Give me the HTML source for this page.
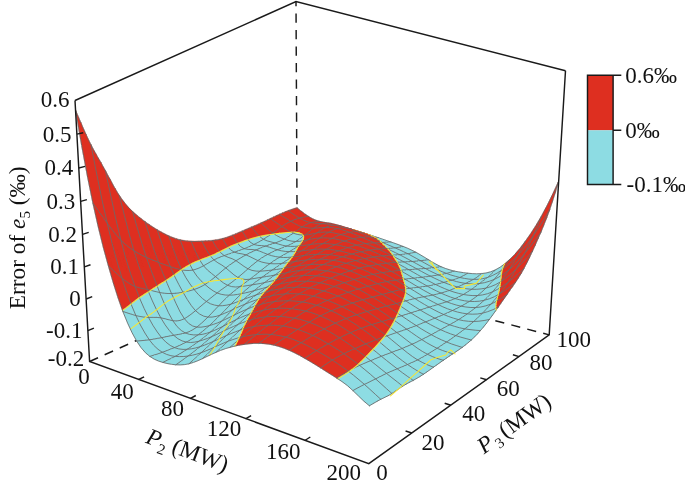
<!DOCTYPE html><html><head><meta charset="utf-8"><title>Error of e5</title><style>html,body{margin:0;padding:0;background:#fff}svg{display:block}
.rf{fill:#de2f20;stroke:#de2f20;stroke-width:.4;shape-rendering:crispEdges}.cf{fill:#8ddce3;stroke:#8ddce3;stroke-width:.4;shape-rendering:crispEdges}
.m{fill:none;stroke:#6a6a6a;stroke-width:.85}.y{fill:none;stroke:#f3e63a;stroke-width:1.1}</style></head><body><svg width="685" height="488" viewBox="0 0 685 488">
<rect width="685" height="488" fill="#fff"/>
<path d="M75.0,100.5L296.0,1.6L565.5,70.7" stroke="#1a1a1a" stroke-width="1.45" fill="none" stroke-linecap="butt" stroke-linejoin="miter"/>
<path d="M296.0,1.6L297.3,268.5" stroke="#1a1a1a" stroke-width="1.45" fill="none" stroke-linecap="butt" stroke-dasharray="9.2 7.3" stroke-dashoffset="4.5"/>
<path d="M89.6,361.5L297.3,268.5" stroke="#1a1a1a" stroke-width="1.45" fill="none" stroke-linecap="butt" stroke-dasharray="9.2 7.3" stroke-dashoffset="0"/>
<path d="M549.2,334.9L297.3,268.5" stroke="#1a1a1a" stroke-width="1.45" fill="none" stroke-linecap="butt" stroke-dasharray="9.2 7.3" stroke-dashoffset="3"/>
<g stroke-linejoin="round" stroke-linecap="round"><path d="M294.2,208.7L297.9,211.6L301.7,214.4L305.5,216.8L309.2,218.9L313.0,220.5L316.8,221.6L320.6,222.3L324.5,222.8L328.3,223.4L332.2,224.1L336.1,225.0L340.0,226.0L343.9,227.1L347.9,228.2L350.6,228.9L346.7,227.7L342.8,226.5L338.9,225.3L335.0,224.3L331.2,223.4L327.3,222.8L323.5,222.2L319.7,221.4L315.9,220.2L312.1,218.5L308.3,216.3L304.6,213.7L300.8,210.8L297.1,207.8ZM347.9,228.2L351.8,229.3L354.4,230.1L353.3,229.8L350.6,228.9ZM351.8,229.3L355.8,230.5L358.0,231.2L354.4,230.1ZM355.8,230.5L359.8,231.7L361.5,232.3L358.0,231.2ZM359.8,231.7L363.8,233.0L365.0,233.4L361.5,232.3ZM363.8,233.0L367.8,234.4L368.4,234.6L365.0,233.4ZM367.8,234.4L371.1,235.6L368.4,234.6ZM504.5,264.3L505.0,263.6L504.6,263.9ZM503.9,265.8L507.3,262.9L509.9,259.2L505.0,263.6L504.5,264.3ZM507.3,262.9L512.3,258.1L517.4,252.6L522.6,246.4L527.8,239.5L533.1,231.8L538.6,223.2L544.1,213.8L549.7,203.3L555.5,191.8L558.5,181.5L552.6,194.3L546.9,205.8L541.4,216.2L535.9,225.5L530.5,233.9L525.2,241.4L520.1,248.1L515.0,254.1L509.9,259.2Z" class="rf"/><path d="M354.4,230.1L354.6,230.2L353.3,229.8ZM358.0,231.2L358.6,231.4L354.6,230.2L354.4,230.1ZM361.5,232.3L362.5,232.6L358.6,231.4L358.0,231.2ZM365.0,233.4L366.5,233.8L362.5,232.6L361.5,232.3ZM368.4,234.6L370.5,235.1L366.5,233.8L365.0,233.4ZM371.1,235.6L371.8,235.9L374.6,236.5L370.5,235.1L368.4,234.6ZM371.8,235.9L375.9,237.4L380.0,239.0L384.1,240.6L388.2,242.2L392.3,243.7L396.4,245.3L400.6,247.0L404.8,248.7L409.0,250.6L413.2,252.7L417.4,255.1L421.6,257.5L425.8,260.1L430.1,262.6L434.4,265.0L438.7,267.1L443.0,269.0L447.4,270.6L451.7,271.9L456.2,273.0L460.6,274.0L465.1,274.8L469.6,275.4L474.1,275.8L478.7,275.9L483.3,275.5L488.0,274.5L492.7,272.8L497.5,270.3L500.1,267.2L495.3,269.9L490.6,271.8L485.9,273.0L481.3,273.6L476.7,273.8L472.2,273.6L467.7,273.2L463.2,272.6L458.8,271.9L454.3,271.1L450.0,269.9L445.6,268.5L441.3,266.8L437.0,264.7L432.7,262.3L428.5,259.7L424.2,257.1L420.0,254.6L415.8,252.2L411.6,250.1L407.5,248.2L403.3,246.5L399.1,244.9L395.0,243.4L390.9,242.0L386.8,240.6L382.7,239.2L378.6,237.8L374.6,236.5ZM497.5,270.3L502.4,267.0L504.5,264.3L504.6,263.9L500.1,267.2ZM502.4,267.0L503.9,265.8L504.5,264.3Z" class="cf"/><path d="M294.2,208.7L297.1,207.8M305.5,216.8L308.3,216.3M316.8,221.6L319.7,221.4M328.3,223.4L331.2,223.4M340.0,226.0L342.8,226.5M351.8,229.3L354.6,230.2M363.8,233.0L366.5,233.8M375.9,237.4L378.6,237.8M388.2,242.2L390.9,242.0M400.6,247.0L403.3,246.5M413.2,252.7L415.8,252.2M425.8,260.1L428.5,259.7M438.7,267.1L441.3,266.8M451.7,271.9L454.3,271.1M465.1,274.8L467.7,273.2M478.7,275.9L481.3,273.6M492.7,272.8L495.3,269.9M507.3,262.9L509.9,259.2M522.6,246.4L525.2,241.4M538.6,223.2L541.4,216.2M555.5,191.8L558.5,181.5M297.1,207.8L300.8,210.8L304.6,213.7L308.3,216.3L312.1,218.5L315.9,220.2L319.7,221.4L323.5,222.2L327.3,222.8L331.2,223.4L335.0,224.3L338.9,225.3L342.8,226.5L346.7,227.7L350.6,228.9L354.6,230.2L358.6,231.4L362.5,232.6L366.5,233.8L370.5,235.1L374.6,236.5L378.6,237.8L382.7,239.2L386.8,240.6L390.9,242.0L395.0,243.4L399.1,244.9L403.3,246.5L407.5,248.2L411.6,250.1L415.8,252.2L420.0,254.6L424.2,257.1L428.5,259.7L432.7,262.3L437.0,264.7L441.3,266.8L445.6,268.5L450.0,269.9L454.3,271.1L458.8,271.9L463.2,272.6L467.7,273.2L472.2,273.6L476.7,273.8L481.3,273.6L485.9,273.0L490.6,271.8L495.3,269.9L500.1,267.2L505.0,263.6L509.9,259.2L515.0,254.1L520.1,248.1L525.2,241.4L530.5,233.9L535.9,225.5L541.4,216.2L546.9,205.8L552.6,194.3L558.5,181.5" class="m"/><path d="M354.4,230.1L353.3,229.8M358.0,231.2L354.4,230.1M361.5,232.3L358.0,231.2M365.0,233.4L361.5,232.3M368.4,234.6L365.0,233.4M371.1,235.6L368.4,234.6M431.9,262.4L431.8,261.7M432.4,263.9L431.9,262.4M504.5,264.3L504.6,263.9M503.9,265.8L504.5,264.3" class="y"/><path d="M291.3,209.7L295.0,212.4L298.8,215.1L302.6,217.4L306.3,219.4L310.1,220.9L313.9,222.0L317.8,222.6L321.6,223.0L325.5,223.4L329.4,224.0L333.3,224.7L337.2,225.6L341.1,226.5L345.0,227.6L349.0,228.6L353.0,229.8L357.0,231.0L361.0,232.4L365.0,233.9L367.8,234.4L363.8,233.0L359.8,231.7L355.8,230.5L351.8,229.3L347.9,228.2L343.9,227.1L340.0,226.0L336.1,225.0L332.2,224.1L328.3,223.4L324.5,222.8L320.6,222.3L316.8,221.6L313.0,220.5L309.2,218.9L305.5,216.8L301.7,214.4L297.9,211.6L294.2,208.7ZM365.0,233.9L369.1,235.5L371.7,235.9L371.1,235.6L367.8,234.4ZM369.1,235.5L373.1,237.2L374.6,237.3L371.7,235.9ZM373.1,237.2L377.2,238.9L377.3,238.9L374.6,237.3ZM377.2,238.9L377.3,238.9L377.3,238.9ZM503.1,267.6L504.7,266.5L507.3,262.9L503.9,265.8ZM504.7,266.5L509.7,262.1L514.7,257.1L519.9,251.4L525.1,245.0L530.4,237.9L535.8,229.9L541.2,221.2L546.8,211.6L552.5,201.2L555.5,191.8L549.7,203.3L544.1,213.8L538.6,223.2L533.1,231.8L527.8,239.5L522.6,246.4L517.4,252.6L512.3,258.1L507.3,262.9Z" class="rf"/><path d="M371.7,235.9L371.8,235.9L371.1,235.6ZM374.6,237.3L375.9,237.4L371.8,235.9L371.7,235.9ZM377.3,238.9L380.0,239.0L375.9,237.4L374.6,237.3ZM377.3,238.9L381.3,240.6L384.1,240.6L380.0,239.0L377.3,238.9ZM381.3,240.6L385.4,242.3L389.6,244.0L393.7,245.7L397.9,247.5L402.1,249.3L406.3,251.2L410.5,253.3L414.7,255.5L418.9,257.9L423.2,260.4L427.4,262.9L431.7,265.2L436.0,267.4L440.4,269.4L444.7,271.2L449.1,272.7L453.6,274.1L458.0,275.2L462.5,276.2L467.0,277.0L471.5,277.6L476.1,277.8L480.7,277.5L485.4,276.7L490.1,275.3L494.9,273.1L499.7,270.1L502.4,267.0L497.5,270.3L492.7,272.8L488.0,274.5L483.3,275.5L478.7,275.9L474.1,275.8L469.6,275.4L465.1,274.8L460.6,274.0L456.2,273.0L451.7,271.9L447.4,270.6L443.0,269.0L438.7,267.1L434.4,265.0L430.1,262.6L425.8,260.1L421.6,257.5L417.4,255.1L413.2,252.7L409.0,250.6L404.8,248.7L400.6,247.0L396.4,245.3L392.3,243.7L388.2,242.2L384.1,240.6ZM499.7,270.1L503.1,267.6L503.9,265.8L502.4,267.0Z" class="cf"/><path d="M291.3,209.7L294.2,208.7M302.6,217.4L305.5,216.8M313.9,222.0L316.8,221.6M325.5,223.4L328.3,223.4M337.2,225.6L340.0,226.0M349.0,228.6L351.8,229.3M361.0,232.4L363.8,233.0M373.1,237.2L375.9,237.4M385.4,242.3L388.2,242.2M397.9,247.5L400.6,247.0M410.5,253.3L413.2,252.7M423.2,260.4L425.8,260.1M436.0,267.4L438.7,267.1M449.1,272.7L451.7,271.9M462.5,276.2L465.1,274.8M476.1,277.8L478.7,275.9M490.1,275.3L492.7,272.8M504.7,266.5L507.3,262.9M519.9,251.4L522.6,246.4M535.8,229.9L538.6,223.2M552.5,201.2L555.5,191.8" class="m"/><path d="M371.7,235.9L371.1,235.6M374.6,237.3L371.7,235.9M377.3,238.9L374.6,237.3M377.3,238.9L377.3,238.9M432.9,265.1L432.4,263.9M433.6,266.2L432.9,265.1M503.1,267.6L503.9,265.8" class="y"/><path d="M288.4,210.7L292.1,213.4L295.9,215.9L299.7,218.1L303.4,220.1L307.2,221.6L311.1,222.6L314.9,223.2L318.7,223.5L322.6,223.7L326.5,224.2L330.4,224.7L334.3,225.4L338.3,226.2L342.2,227.1L346.2,228.1L350.2,229.3L354.2,230.6L358.2,232.0L362.2,233.6L366.3,235.3L370.4,237.0L374.5,238.9L377.2,238.9L373.1,237.2L369.1,235.5L365.0,233.9L361.0,232.4L357.0,231.0L353.0,229.8L349.0,228.6L345.0,227.6L341.1,226.5L337.2,225.6L333.3,224.7L329.4,224.0L325.5,223.4L321.6,223.0L317.8,222.6L313.9,222.0L310.1,220.9L306.3,219.4L302.6,217.4L298.8,215.1L295.0,212.4L291.3,209.7ZM374.5,238.9L378.6,240.7L379.5,240.7L377.3,238.9L377.2,238.9ZM378.6,240.7L380.4,241.5L379.5,240.7ZM502.7,269.1L504.7,266.5L503.1,267.6ZM502.5,269.5L507.0,266.0L509.7,262.1L504.7,266.5L502.7,269.1ZM507.0,266.0L512.0,261.5L517.1,256.3L522.3,250.4L527.6,243.8L533.0,236.3L538.4,228.2L544.0,219.3L549.6,209.9L552.5,201.2L546.8,211.6L541.2,221.2L535.8,229.9L530.4,237.9L525.1,245.0L519.9,251.4L514.7,257.1L509.7,262.1Z" class="rf"/><path d="M379.5,240.7L381.3,240.6L377.3,238.9ZM380.4,241.5L382.7,242.5L385.4,242.3L381.3,240.6L379.5,240.7ZM382.7,242.5L386.8,244.3L391.0,246.1L395.1,247.9L399.3,249.7L403.5,251.7L407.8,253.7L412.0,256.0L416.2,258.3L420.5,260.7L424.8,263.1L429.1,265.5L433.4,267.7L437.7,269.8L442.1,271.7L446.5,273.4L450.9,275.0L455.4,276.3L459.9,277.5L464.4,278.4L468.9,279.1L473.5,279.4L478.1,279.3L482.8,278.7L487.5,277.5L492.3,275.6L497.1,273.1L499.7,270.1L494.9,273.1L490.1,275.3L485.4,276.7L480.7,277.5L476.1,277.8L471.5,277.6L467.0,277.0L462.5,276.2L458.0,275.2L453.6,274.1L449.1,272.7L444.7,271.2L440.4,269.4L436.0,267.4L431.7,265.2L427.4,262.9L423.2,260.4L418.9,257.9L414.7,255.5L410.5,253.3L406.3,251.2L402.1,249.3L397.9,247.5L393.7,245.7L389.6,244.0L385.4,242.3ZM497.1,273.1L502.0,269.9L502.7,269.1L503.1,267.6L499.7,270.1ZM502.0,269.9L502.5,269.5L502.7,269.1Z" class="cf"/><path d="M288.4,210.7L291.3,209.7M299.7,218.1L302.6,217.4M311.1,222.6L313.9,222.0M322.6,223.7L325.5,223.4M334.3,225.4L337.2,225.6M346.2,228.1L349.0,228.6M358.2,232.0L361.0,232.4M370.4,237.0L373.1,237.2M382.7,242.5L385.4,242.3M395.1,247.9L397.9,247.5M407.8,253.7L410.5,253.3M420.5,260.7L423.2,260.4M433.4,267.7L436.0,267.4M446.5,273.4L449.1,272.7M459.9,277.5L462.5,276.2M473.5,279.4L476.1,277.8M487.5,277.5L490.1,275.3M502.0,269.9L504.7,266.5M517.1,256.3L519.9,251.4M533.0,236.3L535.8,229.9M549.6,209.9L552.5,201.2" class="m"/><path d="M379.5,240.7L377.3,238.9M380.4,241.5L379.5,240.7M434.4,267.6L433.6,266.2M435.2,268.6L434.4,267.6M502.7,269.1L503.1,267.6M502.5,269.5L502.7,269.1" class="y"/><path d="M285.4,211.9L289.2,214.4L293.0,216.7L296.7,219.0L300.5,221.0L304.3,222.6L308.1,223.6L312.0,224.2L315.8,224.5L319.7,224.6L323.6,224.9L327.5,225.2L331.5,225.6L335.4,226.2L339.4,227.0L343.3,227.9L347.3,229.1L351.4,230.4L355.4,231.8L359.4,233.5L363.5,235.2L367.6,237.0L371.7,238.9L375.8,240.8L378.6,240.7L374.5,238.9L370.4,237.0L366.3,235.3L362.2,233.6L358.2,232.0L354.2,230.6L350.2,229.3L346.2,228.1L342.2,227.1L338.3,226.2L334.3,225.4L330.4,224.7L326.5,224.2L322.6,223.7L318.7,223.5L314.9,223.2L311.1,222.6L307.2,221.6L303.4,220.1L299.7,218.1L295.9,215.9L292.1,213.4L288.4,210.7ZM375.8,240.8L379.9,242.7L381.5,242.6L380.4,241.5L378.6,240.7ZM379.9,242.7L382.9,244.0L381.5,242.6ZM501.9,271.4L504.3,269.8L507.0,266.0L502.5,269.5ZM504.3,269.8L509.3,265.8L514.4,261.1L519.6,255.6L524.9,249.4L530.2,242.4L535.6,234.7L541.1,226.5L546.7,217.8L549.6,209.9L544.0,219.3L538.4,228.2L533.0,236.3L527.6,243.8L522.3,250.4L517.1,256.3L512.0,261.5L507.0,266.0Z" class="rf"/><path d="M381.5,242.6L382.7,242.5L380.4,241.5ZM382.9,244.0L384.0,244.5L386.8,244.3L382.7,242.5L381.5,242.6ZM384.0,244.5L388.2,246.4L392.4,248.2L396.6,250.1L400.8,252.1L405.0,254.1L409.3,256.4L413.5,258.7L417.8,261.0L422.1,263.4L426.4,265.7L430.7,268.0L435.1,270.2L439.5,272.2L443.9,274.0L448.3,275.7L452.8,277.2L457.2,278.5L461.7,279.6L466.3,280.4L470.9,280.8L475.5,280.9L480.2,280.5L484.9,279.5L489.6,278.0L494.5,275.9L499.4,273.2L502.0,269.9L497.1,273.1L492.3,275.6L487.5,277.5L482.8,278.7L478.1,279.3L473.5,279.4L468.9,279.1L464.4,278.4L459.9,277.5L455.4,276.3L450.9,275.0L446.5,273.4L442.1,271.7L437.7,269.8L433.4,267.7L429.1,265.5L424.8,263.1L420.5,260.7L416.2,258.3L412.0,256.0L407.8,253.7L403.5,251.7L399.3,249.7L395.1,247.9L391.0,246.1L386.8,244.3ZM499.4,273.2L501.9,271.4L502.5,269.5L502.0,269.9Z" class="cf"/><path d="M285.4,211.9L288.4,210.7M296.7,219.0L299.7,218.1M308.1,223.6L311.1,222.6M319.7,224.6L322.6,223.7M331.5,225.6L334.3,225.4M343.3,227.9L346.2,228.1M355.4,231.8L358.2,232.0M367.6,237.0L370.4,237.0M379.9,242.7L382.7,242.5M392.4,248.2L395.1,247.9M405.0,254.1L407.8,253.7M417.8,261.0L420.5,260.7M430.7,268.0L433.4,267.7M443.9,274.0L446.5,273.4M457.2,278.5L459.9,277.5M470.9,280.8L473.5,279.4M484.9,279.5L487.5,277.5M499.4,273.2L502.0,269.9M514.4,261.1L517.1,256.3M530.2,242.4L533.0,236.3M546.7,217.8L549.6,209.9M288.4,210.7L292.1,213.4L295.9,215.9L299.7,218.1L303.4,220.1L307.2,221.6L311.1,222.6L314.9,223.2L318.7,223.5L322.6,223.7L326.5,224.2L330.4,224.7L334.3,225.4L338.3,226.2L342.2,227.1L346.2,228.1L350.2,229.3L354.2,230.6L358.2,232.0L362.2,233.6L366.3,235.3L370.4,237.0L374.5,238.9L378.6,240.7L382.7,242.5L386.8,244.3L391.0,246.1L395.1,247.9L399.3,249.7L403.5,251.7L407.8,253.7L412.0,256.0L416.2,258.3L420.5,260.7L424.8,263.1L429.1,265.5L433.4,267.7L437.7,269.8L442.1,271.7L446.5,273.4L450.9,275.0L455.4,276.3L459.9,277.5L464.4,278.4L468.9,279.1L473.5,279.4L478.1,279.3L482.8,278.7L487.5,277.5L492.3,275.6L497.1,273.1L502.0,269.9L507.0,266.0L512.0,261.5L517.1,256.3L522.3,250.4L527.6,243.8L533.0,236.3L538.4,228.2L544.0,219.3L549.6,209.9" class="m"/><path d="M381.5,242.6L380.4,241.5M382.9,244.0L381.5,242.6M436.2,270.0L435.2,268.6M501.9,271.4L502.5,269.5" class="y"/><path d="M282.5,213.1L286.2,215.5L290.0,217.8L293.8,220.0L297.6,222.1L301.4,223.9L305.2,225.1L309.1,225.8L312.9,226.1L316.8,226.1L320.7,226.1L324.6,226.2L328.6,226.3L332.5,226.6L336.5,227.2L340.5,228.1L344.5,229.2L348.5,230.5L352.5,232.0L356.6,233.6L360.7,235.3L364.8,237.1L368.9,239.0L373.0,240.9L377.1,242.8L379.9,242.7L375.8,240.8L371.7,238.9L367.6,237.0L363.5,235.2L359.4,233.5L355.4,231.8L351.4,230.4L347.3,229.1L343.3,227.9L339.4,227.0L335.4,226.2L331.5,225.6L327.5,225.2L323.6,224.9L319.7,224.6L315.8,224.5L312.0,224.2L308.1,223.6L304.3,222.6L300.5,221.0L296.7,219.0L293.0,216.7L289.2,214.4L285.4,211.9ZM377.1,242.8L381.3,244.7L383.5,244.6L382.9,244.0L379.9,242.7ZM381.3,244.7L385.4,246.5L385.5,246.5L383.5,244.6ZM385.4,246.5L385.5,246.6L385.5,246.5ZM501.6,273.5L504.3,269.8L501.9,271.4ZM501.6,273.5L506.6,269.9L509.3,265.8L504.3,269.8L501.6,273.5ZM506.6,269.9L511.7,265.6L516.9,260.5L522.1,254.7L527.4,248.2L532.8,241.0L538.3,233.2L543.8,225.1L546.7,217.8L541.1,226.5L535.6,234.7L530.2,242.4L524.9,249.4L519.6,255.6L514.4,261.1L509.3,265.8Z" class="rf"/><path d="M383.5,244.6L384.0,244.5L382.9,244.0ZM385.5,246.5L388.2,246.4L384.0,244.5L383.5,244.6ZM385.5,246.6L389.6,248.4L392.4,248.2L388.2,246.4L385.5,246.5ZM389.6,248.4L393.8,250.4L398.1,252.4L402.3,254.4L406.5,256.6L410.8,258.9L415.1,261.3L419.4,263.6L423.7,266.0L428.1,268.3L432.4,270.5L436.8,272.6L441.2,274.6L445.6,276.4L450.1,278.0L454.6,279.4L459.1,280.6L463.7,281.5L468.2,282.1L472.9,282.4L477.5,282.2L482.2,281.5L487.0,280.4L491.8,278.7L496.7,276.4L499.4,273.2L494.5,275.9L489.6,278.0L484.9,279.5L480.2,280.5L475.5,280.9L470.9,280.8L466.3,280.4L461.7,279.6L457.2,278.5L452.8,277.2L448.3,275.7L443.9,274.0L439.5,272.2L435.1,270.2L430.7,268.0L426.4,265.7L422.1,263.4L417.8,261.0L413.5,258.7L409.3,256.4L405.0,254.1L400.8,252.1L396.6,250.1L392.4,248.2ZM496.7,276.4L501.6,273.5L501.6,273.5L501.9,271.4L499.4,273.2ZM501.6,273.5L501.6,273.5L501.6,273.5Z" class="cf"/><path d="M282.5,213.1L285.4,211.9M293.8,220.0L296.7,219.0M305.2,225.1L308.1,223.6M316.8,226.1L319.7,224.6M328.6,226.3L331.5,225.6M340.5,228.1L343.3,227.9M352.5,232.0L355.4,231.8M364.8,237.1L367.6,237.0M377.1,242.8L379.9,242.7M389.6,248.4L392.4,248.2M402.3,254.4L405.0,254.1M415.1,261.3L417.8,261.0M428.1,268.3L430.7,268.0M441.2,274.6L443.9,274.0M454.6,279.4L457.2,278.5M468.2,282.1L470.9,280.8M482.2,281.5L484.9,279.5M496.7,276.4L499.4,273.2M511.7,265.6L514.4,261.1M527.4,248.2L530.2,242.4M543.8,225.1L546.7,217.8" class="m"/><path d="M383.5,244.6L382.9,244.0M385.5,246.5L383.5,244.6M385.5,246.6L385.5,246.5M501.6,273.5L501.9,271.4M501.6,273.5L501.6,273.5" class="y"/><path d="M279.5,214.4L283.3,216.7L287.0,218.9L290.8,221.3L294.6,223.5L298.4,225.5L302.3,226.9L306.1,227.7L310.0,228.1L313.9,228.1L317.8,227.9L321.7,227.6L325.6,227.4L329.6,227.5L333.6,227.9L337.6,228.6L341.6,229.6L345.6,230.9L349.7,232.3L353.7,233.9L357.8,235.6L361.9,237.4L366.0,239.2L370.2,241.0L374.3,242.9L378.5,244.8L382.6,246.7L385.4,246.5L381.3,244.7L377.1,242.8L373.0,240.9L368.9,239.0L364.8,237.1L360.7,235.3L356.6,233.6L352.5,232.0L348.5,230.5L344.5,229.2L340.5,228.1L336.5,227.2L332.5,226.6L328.6,226.3L324.6,226.2L320.7,226.1L316.8,226.1L312.9,226.1L309.1,225.8L305.2,225.1L301.4,223.9L297.6,222.1L293.8,220.0L290.0,217.8L286.2,215.5L282.5,213.1ZM382.6,246.7L386.8,248.6L387.5,248.6L385.5,246.6L385.4,246.5ZM386.8,248.6L388.0,249.1L387.5,248.6ZM501.3,275.5L503.9,273.8L506.6,269.9L501.6,273.5ZM503.9,273.8L509.0,269.9L514.1,265.2L519.3,259.8L524.6,253.7L530.0,246.9L535.5,239.6L541.0,232.0L543.8,225.1L538.3,233.2L532.8,241.0L527.4,248.2L522.1,254.7L516.9,260.5L511.7,265.6L506.6,269.9Z" class="rf"/><path d="M387.5,248.6L389.6,248.4L385.5,246.6ZM388.0,249.1L391.1,250.6L393.8,250.4L389.6,248.4L387.5,248.6ZM391.1,250.6L395.3,252.6L399.5,254.7L403.8,256.9L408.1,259.2L412.4,261.5L416.7,263.8L421.0,266.2L425.4,268.5L429.7,270.8L434.1,272.9L438.5,275.0L443.0,276.9L447.4,278.7L451.9,280.2L456.5,281.6L461.0,282.6L465.6,283.4L470.2,283.8L474.9,283.9L479.6,283.5L484.4,282.7L489.2,281.3L494.0,279.5L498.9,277.0L501.6,273.5L496.7,276.4L491.8,278.7L487.0,280.4L482.2,281.5L477.5,282.2L472.9,282.4L468.2,282.1L463.7,281.5L459.1,280.6L454.6,279.4L450.1,278.0L445.6,276.4L441.2,274.6L436.8,272.6L432.4,270.5L428.1,268.3L423.7,266.0L419.4,263.6L415.1,261.3L410.8,258.9L406.5,256.6L402.3,254.4L398.1,252.4L393.8,250.4ZM498.9,277.0L501.3,275.5L501.6,273.5L501.6,273.5Z" class="cf"/><path d="M279.5,214.4L282.5,213.1M290.8,221.3L293.8,220.0M302.3,226.9L305.2,225.1M313.9,228.1L316.8,226.1M325.6,227.4L328.6,226.3M337.6,228.6L340.5,228.1M349.7,232.3L352.5,232.0M361.9,237.4L364.8,237.1M374.3,242.9L377.1,242.8M386.8,248.6L389.6,248.4M399.5,254.7L402.3,254.4M412.4,261.5L415.1,261.3M425.4,268.5L428.1,268.3M438.5,275.0L441.2,274.6M451.9,280.2L454.6,279.4M465.6,283.4L468.2,282.1M479.6,283.5L482.2,281.5M494.0,279.5L496.7,276.4M509.0,269.9L511.7,265.6M524.6,253.7L527.4,248.2M541.0,232.0L543.8,225.1" class="m"/><path d="M387.5,248.6L385.5,246.6M388.0,249.1L387.5,248.6M501.3,275.5L501.6,273.5" class="y"/><path d="M276.5,215.8L280.3,218.1L284.0,220.4L287.8,222.8L291.7,225.2L295.5,227.3L299.3,228.9L303.2,229.9L307.0,230.3L310.9,230.3L314.8,230.0L318.8,229.4L322.7,229.0L326.7,228.7L330.7,228.9L334.7,229.5L338.7,230.4L342.7,231.5L346.8,232.9L350.9,234.4L355.0,236.0L359.1,237.7L363.2,239.4L367.3,241.2L371.5,243.1L375.6,244.9L379.8,246.8L384.0,248.7L386.8,248.6L382.6,246.7L378.5,244.8L374.3,242.9L370.2,241.0L366.0,239.2L361.9,237.4L357.8,235.6L353.7,233.9L349.7,232.3L345.6,230.9L341.6,229.6L337.6,228.6L333.6,227.9L329.6,227.5L325.6,227.4L321.7,227.6L317.8,227.9L313.9,228.1L310.0,228.1L306.1,227.7L302.3,226.9L298.4,225.5L294.6,223.5L290.8,221.3L287.0,218.9L283.3,216.7L279.5,214.4ZM384.0,248.7L388.3,250.7L389.3,250.7L388.0,249.1L386.8,248.6ZM388.3,250.7L390.1,251.6L389.3,250.7ZM501.1,277.6L501.2,277.5L503.9,273.8L501.3,275.5ZM501.2,277.5L506.3,274.0L511.4,269.7L516.6,264.7L521.9,259.0L527.2,252.6L532.7,245.7L538.1,238.5L541.0,232.0L535.5,239.6L530.0,246.9L524.6,253.7L519.3,259.8L514.1,265.2L509.0,269.9L503.9,273.8Z" class="rf"/><path d="M389.3,250.7L391.1,250.6L388.0,249.1ZM390.1,251.6L392.5,252.8L395.3,252.6L391.1,250.6L389.3,250.7ZM392.5,252.8L396.8,254.9L401.0,257.1L405.3,259.4L409.6,261.7L414.0,264.0L418.3,266.4L422.7,268.7L427.0,271.0L431.4,273.3L435.9,275.4L440.3,277.4L444.8,279.3L449.3,281.0L453.8,282.4L458.4,283.7L462.9,284.6L467.6,285.2L472.2,285.5L476.9,285.4L481.7,284.9L486.5,284.0L491.3,282.4L496.3,280.3L498.9,277.0L494.0,279.5L489.2,281.3L484.4,282.7L479.6,283.5L474.9,283.9L470.2,283.8L465.6,283.4L461.0,282.6L456.5,281.6L451.9,280.2L447.4,278.7L443.0,276.9L438.5,275.0L434.1,272.9L429.7,270.8L425.4,268.5L421.0,266.2L416.7,263.8L412.4,261.5L408.1,259.2L403.8,256.9L399.5,254.7L395.3,252.6ZM496.3,280.3L501.1,277.6L501.3,275.5L498.9,277.0Z" class="cf"/><path d="M276.5,215.8L279.5,214.4M287.8,222.8L290.8,221.3M299.3,228.9L302.3,226.9M310.9,230.3L313.9,228.1M322.7,229.0L325.6,227.4M334.7,229.5L337.6,228.6M346.8,232.9L349.7,232.3M359.1,237.7L361.9,237.4M371.5,243.1L374.3,242.9M384.0,248.7L386.8,248.6M396.8,254.9L399.5,254.7M409.6,261.7L412.4,261.5M422.7,268.7L425.4,268.5M435.9,275.4L438.5,275.0M449.3,281.0L451.9,280.2M462.9,284.6L465.6,283.4M476.9,285.4L479.6,283.5M491.3,282.4L494.0,279.5M506.3,274.0L509.0,269.9M521.9,259.0L524.6,253.7M538.1,238.5L541.0,232.0M279.5,214.4L283.3,216.7L287.0,218.9L290.8,221.3L294.6,223.5L298.4,225.5L302.3,226.9L306.1,227.7L310.0,228.1L313.9,228.1L317.8,227.9L321.7,227.6L325.6,227.4L329.6,227.5L333.6,227.9L337.6,228.6L341.6,229.6L345.6,230.9L349.7,232.3L353.7,233.9L357.8,235.6L361.9,237.4L366.0,239.2L370.2,241.0L374.3,242.9L378.5,244.8L382.6,246.7L386.8,248.6L391.1,250.6L395.3,252.6L399.5,254.7L403.8,256.9L408.1,259.2L412.4,261.5L416.7,263.8L421.0,266.2L425.4,268.5L429.7,270.8L434.1,272.9L438.5,275.0L443.0,276.9L447.4,278.7L451.9,280.2L456.5,281.6L461.0,282.6L465.6,283.4L470.2,283.8L474.9,283.9L479.6,283.5L484.4,282.7L489.2,281.3L494.0,279.5L498.9,277.0L503.9,273.8L509.0,269.9L514.1,265.2L519.3,259.8L524.6,253.7L530.0,246.9L535.5,239.6L541.0,232.0" class="m"/><path d="M389.3,250.7L388.0,249.1M390.1,251.6L389.3,250.7M501.1,277.6L501.3,275.5" class="y"/><path d="M273.5,217.2L277.3,219.6L281.0,222.0L284.9,224.5L288.7,227.1L292.5,229.3L296.3,231.1L300.2,232.2L304.1,232.7L308.0,232.7L311.9,232.2L315.8,231.5L319.8,230.8L323.7,230.3L327.7,230.3L331.7,230.7L335.8,231.4L339.8,232.4L343.9,233.7L348.0,235.1L352.1,236.5L356.2,238.1L360.3,239.8L364.4,241.5L368.6,243.3L372.8,245.1L377.0,247.0L381.2,248.9L385.4,250.9L388.3,250.7L384.0,248.7L379.8,246.8L375.6,244.9L371.5,243.1L367.3,241.2L363.2,239.4L359.1,237.7L355.0,236.0L350.9,234.4L346.8,232.9L342.7,231.5L338.7,230.4L334.7,229.5L330.7,228.9L326.7,228.7L322.7,229.0L318.8,229.4L314.8,230.0L310.9,230.3L307.0,230.3L303.2,229.9L299.3,228.9L295.5,227.3L291.7,225.2L287.8,222.8L284.0,220.4L280.3,218.1L276.5,215.8ZM385.4,250.9L389.7,252.9L391.1,252.8L390.1,251.6L388.3,250.7ZM389.7,252.9L391.9,254.0L391.1,252.8ZM501.1,277.6L501.2,277.5L501.1,277.6ZM500.8,279.6L503.5,277.9L506.3,274.0L501.2,277.5L501.1,277.6ZM503.5,277.9L508.7,274.0L513.8,269.4L519.1,264.1L524.4,258.1L529.8,251.7L535.3,245.0L538.1,238.5L532.7,245.7L527.2,252.6L521.9,259.0L516.6,264.7L511.4,269.7L506.3,274.0Z" class="rf"/><path d="M391.1,252.8L392.5,252.8L390.1,251.6ZM391.9,254.0L394.0,255.1L396.8,254.9L392.5,252.8L391.1,252.8ZM394.0,255.1L398.2,257.3L402.5,259.5L406.9,261.8L411.2,264.2L415.5,266.6L419.9,268.9L424.3,271.3L428.7,273.6L433.1,275.8L437.6,277.9L442.1,279.9L446.6,281.7L451.1,283.3L455.7,284.7L460.3,285.8L464.9,286.7L469.6,287.2L474.3,287.4L479.0,287.1L483.8,286.5L488.6,285.3L493.5,283.5L496.3,280.3L491.3,282.4L486.5,284.0L481.7,284.9L476.9,285.4L472.2,285.5L467.6,285.2L462.9,284.6L458.4,283.7L453.8,282.4L449.3,281.0L444.8,279.3L440.3,277.4L435.9,275.4L431.4,273.3L427.0,271.0L422.7,268.7L418.3,266.4L414.0,264.0L409.6,261.7L405.3,259.4L401.0,257.1L396.8,254.9ZM493.5,283.5L498.5,281.1L501.1,277.6L501.1,277.6L496.3,280.3ZM498.5,281.1L500.8,279.6L501.1,277.6Z" class="cf"/><path d="M273.5,217.2L276.5,215.8M284.9,224.5L287.8,222.8M296.3,231.1L299.3,228.9M308.0,232.7L310.9,230.3M319.8,230.8L322.7,229.0M331.7,230.7L334.7,229.5M343.9,233.7L346.8,232.9M356.2,238.1L359.1,237.7M368.6,243.3L371.5,243.1M381.2,248.9L384.0,248.7M394.0,255.1L396.8,254.9M406.9,261.8L409.6,261.7M419.9,268.9L422.7,268.7M433.1,275.8L435.9,275.4M446.6,281.7L449.3,281.0M460.3,285.8L462.9,284.6M474.3,287.4L476.9,285.4M488.6,285.3L491.3,282.4M503.5,277.9L506.3,274.0M519.1,264.1L521.9,259.0M535.3,245.0L538.1,238.5" class="m"/><path d="M391.1,252.8L390.1,251.6M391.9,254.0L391.1,252.8M501.1,277.6L501.1,277.6M500.8,279.6L501.1,277.6" class="y"/><path d="M270.5,218.6L274.2,221.3L278.0,223.9L281.8,226.5L285.7,229.1L289.5,231.4L292.5,229.3L288.7,227.1L284.9,224.5L281.0,222.0L277.3,219.6L273.5,217.2ZM289.5,231.4L291.4,232.3L294.7,232.2L296.3,231.1L292.5,229.3ZM299.3,232.9L300.2,232.2L296.3,231.1L294.7,232.2ZM302.1,234.2L304.1,232.7L300.2,232.2L299.3,232.9ZM302.8,235.0L305.0,235.0L308.0,232.7L304.1,232.7L302.1,234.2ZM305.0,235.0L308.9,234.6L312.8,233.8L316.8,232.9L320.8,232.3L324.8,232.0L328.8,232.2L332.8,232.7L336.9,233.6L341.0,234.6L345.0,235.8L349.1,237.2L353.3,238.7L357.4,240.2L361.6,241.9L365.7,243.6L369.9,245.4L374.1,247.2L378.4,249.1L382.6,251.1L386.9,253.1L389.7,252.9L385.4,250.9L381.2,248.9L377.0,247.0L372.8,245.1L368.6,243.3L364.4,241.5L360.3,239.8L356.2,238.1L352.1,236.5L348.0,235.1L343.9,233.7L339.8,232.4L335.8,231.4L331.7,230.7L327.7,230.3L323.7,230.3L319.8,230.8L315.8,231.5L311.9,232.2L308.0,232.7ZM386.9,253.1L391.1,255.2L392.7,255.1L391.9,254.0L389.7,252.9ZM391.1,255.2L393.6,256.5L392.7,255.1ZM500.7,281.8L500.8,281.7L503.5,277.9L500.8,279.6ZM500.8,281.7L505.9,278.1L511.1,273.9L516.3,269.0L521.6,263.4L527.0,257.5L532.4,251.3L535.3,245.0L529.8,251.7L524.4,258.1L519.1,264.1L513.8,269.4L508.7,274.0L503.5,277.9Z" class="rf"/><path d="M291.4,232.3L293.3,233.2L294.7,232.2ZM293.3,233.2L297.2,234.4L299.3,232.9L294.7,232.2ZM297.2,234.4L301.1,235.0L302.1,234.2L299.3,232.9ZM301.1,235.0L302.8,235.0L302.1,234.2ZM392.7,255.1L394.0,255.1L391.9,254.0ZM393.6,256.5L395.4,257.4L398.2,257.3L394.0,255.1L392.7,255.1ZM395.4,257.4L399.7,259.7L404.1,262.0L408.4,264.3L412.8,266.7L417.2,269.1L421.6,271.5L426.0,273.9L430.4,276.2L434.9,278.4L439.4,280.5L443.9,282.4L448.4,284.2L453.0,285.7L457.6,287.0L462.2,288.1L466.9,288.8L471.6,289.3L476.3,289.3L481.1,288.9L485.9,288.1L490.8,286.6L495.8,284.5L498.5,281.1L493.5,283.5L488.6,285.3L483.8,286.5L479.0,287.1L474.3,287.4L469.6,287.2L464.9,286.7L460.3,285.8L455.7,284.7L451.1,283.3L446.6,281.7L442.1,279.9L437.6,277.9L433.1,275.8L428.7,273.6L424.3,271.3L419.9,268.9L415.5,266.6L411.2,264.2L406.9,261.8L402.5,259.5L398.2,257.3ZM495.8,284.5L500.7,281.8L500.8,279.6L498.5,281.1Z" class="cf"/><path d="M270.5,218.6L273.5,217.2M281.8,226.5L284.9,224.5M293.3,233.2L296.3,231.1M305.0,235.0L308.0,232.7M316.8,232.9L319.8,230.8M328.8,232.2L331.7,230.7M341.0,234.6L343.9,233.7M353.3,238.7L356.2,238.1M365.7,243.6L368.6,243.3M378.4,249.1L381.2,248.9M391.1,255.2L394.0,255.1M404.1,262.0L406.9,261.8M417.2,269.1L419.9,268.9M430.4,276.2L433.1,275.8M443.9,282.4L446.6,281.7M457.6,287.0L460.3,285.8M471.6,289.3L474.3,287.4M485.9,288.1L488.6,285.3M500.8,281.7L503.5,277.9M516.3,269.0L519.1,264.1M532.4,251.3L535.3,245.0" class="m"/><path d="M291.4,232.3L294.7,232.2M299.3,232.9L294.7,232.2M302.1,234.2L299.3,232.9M302.8,235.0L302.1,234.2M392.7,255.1L391.9,254.0M393.6,256.5L392.7,255.1M500.7,281.8L500.8,279.6" class="y"/><path d="M267.4,220.1L271.2,223.0L275.0,225.9L278.8,228.7L282.6,231.3L285.7,229.1L281.8,226.5L278.0,223.9L274.2,221.3L270.5,218.6ZM282.6,231.3L285.2,232.8L288.0,232.5L289.5,231.4L285.7,229.1ZM291.4,232.3L289.5,231.4L288.0,232.5ZM303.6,236.1L305.0,235.0L302.8,235.0ZM303.6,237.2L305.9,236.9L308.9,234.6L305.0,235.0L303.6,236.1ZM305.9,236.9L309.8,236.1L313.8,235.2L317.8,234.4L321.8,234.0L325.8,234.0L329.9,234.3L333.9,234.9L338.0,235.7L342.1,236.8L346.2,238.0L350.3,239.3L354.5,240.8L358.7,242.4L362.8,244.1L367.0,245.8L371.3,247.6L375.5,249.4L379.7,251.3L384.0,253.3L388.3,255.4L391.1,255.2L386.9,253.1L382.6,251.1L378.4,249.1L374.1,247.2L369.9,245.4L365.7,243.6L361.6,241.9L357.4,240.2L353.3,238.7L349.1,237.2L345.0,235.8L341.0,234.6L336.9,233.6L332.8,232.7L328.8,232.2L324.8,232.0L320.8,232.3L316.8,232.9L312.8,233.8L308.9,234.6ZM388.3,255.4L392.6,257.6L394.2,257.5L393.6,256.5L391.1,255.2ZM392.6,257.6L395.1,258.9L394.2,257.5ZM500.7,281.9L500.8,281.7L500.7,281.8ZM500.3,283.8L503.2,282.1L505.9,278.1L500.8,281.7L500.7,281.9ZM503.2,282.1L508.3,278.2L513.5,273.7L518.8,268.6L524.2,263.1L529.6,257.4L532.4,251.3L527.0,257.5L521.6,263.4L516.3,269.0L511.1,273.9L505.9,278.1Z" class="rf"/><path d="M285.2,232.8L286.5,233.5L288.0,232.5ZM286.5,233.5L290.3,235.3L293.3,233.2L291.4,232.3L288.0,232.5ZM290.3,235.3L294.2,236.6L298.1,237.3L301.1,235.0L297.2,234.4L293.3,233.2ZM298.1,237.3L302.0,237.3L303.6,236.1L302.8,235.0L301.1,235.0ZM302.0,237.3L303.6,237.2L303.6,236.1ZM394.2,257.5L395.4,257.4L393.6,256.5ZM395.1,258.9L396.9,259.8L399.7,259.7L395.4,257.4L394.2,257.5ZM396.9,259.8L401.3,262.1L405.6,264.5L410.0,266.9L414.4,269.3L418.8,271.7L423.2,274.2L427.7,276.6L432.1,278.9L436.6,281.1L441.1,283.2L445.7,285.1L450.3,286.8L454.9,288.3L459.5,289.5L464.2,290.4L468.9,291.1L473.6,291.4L478.4,291.3L483.2,290.7L488.1,289.6L493.1,287.8L495.8,284.5L490.8,286.6L485.9,288.1L481.1,288.9L476.3,289.3L471.6,289.3L466.9,288.8L462.2,288.1L457.6,287.0L453.0,285.7L448.4,284.2L443.9,282.4L439.4,280.5L434.9,278.4L430.4,276.2L426.0,273.9L421.6,271.5L417.2,269.1L412.8,266.7L408.4,264.3L404.1,262.0L399.7,259.7ZM493.1,287.8L498.1,285.3L500.7,281.9L500.7,281.8L495.8,284.5ZM498.1,285.3L500.3,283.8L500.7,281.9Z" class="cf"/><path d="M267.4,220.1L270.5,218.6M278.8,228.7L281.8,226.5M290.3,235.3L293.3,233.2M302.0,237.3L305.0,235.0M313.8,235.2L316.8,232.9M325.8,234.0L328.8,232.2M338.0,235.7L341.0,234.6M350.3,239.3L353.3,238.7M362.8,244.1L365.7,243.6M375.5,249.4L378.4,249.1M388.3,255.4L391.1,255.2M401.3,262.1L404.1,262.0M414.4,269.3L417.2,269.1M427.7,276.6L430.4,276.2M441.1,283.2L443.9,282.4M454.9,288.3L457.6,287.0M468.9,291.1L471.6,289.3M483.2,290.7L485.9,288.1M498.1,285.3L500.8,281.7M513.5,273.7L516.3,269.0M529.6,257.4L532.4,251.3M270.5,218.6L274.2,221.3L278.0,223.9L281.8,226.5L285.7,229.1L289.5,231.4L293.3,233.2L297.2,234.4L301.1,235.0L305.0,235.0L308.9,234.6L312.8,233.8L316.8,232.9L320.8,232.3L324.8,232.0L328.8,232.2L332.8,232.7L336.9,233.6L341.0,234.6L345.0,235.8L349.1,237.2L353.3,238.7L357.4,240.2L361.6,241.9L365.7,243.6L369.9,245.4L374.1,247.2L378.4,249.1L382.6,251.1L386.9,253.1L391.1,255.2L395.4,257.4L399.7,259.7L404.1,262.0L408.4,264.3L412.8,266.7L417.2,269.1L421.6,271.5L426.0,273.9L430.4,276.2L434.9,278.4L439.4,280.5L443.9,282.4L448.4,284.2L453.0,285.7L457.6,287.0L462.2,288.1L466.9,288.8L471.6,289.3L476.3,289.3L481.1,288.9L485.9,288.1L490.8,286.6L495.8,284.5L500.8,281.7L505.9,278.1L511.1,273.9L516.3,269.0L521.6,263.4L527.0,257.5L532.4,251.3" class="m"/><path d="M285.2,232.8L288.0,232.5M291.4,232.3L288.0,232.5M303.6,236.1L302.8,235.0M303.6,237.2L303.6,236.1M394.2,257.5L393.6,256.5M395.1,258.9L394.2,257.5M500.7,281.9L500.7,281.8M500.3,283.8L500.7,281.9" class="y"/><path d="M264.3,221.6L268.1,224.9L271.9,228.0L275.8,230.9L278.8,228.7L275.0,225.9L271.2,223.0L267.4,220.1ZM275.8,230.9L279.5,233.4L279.7,233.4L282.6,231.3L278.8,228.7ZM285.2,232.8L282.6,231.3L279.7,233.4ZM303.5,238.7L305.9,236.9L303.6,237.2ZM303.4,239.1L306.8,238.4L309.8,236.1L305.9,236.9L303.5,238.7ZM306.8,238.4L310.8,237.5L314.8,236.7L318.8,236.1L322.8,235.9L326.9,236.0L330.9,236.4L335.0,237.0L339.1,237.9L343.3,238.9L347.4,240.1L351.6,241.5L355.7,243.0L359.9,244.6L364.1,246.2L368.4,248.0L372.6,249.8L376.9,251.6L381.1,253.6L385.4,255.6L389.8,257.8L392.6,257.6L388.3,255.4L384.0,253.3L379.7,251.3L375.5,249.4L371.3,247.6L367.0,245.8L362.8,244.1L358.7,242.4L354.5,240.8L350.3,239.3L346.2,238.0L342.1,236.8L338.0,235.7L333.9,234.9L329.9,234.3L325.8,234.0L321.8,234.0L317.8,234.4L313.8,235.2L309.8,236.1ZM389.8,257.8L394.1,260.0L395.8,259.9L395.1,258.9L392.6,257.6ZM394.1,260.0L396.7,261.3L395.8,259.9ZM500.1,286.0L500.4,285.8L503.2,282.1L500.3,283.8ZM500.4,285.8L505.5,282.3L510.7,278.2L516.0,273.5L521.4,268.4L526.7,263.2L529.6,257.4L524.2,263.1L518.8,268.6L513.5,273.7L508.3,278.2L503.2,282.1Z" class="rf"/><path d="M279.5,233.4L279.6,233.4L279.7,233.4ZM279.6,233.4L283.4,235.6L286.5,233.5L285.2,232.8L279.7,233.4ZM283.4,235.6L287.3,237.3L291.2,238.6L295.1,239.3L299.0,239.5L302.0,237.3L298.1,237.3L294.2,236.6L290.3,235.3L286.5,233.5ZM299.0,239.5L302.9,239.2L303.5,238.7L303.6,237.2L302.0,237.3ZM302.9,239.2L303.4,239.1L303.5,238.7ZM395.8,259.9L396.9,259.8L395.1,258.9ZM396.7,261.3L398.4,262.3L401.3,262.1L396.9,259.8L395.8,259.9ZM398.4,262.3L402.8,264.6L407.2,267.0L411.6,269.5L416.0,272.0L420.4,274.4L424.9,276.9L429.4,279.3L433.9,281.6L438.4,283.8L442.9,285.9L447.5,287.7L452.1,289.4L456.8,290.8L461.4,292.0L466.1,292.8L470.9,293.4L475.7,293.5L480.5,293.2L485.4,292.3L490.3,290.8L495.3,288.6L498.1,285.3L493.1,287.8L488.1,289.6L483.2,290.7L478.4,291.3L473.6,291.4L468.9,291.1L464.2,290.4L459.5,289.5L454.9,288.3L450.3,286.8L445.7,285.1L441.1,283.2L436.6,281.1L432.1,278.9L427.7,276.6L423.2,274.2L418.8,271.7L414.4,269.3L410.0,266.9L405.6,264.5L401.3,262.1ZM495.3,288.6L500.1,286.0L500.3,283.8L498.1,285.3Z" class="cf"/><path d="M264.3,221.6L267.4,220.1M275.8,230.9L278.8,228.7M287.3,237.3L290.3,235.3M299.0,239.5L302.0,237.3M310.8,237.5L313.8,235.2M322.8,235.9L325.8,234.0M335.0,237.0L338.0,235.7M347.4,240.1L350.3,239.3M359.9,244.6L362.8,244.1M372.6,249.8L375.5,249.4M385.4,255.6L388.3,255.4M398.4,262.3L401.3,262.1M411.6,269.5L414.4,269.3M424.9,276.9L427.7,276.6M438.4,283.8L441.1,283.2M452.1,289.4L454.9,288.3M466.1,292.8L468.9,291.1M480.5,293.2L483.2,290.7M495.3,288.6L498.1,285.3M510.7,278.2L513.5,273.7M526.7,263.2L529.6,257.4" class="m"/><path d="M279.5,233.4L279.7,233.4M285.2,232.8L279.7,233.4M303.5,238.7L303.6,237.2M303.4,239.1L303.5,238.7M395.8,259.9L395.1,258.9M396.7,261.3L395.8,259.9M500.1,286.0L500.3,283.8" class="y"/><path d="M261.2,223.0L265.1,226.8L268.9,230.2L272.7,233.1L275.8,230.9L271.9,228.0L268.1,224.9L264.3,221.6ZM272.7,233.1L274.2,234.1L279.5,233.4L275.8,230.9ZM302.5,240.8L303.8,240.6L306.8,238.4L303.4,239.1ZM303.8,240.6L307.8,239.8L311.8,239.0L315.8,238.3L319.8,238.0L323.9,237.9L327.9,238.0L332.0,238.5L336.1,239.1L340.3,240.0L344.4,241.1L348.6,242.3L352.8,243.7L357.0,245.2L361.2,246.8L365.4,248.4L369.7,250.2L374.0,252.0L378.3,253.9L382.6,255.9L386.9,258.0L391.2,260.2L394.1,260.0L389.8,257.8L385.4,255.6L381.1,253.6L376.9,251.6L372.6,249.8L368.4,248.0L364.1,246.2L359.9,244.6L355.7,243.0L351.6,241.5L347.4,240.1L343.3,238.9L339.1,237.9L335.0,237.0L330.9,236.4L326.9,236.0L322.8,235.9L318.8,236.1L314.8,236.7L310.8,237.5L306.8,238.4ZM391.2,260.2L395.6,262.4L397.3,262.3L396.7,261.3L394.1,260.0ZM395.6,262.4L398.1,263.8L397.3,262.3ZM500.0,286.3L500.4,285.8L500.1,286.0ZM499.6,288.1L502.8,286.2L505.5,282.3L500.4,285.8L500.0,286.3ZM502.8,286.2L507.9,282.4L513.2,278.1L518.5,273.4L523.9,268.6L526.7,263.2L521.4,268.4L516.0,273.5L510.7,278.2L505.5,282.3Z" class="rf"/><path d="M274.2,234.1L276.5,235.5L279.6,233.4L279.5,233.4ZM276.5,235.5L280.4,237.5L284.3,239.1L288.1,240.4L292.0,241.2L295.9,241.5L299.9,241.3L302.9,239.2L299.0,239.5L295.1,239.3L291.2,238.6L287.3,237.3L283.4,235.6L279.6,233.4ZM299.9,241.3L302.5,240.8L303.4,239.1L302.9,239.2ZM397.3,262.3L398.4,262.3L396.7,261.3ZM398.1,263.8L400.0,264.8L402.8,264.6L398.4,262.3L397.3,262.3ZM400.0,264.8L404.4,267.2L408.8,269.7L413.2,272.2L417.6,274.7L422.1,277.3L426.6,279.8L431.1,282.2L435.6,284.5L440.2,286.7L444.8,288.7L449.4,290.5L454.0,292.1L458.7,293.4L463.4,294.5L468.1,295.2L472.9,295.6L477.7,295.5L482.6,294.9L487.6,293.7L492.6,291.8L495.3,288.6L490.3,290.8L485.4,292.3L480.5,293.2L475.7,293.5L470.9,293.4L466.1,292.8L461.4,292.0L456.8,290.8L452.1,289.4L447.5,287.7L442.9,285.9L438.4,283.8L433.9,281.6L429.4,279.3L424.9,276.9L420.4,274.4L416.0,272.0L411.6,269.5L407.2,267.0L402.8,264.6ZM492.6,291.8L497.6,289.3L500.0,286.3L500.1,286.0L495.3,288.6ZM497.6,289.3L499.6,288.1L500.0,286.3Z" class="cf"/><path d="M261.2,223.0L264.3,221.6M272.7,233.1L275.8,230.9M284.3,239.1L287.3,237.3M295.9,241.5L299.0,239.5M307.8,239.8L310.8,237.5M319.8,238.0L322.8,235.9M332.0,238.5L335.0,237.0M344.4,241.1L347.4,240.1M357.0,245.2L359.9,244.6M369.7,250.2L372.6,249.8M382.6,255.9L385.4,255.6M395.6,262.4L398.4,262.3M408.8,269.7L411.6,269.5M422.1,277.3L424.9,276.9M435.6,284.5L438.4,283.8M449.4,290.5L452.1,289.4M463.4,294.5L466.1,292.8M477.7,295.5L480.5,293.2M492.6,291.8L495.3,288.6M507.9,282.4L510.7,278.2M523.9,268.6L526.7,263.2" class="m"/><path d="M274.2,234.1L279.5,233.4M302.5,240.8L303.4,239.1M397.3,262.3L396.7,261.3M398.1,263.8L397.3,262.3M500.0,286.3L500.1,286.0M499.6,288.1L500.0,286.3" class="y"/><path d="M258.1,224.4L262.0,228.6L265.8,232.3L268.9,230.2L265.1,226.8L261.2,223.0ZM265.8,232.3L269.0,234.8L270.8,234.5L272.7,233.1L268.9,230.2ZM274.2,234.1L272.7,233.1L270.8,234.5ZM301.8,242.0L303.8,240.6L302.5,240.8ZM301.4,242.6L304.7,242.0L307.8,239.8L303.8,240.6L301.8,242.0ZM304.7,242.0L308.7,241.2L312.7,240.6L316.8,240.1L320.8,239.9L324.9,239.8L329.0,240.1L333.1,240.5L337.3,241.2L341.4,242.2L345.6,243.3L349.8,244.5L354.0,245.9L358.2,247.4L362.5,249.0L366.8,250.6L371.0,252.4L375.3,254.3L379.7,256.2L384.0,258.3L388.3,260.4L392.7,262.7L395.6,262.4L391.2,260.2L386.9,258.0L382.6,255.9L378.3,253.9L374.0,252.0L369.7,250.2L365.4,248.4L361.2,246.8L357.0,245.2L352.8,243.7L348.6,242.3L344.4,241.1L340.3,240.0L336.1,239.1L332.0,238.5L327.9,238.0L323.9,237.9L319.8,238.0L315.8,238.3L311.8,239.0L307.8,239.8ZM392.7,262.7L397.1,265.0L398.6,264.9L398.1,263.8L395.6,262.4ZM397.1,265.0L399.3,266.2L398.6,264.9ZM499.3,290.3L500.0,289.9L502.8,286.2L499.6,288.1ZM500.0,289.9L505.2,286.5L510.4,282.5L515.7,278.1L521.1,273.6L523.9,268.6L518.5,273.4L513.2,278.1L507.9,282.4L502.8,286.2Z" class="rf"/><path d="M269.0,234.8L269.6,235.3L270.8,234.5ZM269.6,235.3L273.5,237.4L276.5,235.5L274.2,234.1L270.8,234.5ZM273.5,237.4L277.3,239.1L281.2,240.6L285.1,241.8L289.0,242.8L292.9,243.2L296.8,243.2L299.9,241.3L295.9,241.5L292.0,241.2L288.1,240.4L284.3,239.1L280.4,237.5L276.5,235.5ZM296.8,243.2L300.8,242.7L301.8,242.0L302.5,240.8L299.9,241.3ZM300.8,242.7L301.4,242.6L301.8,242.0ZM398.6,264.9L400.0,264.8L398.1,263.8ZM399.3,266.2L401.5,267.4L404.4,267.2L400.0,264.8L398.6,264.9ZM401.5,267.4L405.9,269.9L410.4,272.4L414.8,275.0L419.3,277.6L423.8,280.2L428.3,282.7L432.8,285.1L437.4,287.4L442.0,289.5L446.6,291.4L451.3,293.2L455.9,294.7L460.6,296.0L465.4,296.9L470.2,297.5L475.0,297.6L479.9,297.3L484.8,296.4L489.8,294.8L494.9,292.7L497.6,289.3L492.6,291.8L487.6,293.7L482.6,294.9L477.7,295.5L472.9,295.6L468.1,295.2L463.4,294.5L458.7,293.4L454.0,292.1L449.4,290.5L444.8,288.7L440.2,286.7L435.6,284.5L431.1,282.2L426.6,279.8L422.1,277.3L417.6,274.7L413.2,272.2L408.8,269.7L404.4,267.2ZM494.9,292.7L499.3,290.3L499.6,288.1L497.6,289.3Z" class="cf"/><path d="M258.1,224.4L261.2,223.0M269.6,235.3L272.7,233.1M281.2,240.6L284.3,239.1M292.9,243.2L295.9,241.5M304.7,242.0L307.8,239.8M316.8,240.1L319.8,238.0M329.0,240.1L332.0,238.5M341.4,242.2L344.4,241.1M354.0,245.9L357.0,245.2M366.8,250.6L369.7,250.2M379.7,256.2L382.6,255.9M392.7,262.7L395.6,262.4M405.9,269.9L408.8,269.7M419.3,277.6L422.1,277.3M432.8,285.1L435.6,284.5M446.6,291.4L449.4,290.5M460.6,296.0L463.4,294.5M475.0,297.6L477.7,295.5M489.8,294.8L492.6,291.8M505.2,286.5L507.9,282.4M521.1,273.6L523.9,268.6M261.2,223.0L265.1,226.8L268.9,230.2L272.7,233.1L276.5,235.5L280.4,237.5L284.3,239.1L288.1,240.4L292.0,241.2L295.9,241.5L299.9,241.3L303.8,240.6L307.8,239.8L311.8,239.0L315.8,238.3L319.8,238.0L323.9,237.9L327.9,238.0L332.0,238.5L336.1,239.1L340.3,240.0L344.4,241.1L348.6,242.3L352.8,243.7L357.0,245.2L361.2,246.8L365.4,248.4L369.7,250.2L374.0,252.0L378.3,253.9L382.6,255.9L386.9,258.0L391.2,260.2L395.6,262.4L400.0,264.8L404.4,267.2L408.8,269.7L413.2,272.2L417.6,274.7L422.1,277.3L426.6,279.8L431.1,282.2L435.6,284.5L440.2,286.7L444.8,288.7L449.4,290.5L454.0,292.1L458.7,293.4L463.4,294.5L468.1,295.2L472.9,295.6L477.7,295.5L482.6,294.9L487.6,293.7L492.6,291.8L497.6,289.3L502.8,286.2L507.9,282.4L513.2,278.1L518.5,273.4L523.9,268.6" class="m"/><path d="M269.0,234.8L270.8,234.5M274.2,234.1L270.8,234.5M301.8,242.0L302.5,240.8M301.4,242.6L301.8,242.0M398.6,264.9L398.1,263.8M399.3,266.2L398.6,264.9M499.3,290.3L499.6,288.1" class="y"/><path d="M255.0,225.8L258.8,230.4L262.7,234.4L265.8,232.3L262.0,228.6L258.1,224.4ZM262.7,234.4L264.2,235.6L269.0,234.8L265.8,232.3ZM300.0,244.3L301.7,244.1L304.7,242.0L301.4,242.6ZM301.7,244.1L305.7,243.4L309.7,242.8L313.7,242.3L317.8,241.9L321.9,241.7L326.0,241.8L330.1,242.1L334.3,242.6L338.4,243.4L342.6,244.3L346.8,245.5L351.0,246.7L355.3,248.1L359.5,249.6L363.8,251.2L368.1,252.9L372.4,254.7L376.7,256.6L381.1,258.6L385.4,260.7L389.8,262.9L394.2,265.3L397.1,265.0L392.7,262.7L388.3,260.4L384.0,258.3L379.7,256.2L375.3,254.3L371.0,252.4L366.8,250.6L362.5,249.0L358.2,247.4L354.0,245.9L349.8,244.5L345.6,243.3L341.4,242.2L337.3,241.2L333.1,240.5L329.0,240.1L324.9,239.8L320.8,239.9L316.8,240.1L312.7,240.6L308.7,241.2L304.7,242.0ZM394.2,265.3L398.6,267.7L399.9,267.5L399.3,266.2L397.1,265.0ZM398.6,267.7L400.3,268.6L399.9,267.5ZM499.1,290.9L500.0,289.9L499.3,290.3ZM498.8,292.4L502.4,290.3L505.2,286.5L500.0,289.9L499.1,290.9ZM502.4,290.3L507.6,286.6L512.9,282.5L518.2,278.2L521.1,273.6L515.7,278.1L510.4,282.5L505.2,286.5Z" class="rf"/><path d="M264.2,235.6L266.5,237.3L269.6,235.3L269.0,234.8ZM266.5,237.3L270.4,239.2L274.2,240.6L278.1,241.9L282.0,243.1L285.9,244.1L289.8,244.7L293.7,244.9L297.7,244.6L300.8,242.7L296.8,243.2L292.9,243.2L289.0,242.8L285.1,241.8L281.2,240.6L277.3,239.1L273.5,237.4L269.6,235.3ZM297.7,244.6L300.0,244.3L301.4,242.6L300.8,242.7ZM399.9,267.5L401.5,267.4L399.3,266.2ZM400.3,268.6L403.1,270.1L405.9,269.9L401.5,267.4L399.9,267.5ZM403.1,270.1L407.5,272.7L412.0,275.3L416.5,277.9L421.0,280.5L425.5,283.1L430.0,285.6L434.6,288.0L439.2,290.2L443.8,292.3L448.5,294.2L453.2,295.9L457.9,297.3L462.6,298.4L467.4,299.2L472.2,299.6L477.1,299.5L482.0,298.9L487.0,297.7L492.1,295.8L494.9,292.7L489.8,294.8L484.8,296.4L479.9,297.3L475.0,297.6L470.2,297.5L465.4,296.9L460.6,296.0L455.9,294.7L451.3,293.2L446.6,291.4L442.0,289.5L437.4,287.4L432.8,285.1L428.3,282.7L423.8,280.2L419.3,277.6L414.8,275.0L410.4,272.4L405.9,269.9ZM492.1,295.8L497.2,293.4L499.1,290.9L499.3,290.3L494.9,292.7ZM497.2,293.4L498.8,292.4L499.1,290.9Z" class="cf"/><path d="M255.0,225.8L258.1,224.4M266.5,237.3L269.6,235.3M278.1,241.9L281.2,240.6M289.8,244.7L292.9,243.2M301.7,244.1L304.7,242.0M313.7,242.3L316.8,240.1M326.0,241.8L329.0,240.1M338.4,243.4L341.4,242.2M351.0,246.7L354.0,245.9M363.8,251.2L366.8,250.6M376.7,256.6L379.7,256.2M389.8,262.9L392.7,262.7M403.1,270.1L405.9,269.9M416.5,277.9L419.3,277.6M430.0,285.6L432.8,285.1M443.8,292.3L446.6,291.4M457.9,297.3L460.6,296.0M472.2,299.6L475.0,297.6M487.0,297.7L489.8,294.8M502.4,290.3L505.2,286.5M518.2,278.2L521.1,273.6" class="m"/><path d="M264.2,235.6L269.0,234.8M300.0,244.3L301.4,242.6M399.9,267.5L399.3,266.2M400.3,268.6L399.9,267.5M499.1,290.9L499.3,290.3M498.8,292.4L499.1,290.9" class="y"/><path d="M251.8,227.1L255.7,232.2L259.5,236.4L262.7,234.4L258.8,230.4L255.0,225.8ZM259.5,236.4L259.6,236.5L264.2,235.6L262.7,234.4ZM298.9,245.8L301.7,244.1L300.0,244.3ZM298.8,246.0L302.6,245.5L305.7,243.4L301.7,244.1L298.9,245.8ZM302.6,245.5L306.6,245.0L310.7,244.4L314.7,244.0L318.8,243.7L322.9,243.6L327.1,243.7L331.2,244.1L335.4,244.7L339.6,245.5L343.8,246.5L348.0,247.6L352.3,248.9L356.5,250.3L360.8,251.8L365.1,253.4L369.4,255.2L373.8,257.0L378.1,259.0L382.5,261.1L386.9,263.3L391.3,265.6L395.7,267.9L398.6,267.7L394.2,265.3L389.8,262.9L385.4,260.7L381.1,258.6L376.7,256.6L372.4,254.7L368.1,252.9L363.8,251.2L359.5,249.6L355.3,248.1L351.0,246.7L346.8,245.5L342.6,244.3L338.4,243.4L334.3,242.6L330.1,242.1L326.0,241.8L321.9,241.7L317.8,241.9L313.7,242.3L309.7,242.8L305.7,243.4ZM395.7,267.9L400.2,270.4L400.9,270.3L400.3,268.6L398.6,267.7ZM400.2,270.4L401.1,270.9L400.9,270.3ZM498.3,294.6L499.5,293.9L502.4,290.3L498.8,292.4ZM499.5,293.9L504.8,290.5L510.1,286.6L515.4,282.5L518.2,278.2L512.9,282.5L507.6,286.6L502.4,290.3Z" class="rf"/><path d="M259.6,236.5L263.4,239.3L266.5,237.3L264.2,235.6ZM263.4,239.3L267.2,240.9L271.1,241.9L275.0,243.0L278.9,244.2L282.8,245.3L286.7,246.1L290.7,246.4L294.6,246.4L297.7,244.6L293.7,244.9L289.8,244.7L285.9,244.1L282.0,243.1L278.1,241.9L274.2,240.6L270.4,239.2L266.5,237.3ZM294.6,246.4L298.6,246.0L298.9,245.8L300.0,244.3L297.7,244.6ZM298.6,246.0L298.8,246.0L298.9,245.8ZM400.9,270.3L403.1,270.1L400.3,268.6ZM401.1,270.9L404.6,273.0L407.5,272.7L403.1,270.1L400.9,270.3ZM404.6,273.0L409.1,275.6L413.6,278.2L418.1,280.9L422.7,283.5L427.2,286.1L431.8,288.6L436.4,290.9L441.0,293.1L445.7,295.2L450.4,297.0L455.1,298.6L459.8,299.8L464.6,300.8L469.5,301.4L474.3,301.5L479.3,301.2L484.2,300.3L489.3,298.8L494.4,296.7L497.2,293.4L492.1,295.8L487.0,297.7L482.0,298.9L477.1,299.5L472.2,299.6L467.4,299.2L462.6,298.4L457.9,297.3L453.2,295.9L448.5,294.2L443.8,292.3L439.2,290.2L434.6,288.0L430.0,285.6L425.5,283.1L421.0,280.5L416.5,277.9L412.0,275.3L407.5,272.7ZM494.4,296.7L498.3,294.6L498.8,292.4L497.2,293.4Z" class="cf"/><path d="M251.8,227.1L255.0,225.8M263.4,239.3L266.5,237.3M275.0,243.0L278.1,241.9M286.7,246.1L289.8,244.7M298.6,246.0L301.7,244.1M310.7,244.4L313.7,242.3M322.9,243.6L326.0,241.8M335.4,244.7L338.4,243.4M348.0,247.6L351.0,246.7M360.8,251.8L363.8,251.2M373.8,257.0L376.7,256.6M386.9,263.3L389.8,262.9M400.2,270.4L403.1,270.1M413.6,278.2L416.5,277.9M427.2,286.1L430.0,285.6M441.0,293.1L443.8,292.3M455.1,298.6L457.9,297.3M469.5,301.4L472.2,299.6M484.2,300.3L487.0,297.7M499.5,293.9L502.4,290.3M515.4,282.5L518.2,278.2" class="m"/><path d="M259.6,236.5L264.2,235.6M298.9,245.8L300.0,244.3M298.8,246.0L298.9,245.8M400.9,270.3L400.3,268.6M401.1,270.9L400.9,270.3M498.3,294.6L498.8,292.4" class="y"/><path d="M248.7,228.4L252.5,234.0L255.7,232.2L251.8,227.1ZM252.5,234.0L255.6,237.5L259.5,236.5L259.5,236.4L255.7,232.2ZM259.6,236.5L259.5,236.4L259.5,236.5ZM297.5,247.8L299.5,247.6L302.6,245.5L298.8,246.0ZM299.5,247.6L303.5,247.1L307.6,246.6L311.7,246.1L315.7,245.7L319.9,245.5L324.0,245.5L328.2,245.7L332.3,246.1L336.5,246.8L340.8,247.6L345.0,248.6L349.3,249.7L353.5,251.0L357.8,252.4L362.1,254.0L366.5,255.7L370.8,257.5L375.2,259.4L379.6,261.5L384.0,263.6L388.4,265.9L392.8,268.2L397.3,270.7L400.2,270.4L395.7,267.9L391.3,265.6L386.9,263.3L382.5,261.1L378.1,259.0L373.8,257.0L369.4,255.2L365.1,253.4L360.8,251.8L356.5,250.3L352.3,248.9L348.0,247.6L343.8,246.5L339.6,245.5L335.4,244.7L331.2,244.1L327.1,243.7L322.9,243.6L318.8,243.7L314.7,244.0L310.7,244.4L306.6,245.0L302.6,245.5ZM397.3,270.7L401.7,273.3L401.8,273.3L401.1,270.9L400.2,270.4ZM401.7,273.3L401.8,273.3L401.8,273.3ZM498.0,295.8L499.5,293.9L498.3,294.6ZM497.7,296.8L502.0,294.3L504.8,290.5L499.5,293.9L498.0,295.8ZM502.0,294.3L507.2,290.6L512.6,286.6L515.4,282.5L510.1,286.6L504.8,290.5Z" class="rf"/><path d="M255.6,237.5L256.4,238.4L259.5,236.5ZM256.4,238.4L260.3,241.2L263.4,239.3L259.6,236.5L259.5,236.5ZM260.3,241.2L264.1,242.5L268.0,243.2L271.8,244.0L275.7,245.2L279.7,246.4L283.6,247.3L287.5,247.9L291.5,248.1L295.5,248.0L298.6,246.0L294.6,246.4L290.7,246.4L286.7,246.1L282.8,245.3L278.9,244.2L275.0,243.0L271.1,241.9L267.2,240.9L263.4,239.3ZM295.5,248.0L297.5,247.8L298.8,246.0L298.6,246.0ZM401.8,273.3L404.6,273.0L401.1,270.9ZM401.8,273.3L406.2,275.9L409.1,275.6L404.6,273.0L401.8,273.3ZM406.2,275.9L410.7,278.5L415.3,281.2L419.8,283.9L424.4,286.5L429.0,289.1L433.6,291.5L438.2,293.8L442.9,296.0L447.6,298.0L452.3,299.7L457.1,301.2L461.8,302.3L466.7,303.1L471.6,303.5L476.5,303.4L481.4,302.8L486.5,301.7L491.6,299.9L494.4,296.7L489.3,298.8L484.2,300.3L479.3,301.2L474.3,301.5L469.5,301.4L464.6,300.8L459.8,299.8L455.1,298.6L450.4,297.0L445.7,295.2L441.0,293.1L436.4,290.9L431.8,288.6L427.2,286.1L422.7,283.5L418.1,280.9L413.6,278.2L409.1,275.6ZM491.6,299.9L496.7,297.4L498.0,295.8L498.3,294.6L494.4,296.7ZM496.7,297.4L497.7,296.8L498.0,295.8Z" class="cf"/><path d="M248.7,228.4L251.8,227.1M260.3,241.2L263.4,239.3M271.8,244.0L275.0,243.0M283.6,247.3L286.7,246.1M295.5,248.0L298.6,246.0M307.6,246.6L310.7,244.4M319.9,245.5L322.9,243.6M332.3,246.1L335.4,244.7M345.0,248.6L348.0,247.6M357.8,252.4L360.8,251.8M370.8,257.5L373.8,257.0M384.0,263.6L386.9,263.3M397.3,270.7L400.2,270.4M410.7,278.5L413.6,278.2M424.4,286.5L427.2,286.1M438.2,293.8L441.0,293.1M452.3,299.7L455.1,298.6M466.7,303.1L469.5,301.4M481.4,302.8L484.2,300.3M496.7,297.4L499.5,293.9M512.6,286.6L515.4,282.5M251.8,227.1L255.7,232.2L259.5,236.4L263.4,239.3L267.2,240.9L271.1,241.9L275.0,243.0L278.9,244.2L282.8,245.3L286.7,246.1L290.7,246.4L294.6,246.4L298.6,246.0L302.6,245.5L306.6,245.0L310.7,244.4L314.7,244.0L318.8,243.7L322.9,243.6L327.1,243.7L331.2,244.1L335.4,244.7L339.6,245.5L343.8,246.5L348.0,247.6L352.3,248.9L356.5,250.3L360.8,251.8L365.1,253.4L369.4,255.2L373.8,257.0L378.1,259.0L382.5,261.1L386.9,263.3L391.3,265.6L395.7,267.9L400.2,270.4L404.6,273.0L409.1,275.6L413.6,278.2L418.1,280.9L422.7,283.5L427.2,286.1L431.8,288.6L436.4,290.9L441.0,293.1L445.7,295.2L450.4,297.0L455.1,298.6L459.8,299.8L464.6,300.8L469.5,301.4L474.3,301.5L479.3,301.2L484.2,300.3L489.3,298.8L494.4,296.7L499.5,293.9L504.8,290.5L510.1,286.6L515.4,282.5" class="m"/><path d="M255.6,237.5L259.5,236.5M259.6,236.5L259.5,236.5M297.5,247.8L298.8,246.0M401.8,273.3L401.1,270.9M401.8,273.3L401.8,273.3M498.0,295.8L498.3,294.6M497.7,296.8L498.0,295.8" class="y"/><path d="M245.5,229.8L249.4,235.7L252.5,234.0L248.7,228.4ZM249.4,235.7L251.9,238.6L255.6,237.5L252.5,234.0ZM296.7,249.5L299.5,247.6L297.5,247.8ZM296.6,249.6L300.4,249.3L303.5,247.1L299.5,247.6L296.7,249.5ZM300.4,249.3L304.5,248.8L308.6,248.3L312.7,247.8L316.8,247.4L320.9,247.3L325.1,247.4L329.3,247.7L333.5,248.1L337.7,248.8L341.9,249.7L346.2,250.7L350.5,251.8L354.8,253.2L359.1,254.7L363.5,256.3L367.8,258.0L372.2,259.9L376.6,261.9L381.0,264.0L385.4,266.3L389.9,268.6L394.3,271.0L398.8,273.6L401.7,273.3L397.3,270.7L392.8,268.2L388.4,265.9L384.0,263.6L379.6,261.5L375.2,259.4L370.8,257.5L366.5,255.7L362.1,254.0L357.8,252.4L353.5,251.0L349.3,249.7L345.0,248.6L340.8,247.6L336.5,246.8L332.3,246.1L328.2,245.7L324.0,245.5L319.9,245.5L315.7,245.7L311.7,246.1L307.6,246.6L303.5,247.1ZM398.8,273.6L402.5,275.7L401.8,273.3L401.7,273.3ZM497.1,299.0L499.1,297.9L502.0,294.3L497.7,296.8ZM499.1,297.9L504.4,294.5L509.7,290.6L512.6,286.6L507.2,290.6L502.0,294.3Z" class="rf"/><path d="M251.9,238.6L253.2,240.2L256.4,238.4L255.6,237.5ZM253.2,240.2L257.1,242.9L260.9,244.0L264.8,244.4L268.7,245.0L272.6,246.1L276.5,247.4L280.5,248.6L284.4,249.3L288.4,249.7L292.4,249.8L295.5,248.0L291.5,248.1L287.5,247.9L283.6,247.3L279.7,246.4L275.7,245.2L271.8,244.0L268.0,243.2L264.1,242.5L260.3,241.2L256.4,238.4ZM292.4,249.8L296.4,249.6L296.7,249.5L297.5,247.8L295.5,248.0ZM296.4,249.6L296.6,249.6L296.7,249.5ZM402.5,275.7L403.3,276.2L406.2,275.9L401.8,273.3ZM403.3,276.2L407.8,278.8L412.4,281.5L416.9,284.2L421.5,286.9L426.1,289.5L430.7,292.1L435.4,294.5L440.1,296.8L444.8,298.9L449.5,300.8L454.2,302.4L459.0,303.7L463.9,304.7L468.8,305.3L473.7,305.5L478.6,305.2L483.7,304.4L488.7,302.9L493.9,300.7L496.7,297.4L491.6,299.9L486.5,301.7L481.4,302.8L476.5,303.4L471.6,303.5L466.7,303.1L461.8,302.3L457.1,301.2L452.3,299.7L447.6,298.0L442.9,296.0L438.2,293.8L433.6,291.5L429.0,289.1L424.4,286.5L419.8,283.9L415.3,281.2L410.7,278.5L406.2,275.9ZM493.9,300.7L497.1,299.0L497.7,296.8L496.7,297.4Z" class="cf"/><path d="M245.5,229.8L248.7,228.4M257.1,242.9L260.3,241.2M268.7,245.0L271.8,244.0M280.5,248.6L283.6,247.3M292.4,249.8L295.5,248.0M304.5,248.8L307.6,246.6M316.8,247.4L319.9,245.5M329.3,247.7L332.3,246.1M341.9,249.7L345.0,248.6M354.8,253.2L357.8,252.4M367.8,258.0L370.8,257.5M381.0,264.0L384.0,263.6M394.3,271.0L397.3,270.7M407.8,278.8L410.7,278.5M421.5,286.9L424.4,286.5M435.4,294.5L438.2,293.8M449.5,300.8L452.3,299.7M463.9,304.7L466.7,303.1M478.6,305.2L481.4,302.8M493.9,300.7L496.7,297.4M509.7,290.6L512.6,286.6" class="m"/><path d="M251.9,238.6L255.6,237.5M296.7,249.5L297.5,247.8M296.6,249.6L296.7,249.5M402.5,275.7L401.8,273.3M497.1,299.0L497.7,296.8" class="y"/><path d="M242.3,231.2L246.2,237.4L249.4,235.7L245.5,229.8ZM246.2,237.4L248.2,239.8L251.9,238.6L249.4,235.7ZM295.6,251.5L297.3,251.4L300.4,249.3L296.6,249.6ZM297.3,251.4L301.3,250.9L305.4,250.4L309.5,249.9L313.7,249.4L317.8,249.2L322.0,249.1L326.2,249.3L330.4,249.6L334.6,250.1L338.9,250.8L343.1,251.7L347.4,252.8L351.8,254.0L356.1,255.4L360.4,256.9L364.8,258.6L369.2,260.4L373.6,262.4L378.0,264.5L382.5,266.7L386.9,269.0L391.4,271.4L395.9,273.9L398.8,273.6L394.3,271.0L389.9,268.6L385.4,266.3L381.0,264.0L376.6,261.9L372.2,259.9L367.8,258.0L363.5,256.3L359.1,254.7L354.8,253.2L350.5,251.8L346.2,250.7L341.9,249.7L337.7,248.8L333.5,248.1L329.3,247.7L325.1,247.4L320.9,247.3L316.8,247.4L312.7,247.8L308.6,248.3L304.5,248.8L300.4,249.3ZM395.9,273.9L400.4,276.5L402.6,276.3L402.5,275.7L398.8,273.6ZM400.4,276.5L403.1,278.1L402.6,276.3ZM496.7,300.9L499.1,297.9L497.1,299.0ZM496.6,301.2L501.5,298.3L504.4,294.5L499.1,297.9L496.7,300.9ZM501.5,298.3L506.9,294.7L509.7,290.6L504.4,294.5Z" class="rf"/><path d="M248.2,239.8L250.0,242.0L253.2,240.2L251.9,238.6ZM250.0,242.0L253.9,244.5L257.8,245.4L261.6,245.6L265.5,246.1L269.4,247.2L273.3,248.5L277.3,249.8L281.3,250.8L285.2,251.4L289.2,251.7L293.3,251.6L296.4,249.6L292.4,249.8L288.4,249.7L284.4,249.3L280.5,248.6L276.5,247.4L272.6,246.1L268.7,245.0L264.8,244.4L260.9,244.0L257.1,242.9L253.2,240.2ZM293.3,251.6L295.6,251.5L296.6,249.6L296.4,249.6ZM402.6,276.3L403.3,276.2L402.5,275.7ZM403.1,278.1L404.9,279.2L407.8,278.8L403.3,276.2L402.6,276.3ZM404.9,279.2L409.5,281.8L414.0,284.6L418.6,287.3L423.2,290.0L427.9,292.6L432.5,295.1L437.2,297.5L441.9,299.7L446.6,301.8L451.4,303.5L456.2,305.0L461.1,306.2L465.9,307.0L470.9,307.5L475.8,307.5L480.8,307.0L485.9,305.8L491.1,304.0L493.9,300.7L488.7,302.9L483.7,304.4L478.6,305.2L473.7,305.5L468.8,305.3L463.9,304.7L459.0,303.7L454.2,302.4L449.5,300.8L444.8,298.9L440.1,296.8L435.4,294.5L430.7,292.1L426.1,289.5L421.5,286.9L416.9,284.2L412.4,281.5L407.8,278.8ZM491.1,304.0L496.3,301.4L496.7,300.9L497.1,299.0L493.9,300.7ZM496.3,301.4L496.6,301.2L496.7,300.9Z" class="cf"/><path d="M242.3,231.2L245.5,229.8M253.9,244.5L257.1,242.9M265.5,246.1L268.7,245.0M277.3,249.8L280.5,248.6M289.2,251.7L292.4,249.8M301.3,250.9L304.5,248.8M313.7,249.4L316.8,247.4M326.2,249.3L329.3,247.7M338.9,250.8L341.9,249.7M351.8,254.0L354.8,253.2M364.8,258.6L367.8,258.0M378.0,264.5L381.0,264.0M391.4,271.4L394.3,271.0M404.9,279.2L407.8,278.8M418.6,287.3L421.5,286.9M432.5,295.1L435.4,294.5M446.6,301.8L449.5,300.8M461.1,306.2L463.9,304.7M475.8,307.5L478.6,305.2M491.1,304.0L493.9,300.7M506.9,294.7L509.7,290.6" class="m"/><path d="M248.2,239.8L251.9,238.6M295.6,251.5L296.6,249.6M402.6,276.3L402.5,275.7M403.1,278.1L402.6,276.3M496.7,300.9L497.1,299.0M496.6,301.2L496.7,300.9" class="y"/><path d="M239.0,232.6L243.0,238.9L246.2,237.4L242.3,231.2ZM243.0,238.9L244.6,240.9L248.2,239.8L246.2,237.4ZM294.9,252.9L297.3,251.4L295.6,251.5ZM294.6,253.4L298.2,253.0L301.3,250.9L297.3,251.4L294.9,252.9ZM298.2,253.0L302.3,252.5L306.4,251.9L310.5,251.4L314.7,251.1L318.9,250.9L323.1,250.9L327.3,251.1L331.5,251.5L335.8,252.0L340.1,252.8L344.4,253.7L348.7,254.9L353.0,256.1L357.4,257.6L361.8,259.2L366.2,261.0L370.6,262.9L375.0,264.9L379.5,267.1L383.9,269.4L388.4,271.8L392.9,274.3L397.5,276.8L400.4,276.5L395.9,273.9L391.4,271.4L386.9,269.0L382.5,266.7L378.0,264.5L373.6,262.4L369.2,260.4L364.8,258.6L360.4,256.9L356.1,255.4L351.8,254.0L347.4,252.8L343.1,251.7L338.9,250.8L334.6,250.1L330.4,249.6L326.2,249.3L322.0,249.1L317.8,249.2L313.7,249.4L309.5,249.9L305.4,250.4L301.3,250.9ZM397.5,276.8L402.0,279.5L403.5,279.3L403.1,278.1L400.4,276.5ZM402.0,279.5L403.8,280.5L403.5,279.3ZM496.1,303.5L498.7,302.1L501.5,298.3L496.6,301.2ZM498.7,302.1L504.0,298.8L506.9,294.7L501.5,298.3Z" class="rf"/><path d="M244.6,240.9L246.8,243.6L250.0,242.0L248.2,239.8ZM246.8,243.6L250.7,246.0L254.6,246.8L258.4,246.9L262.3,247.3L266.2,248.4L270.2,249.8L274.1,251.2L278.1,252.3L282.1,253.1L286.1,253.5L290.1,253.6L293.3,251.6L289.2,251.7L285.2,251.4L281.3,250.8L277.3,249.8L273.3,248.5L269.4,247.2L265.5,246.1L261.6,245.6L257.8,245.4L253.9,244.5L250.0,242.0ZM290.1,253.6L294.1,253.4L294.9,252.9L295.6,251.5L293.3,251.6ZM294.1,253.4L294.6,253.4L294.9,252.9ZM403.5,279.3L404.9,279.2L403.1,278.1ZM403.8,280.5L406.6,282.2L409.5,281.8L404.9,279.2L403.5,279.3ZM406.6,282.2L411.1,284.9L415.7,287.6L420.3,290.4L425.0,293.1L429.7,295.7L434.3,298.2L439.1,300.6L443.8,302.7L448.6,304.7L453.4,306.3L458.2,307.7L463.1,308.7L468.0,309.4L473.0,309.7L478.0,309.5L483.1,308.7L488.2,307.1L493.4,304.9L496.3,301.4L491.1,304.0L485.9,305.8L480.8,307.0L475.8,307.5L470.9,307.5L465.9,307.0L461.1,306.2L456.2,305.0L451.4,303.5L446.6,301.8L441.9,299.7L437.2,297.5L432.5,295.1L427.9,292.6L423.2,290.0L418.6,287.3L414.0,284.6L409.5,281.8ZM493.4,304.9L496.1,303.5L496.6,301.2L496.3,301.4Z" class="cf"/><path d="M239.0,232.6L242.3,231.2M250.7,246.0L253.9,244.5M262.3,247.3L265.5,246.1M274.1,251.2L277.3,249.8M286.1,253.5L289.2,251.7M298.2,253.0L301.3,250.9M310.5,251.4L313.7,249.4M323.1,250.9L326.2,249.3M335.8,252.0L338.9,250.8M348.7,254.9L351.8,254.0M361.8,259.2L364.8,258.6M375.0,264.9L378.0,264.5M388.4,271.8L391.4,271.4M402.0,279.5L404.9,279.2M415.7,287.6L418.6,287.3M429.7,295.7L432.5,295.1M443.8,302.7L446.6,301.8M458.2,307.7L461.1,306.2M473.0,309.7L475.8,307.5M488.2,307.1L491.1,304.0M504.0,298.8L506.9,294.7M242.3,231.2L246.2,237.4L250.0,242.0L253.9,244.5L257.8,245.4L261.6,245.6L265.5,246.1L269.4,247.2L273.3,248.5L277.3,249.8L281.3,250.8L285.2,251.4L289.2,251.7L293.3,251.6L297.3,251.4L301.3,250.9L305.4,250.4L309.5,249.9L313.7,249.4L317.8,249.2L322.0,249.1L326.2,249.3L330.4,249.6L334.6,250.1L338.9,250.8L343.1,251.7L347.4,252.8L351.8,254.0L356.1,255.4L360.4,256.9L364.8,258.6L369.2,260.4L373.6,262.4L378.0,264.5L382.5,266.7L386.9,269.0L391.4,271.4L395.9,273.9L400.4,276.5L404.9,279.2L409.5,281.8L414.0,284.6L418.6,287.3L423.2,290.0L427.9,292.6L432.5,295.1L437.2,297.5L441.9,299.7L446.6,301.8L451.4,303.5L456.2,305.0L461.1,306.2L465.9,307.0L470.9,307.5L475.8,307.5L480.8,307.0L485.9,305.8L491.1,304.0L496.3,301.4L501.5,298.3L506.9,294.7" class="m"/><path d="M244.6,240.9L248.2,239.8M294.9,252.9L295.6,251.5M294.6,253.4L294.9,252.9M403.5,279.3L403.1,278.1M403.8,280.5L403.5,279.3M496.1,303.5L496.6,301.2" class="y"/><path d="M235.8,234.0L239.7,240.4L243.0,238.9L239.0,232.6ZM239.7,240.4L241.2,242.2L244.6,240.9L243.0,238.9ZM293.4,255.2L295.0,255.1L298.2,253.0L294.6,253.4ZM295.0,255.1L299.1,254.5L303.2,254.0L307.4,253.4L311.5,253.0L315.7,252.7L319.9,252.6L324.1,252.7L328.4,252.9L332.7,253.3L337.0,254.0L341.3,254.8L345.6,255.8L349.9,257.0L354.3,258.4L358.7,259.9L363.1,261.6L367.5,263.5L372.0,265.5L376.4,267.6L380.9,269.8L385.4,272.2L389.9,274.6L394.5,277.2L399.0,279.8L402.0,279.5L397.5,276.8L392.9,274.3L388.4,271.8L383.9,269.4L379.5,267.1L375.0,264.9L370.6,262.9L366.2,261.0L361.8,259.2L357.4,257.6L353.0,256.1L348.7,254.9L344.4,253.7L340.1,252.8L335.8,252.0L331.5,251.5L327.3,251.1L323.1,250.9L318.9,250.9L314.7,251.1L310.5,251.4L306.4,251.9L302.3,252.5L298.2,253.0ZM399.0,279.8L403.6,282.5L404.3,282.4L403.8,280.5L402.0,279.5ZM403.6,282.5L404.5,283.0L404.3,282.4ZM495.9,305.8L498.7,302.1L496.1,303.5ZM495.9,305.8L501.1,303.0L504.0,298.8L498.7,302.1L495.9,305.8Z" class="rf"/><path d="M241.2,242.2L243.6,245.0L246.8,243.6L244.6,240.9ZM243.6,245.0L247.5,247.4L251.3,248.1L255.2,248.2L259.1,248.6L263.0,249.7L267.0,251.2L270.9,252.7L274.9,253.9L278.9,254.8L282.9,255.3L286.9,255.5L291.0,255.4L294.1,253.4L290.1,253.6L286.1,253.5L282.1,253.1L278.1,252.3L274.1,251.2L270.2,249.8L266.2,248.4L262.3,247.3L258.4,246.9L254.6,246.8L250.7,246.0L246.8,243.6ZM291.0,255.4L293.4,255.2L294.6,253.4L294.1,253.4ZM404.3,282.4L406.6,282.2L403.8,280.5ZM404.5,283.0L408.2,285.2L411.1,284.9L406.6,282.2L404.3,282.4ZM408.2,285.2L412.8,288.0L417.4,290.7L422.1,293.5L426.8,296.2L431.4,298.9L436.2,301.3L440.9,303.6L445.7,305.7L450.5,307.6L455.4,309.1L460.2,310.4L465.2,311.3L470.1,311.8L475.1,311.9L480.2,311.4L485.3,310.2L490.5,308.3L493.4,304.9L488.2,307.1L483.1,308.7L478.0,309.5L473.0,309.7L468.0,309.4L463.1,308.7L458.2,307.7L453.4,306.3L448.6,304.7L443.8,302.7L439.1,300.6L434.3,298.2L429.7,295.7L425.0,293.1L420.3,290.4L415.7,287.6L411.1,284.9ZM490.5,308.3L495.8,305.9L495.9,305.8L496.1,303.5L493.4,304.9ZM495.8,305.9L495.9,305.8L495.9,305.8Z" class="cf"/><path d="M235.8,234.0L239.0,232.6M247.5,247.4L250.7,246.0M259.1,248.6L262.3,247.3M270.9,252.7L274.1,251.2M282.9,255.3L286.1,253.5M295.0,255.1L298.2,253.0M307.4,253.4L310.5,251.4M319.9,252.6L323.1,250.9M332.7,253.3L335.8,252.0M345.6,255.8L348.7,254.9M358.7,259.9L361.8,259.2M372.0,265.5L375.0,264.9M385.4,272.2L388.4,271.8M399.0,279.8L402.0,279.5M412.8,288.0L415.7,287.6M426.8,296.2L429.7,295.7M440.9,303.6L443.8,302.7M455.4,309.1L458.2,307.7M470.1,311.8L473.0,309.7M485.3,310.2L488.2,307.1M501.1,303.0L504.0,298.8" class="m"/><path d="M241.2,242.2L244.6,240.9M293.4,255.2L294.6,253.4M404.3,282.4L403.8,280.5M404.5,283.0L404.3,282.4M495.9,305.8L496.1,303.5M495.9,305.8L495.9,305.8" class="y"/><path d="M232.5,235.3L236.4,241.8L239.7,240.4L235.8,234.0ZM236.4,241.8L237.8,243.4L241.2,242.2L239.7,240.4ZM292.4,256.7L295.0,255.1L293.4,255.2ZM292.2,257.1L295.9,256.6L299.1,254.5L295.0,255.1L292.4,256.7ZM295.9,256.6L300.1,256.0L304.2,255.4L308.4,254.9L312.6,254.6L316.8,254.4L321.0,254.3L325.3,254.4L329.5,254.7L333.8,255.2L338.1,255.9L342.5,256.8L346.8,257.9L351.2,259.2L355.6,260.6L360.0,262.3L364.5,264.1L368.9,266.0L373.4,268.1L377.9,270.3L382.4,272.7L386.9,275.1L391.5,277.6L396.0,280.2L400.6,282.8L403.6,282.5L399.0,279.8L394.5,277.2L389.9,274.6L385.4,272.2L380.9,269.8L376.4,267.6L372.0,265.5L367.5,263.5L363.1,261.6L358.7,259.9L354.3,258.4L349.9,257.0L345.6,255.8L341.3,254.8L337.0,254.0L332.7,253.3L328.4,252.9L324.1,252.7L319.9,252.6L315.7,252.7L311.5,253.0L307.4,253.4L303.2,254.0L299.1,254.5ZM400.6,282.8L405.1,285.5L404.5,283.0L403.6,282.5ZM495.9,308.3L498.2,307.2L501.1,303.0L495.9,305.8Z" class="rf"/><path d="M237.8,243.4L240.3,246.4L243.6,245.0L241.2,242.2ZM240.3,246.4L244.2,248.7L248.1,249.4L252.0,249.5L255.9,250.0L259.8,251.2L263.7,252.8L267.7,254.4L271.7,255.7L275.7,256.6L279.7,257.2L283.7,257.5L287.8,257.4L291.0,255.4L286.9,255.5L282.9,255.3L278.9,254.8L274.9,253.9L270.9,252.7L267.0,251.2L263.0,249.7L259.1,248.6L255.2,248.2L251.3,248.1L247.5,247.4L243.6,245.0ZM287.8,257.4L291.9,257.1L292.4,256.7L293.4,255.2L291.0,255.4ZM291.9,257.1L292.2,257.1L292.4,256.7ZM405.1,285.5L405.2,285.5L408.2,285.2L404.5,283.0ZM405.2,285.5L409.9,288.3L414.5,291.1L419.2,294.0L423.8,296.8L428.5,299.5L433.3,302.1L438.0,304.5L442.8,306.8L447.6,308.8L452.5,310.5L457.4,312.0L462.3,313.1L467.3,313.9L472.3,314.2L477.3,314.0L482.5,313.2L487.6,311.7L492.9,309.7L495.8,305.9L490.5,308.3L485.3,310.2L480.2,311.4L475.1,311.9L470.1,311.8L465.2,311.3L460.2,310.4L455.4,309.1L450.5,307.6L445.7,305.7L440.9,303.6L436.2,301.3L431.4,298.9L426.8,296.2L422.1,293.5L417.4,290.7L412.8,288.0L408.2,285.2ZM492.9,309.7L495.9,308.3L495.9,305.8L495.8,305.9Z" class="cf"/><path d="M232.5,235.3L235.8,234.0M244.2,248.7L247.5,247.4M255.9,250.0L259.1,248.6M267.7,254.4L270.9,252.7M279.7,257.2L282.9,255.3M291.9,257.1L295.0,255.1M304.2,255.4L307.4,253.4M316.8,254.4L319.9,252.6M329.5,254.7L332.7,253.3M342.5,256.8L345.6,255.8M355.6,260.6L358.7,259.9M368.9,266.0L372.0,265.5M382.4,272.7L385.4,272.2M396.0,280.2L399.0,279.8M409.9,288.3L412.8,288.0M423.8,296.8L426.8,296.2M438.0,304.5L440.9,303.6M452.5,310.5L455.4,309.1M467.3,313.9L470.1,311.8M482.5,313.2L485.3,310.2M498.2,307.2L501.1,303.0" class="m"/><path d="M237.8,243.4L241.2,242.2M292.4,256.7L293.4,255.2M292.2,257.1L292.4,256.7M405.1,285.5L404.5,283.0M495.9,308.3L495.9,305.8" class="y"/><path d="M229.2,236.6L233.2,243.1L236.4,241.8L232.5,235.3ZM233.2,243.1L234.6,244.7L237.8,243.4L236.4,241.8ZM290.8,258.9L292.7,258.7L295.9,256.6L292.2,257.1ZM292.7,258.7L296.9,258.1L301.0,257.4L305.2,256.9L309.4,256.5L313.6,256.2L317.8,256.0L322.1,256.0L326.4,256.2L330.7,256.5L335.0,257.1L339.3,257.9L343.7,258.9L348.1,260.1L352.5,261.4L356.9,263.0L361.4,264.7L365.9,266.7L370.3,268.7L374.8,270.9L379.4,273.2L383.9,275.5L388.5,278.0L393.0,280.6L397.6,283.2L400.6,282.8L396.0,280.2L391.5,277.6L386.9,275.1L382.4,272.7L377.9,270.3L373.4,268.1L368.9,266.0L364.5,264.1L360.0,262.3L355.6,260.6L351.2,259.2L346.8,257.9L342.5,256.8L338.1,255.9L333.8,255.2L329.5,254.7L325.3,254.4L321.0,254.3L316.8,254.4L312.6,254.6L308.4,254.9L304.2,255.4L300.1,256.0L295.9,256.6ZM397.6,283.2L402.2,285.9L405.1,285.5L405.1,285.5L400.6,282.8ZM402.2,285.9L405.6,287.9L405.1,285.5ZM496.2,310.0L498.2,307.2L495.9,308.3Z" class="rf"/><path d="M234.6,244.7L237.1,247.6L240.3,246.4L237.8,243.4ZM237.1,247.6L240.9,249.9L244.8,250.7L248.7,250.9L252.6,251.6L256.5,252.9L260.5,254.6L264.5,256.2L268.5,257.6L272.5,258.6L276.5,259.2L280.5,259.5L284.6,259.5L288.6,259.2L291.9,257.1L287.8,257.4L283.7,257.5L279.7,257.2L275.7,256.6L271.7,255.7L267.7,254.4L263.7,252.8L259.8,251.2L255.9,250.0L252.0,249.5L248.1,249.4L244.2,248.7L240.3,246.4ZM288.6,259.2L290.8,258.9L292.2,257.1L291.9,257.1ZM405.1,285.5L405.2,285.5L405.1,285.5ZM405.6,287.9L406.9,288.7L409.9,288.3L405.2,285.5L405.1,285.5ZM406.9,288.7L411.5,291.6L416.2,294.5L420.9,297.3L425.6,300.2L430.3,302.9L435.1,305.4L439.9,307.8L444.7,310.0L449.6,311.9L454.5,313.5L459.4,314.9L464.4,315.9L469.4,316.5L474.4,316.5L479.6,316.0L484.7,314.9L490.0,313.4L492.9,309.7L487.6,311.7L482.5,313.2L477.3,314.0L472.3,314.2L467.3,313.9L462.3,313.1L457.4,312.0L452.5,310.5L447.6,308.8L442.8,306.8L438.0,304.5L433.3,302.1L428.5,299.5L423.8,296.8L419.2,294.0L414.5,291.1L409.9,288.3ZM490.0,313.4L495.2,311.4L496.2,310.0L495.9,308.3L492.9,309.7Z" class="cf"/><path d="M229.2,236.6L232.5,235.3M240.9,249.9L244.2,248.7M252.6,251.6L255.9,250.0M264.5,256.2L267.7,254.4M276.5,259.2L279.7,257.2M288.6,259.2L291.9,257.1M301.0,257.4L304.2,255.4M313.6,256.2L316.8,254.4M326.4,256.2L329.5,254.7M339.3,257.9L342.5,256.8M352.5,261.4L355.6,260.6M365.9,266.7L368.9,266.0M379.4,273.2L382.4,272.7M393.0,280.6L396.0,280.2M406.9,288.7L409.9,288.3M420.9,297.3L423.8,296.8M435.1,305.4L438.0,304.5M449.6,311.9L452.5,310.5M464.4,315.9L467.3,313.9M479.6,316.0L482.5,313.2M495.2,311.4L498.2,307.2M232.5,235.3L236.4,241.8L240.3,246.4L244.2,248.7L248.1,249.4L252.0,249.5L255.9,250.0L259.8,251.2L263.7,252.8L267.7,254.4L271.7,255.7L275.7,256.6L279.7,257.2L283.7,257.5L287.8,257.4L291.9,257.1L295.9,256.6L300.1,256.0L304.2,255.4L308.4,254.9L312.6,254.6L316.8,254.4L321.0,254.3L325.3,254.4L329.5,254.7L333.8,255.2L338.1,255.9L342.5,256.8L346.8,257.9L351.2,259.2L355.6,260.6L360.0,262.3L364.5,264.1L368.9,266.0L373.4,268.1L377.9,270.3L382.4,272.7L386.9,275.1L391.5,277.6L396.0,280.2L400.6,282.8L405.2,285.5L409.9,288.3L414.5,291.1L419.2,294.0L423.8,296.8L428.5,299.5L433.3,302.1L438.0,304.5L442.8,306.8L447.6,308.8L452.5,310.5L457.4,312.0L462.3,313.1L467.3,313.9L472.3,314.2L477.3,314.0L482.5,313.2L487.6,311.7L492.9,309.7L498.2,307.2" class="m"/><path d="M234.6,244.7L237.8,243.4M290.8,258.9L292.2,257.1M405.1,285.5L405.1,285.5M405.6,287.9L405.1,285.5M496.2,310.0L495.9,308.3" class="y"/><path d="M225.9,237.8L229.8,244.2L233.2,243.1L229.2,236.6ZM229.8,244.2L231.4,246.0L234.6,244.7L233.2,243.1ZM289.4,260.8L289.5,260.7L292.7,258.7L290.8,258.9ZM289.5,260.7L293.6,260.1L297.8,259.5L302.0,258.9L306.2,258.4L310.4,258.0L314.6,257.7L318.9,257.6L323.2,257.7L327.5,257.9L331.8,258.4L336.2,259.1L340.6,259.9L345.0,261.0L349.4,262.3L353.8,263.8L358.3,265.5L362.7,267.3L367.2,269.3L371.8,271.5L376.3,273.7L380.8,276.1L385.4,278.5L390.0,281.0L394.6,283.7L399.2,286.4L402.2,285.9L397.6,283.2L393.0,280.6L388.5,278.0L383.9,275.5L379.4,273.2L374.8,270.9L370.3,268.7L365.9,266.7L361.4,264.7L356.9,263.0L352.5,261.4L348.1,260.1L343.7,258.9L339.3,257.9L335.0,257.1L330.7,256.5L326.4,256.2L322.1,256.0L317.8,256.0L313.6,256.2L309.4,256.5L305.2,256.9L301.0,257.4L296.9,258.1L292.7,258.7ZM399.2,286.4L403.9,289.2L405.7,288.9L405.6,287.9L402.2,285.9ZM403.9,289.2L405.8,290.3L405.7,288.9Z" class="rf"/><path d="M231.4,246.0L233.8,248.7L237.1,247.6L234.6,244.7ZM233.8,248.7L237.6,251.1L241.5,252.0L245.4,252.4L249.3,253.2L253.3,254.7L257.2,256.5L261.2,258.3L265.2,259.7L269.2,260.7L273.2,261.3L277.3,261.6L281.3,261.6L285.4,261.2L288.6,259.2L284.6,259.5L280.5,259.5L276.5,259.2L272.5,258.6L268.5,257.6L264.5,256.2L260.5,254.6L256.5,252.9L252.6,251.6L248.7,250.9L244.8,250.7L240.9,249.9L237.1,247.6ZM285.4,261.2L289.4,260.8L290.8,258.9L288.6,259.2ZM405.7,288.9L406.9,288.7L405.6,287.9ZM405.8,290.3L408.5,292.1L411.5,291.6L406.9,288.7L405.7,288.9ZM408.5,292.1L413.2,295.0L417.9,297.9L422.6,300.8L427.4,303.6L432.2,306.3L437.0,308.8L441.8,311.1L446.7,313.2L451.6,315.0L456.5,316.6L461.5,317.8L466.5,318.6L471.5,319.0L476.6,318.8L481.8,318.1L487.0,317.0L492.3,315.5L495.2,311.4L490.0,313.4L484.7,314.9L479.6,316.0L474.4,316.5L469.4,316.5L464.4,315.9L459.4,314.9L454.5,313.5L449.6,311.9L444.7,310.0L439.9,307.8L435.1,305.4L430.3,302.9L425.6,300.2L420.9,297.3L416.2,294.5L411.5,291.6Z" class="cf"/><path d="M225.9,237.8L229.2,236.6M237.6,251.1L240.9,249.9M249.3,253.2L252.6,251.6M261.2,258.3L264.5,256.2M273.2,261.3L276.5,259.2M285.4,261.2L288.6,259.2M297.8,259.5L301.0,257.4M310.4,258.0L313.6,256.2M323.2,257.7L326.4,256.2M336.2,259.1L339.3,257.9M349.4,262.3L352.5,261.4M362.7,267.3L365.9,266.7M376.3,273.7L379.4,273.2M390.0,281.0L393.0,280.6M403.9,289.2L406.9,288.7M417.9,297.9L420.9,297.3M432.2,306.3L435.1,305.4M446.7,313.2L449.6,311.9M461.5,317.8L464.4,315.9M476.6,318.8L479.6,316.0M492.3,315.5L495.2,311.4" class="m"/><path d="M231.4,246.0L234.6,244.7M289.4,260.8L290.8,258.9M405.7,288.9L405.6,287.9M405.8,290.3L405.7,288.9" class="y"/><path d="M222.6,238.7L226.5,245.2L229.8,244.2L225.9,237.8ZM226.5,245.2L228.5,247.4L231.4,246.0L229.8,244.2ZM289.3,260.9L289.5,260.7L289.4,260.8ZM287.9,262.6L290.4,262.2L293.6,260.1L289.5,260.7L289.3,260.9ZM290.4,262.2L294.6,261.6L298.7,261.0L302.9,260.4L307.2,259.9L311.4,259.6L315.7,259.3L320.0,259.3L324.3,259.4L328.6,259.8L333.0,260.3L337.4,261.1L341.8,262.1L346.2,263.3L350.7,264.7L355.1,266.3L359.6,268.1L364.1,270.1L368.7,272.2L373.2,274.4L377.8,276.7L382.3,279.1L386.9,281.6L391.6,284.2L396.2,286.9L400.8,289.7L403.9,289.2L399.2,286.4L394.6,283.7L390.0,281.0L385.4,278.5L380.8,276.1L376.3,273.7L371.8,271.5L367.2,269.3L362.7,267.3L358.3,265.5L353.8,263.8L349.4,262.3L345.0,261.0L340.6,259.9L336.2,259.1L331.8,258.4L327.5,257.9L323.2,257.7L318.9,257.6L314.6,257.7L310.4,258.0L306.2,258.4L302.0,258.9L297.8,259.5L293.6,260.1ZM400.8,289.7L405.5,292.6L405.7,292.6L405.8,290.3L403.9,289.2ZM405.5,292.6L405.7,292.7L405.7,292.6Z" class="rf"/><path d="M228.5,247.4L230.4,249.7L233.8,248.7L231.4,246.0ZM230.4,249.7L234.3,252.2L238.2,253.3L242.1,253.9L246.0,254.9L250.0,256.7L254.0,258.7L257.9,260.6L261.9,262.1L266.0,263.0L270.0,263.6L274.0,263.8L278.1,263.7L282.2,263.4L285.4,261.2L281.3,261.6L277.3,261.6L273.2,261.3L269.2,260.7L265.2,259.7L261.2,258.3L257.2,256.5L253.3,254.7L249.3,253.2L245.4,252.4L241.5,252.0L237.6,251.1L233.8,248.7ZM282.2,263.4L286.3,262.9L289.3,260.9L289.4,260.8L285.4,261.2ZM286.3,262.9L287.9,262.6L289.3,260.9ZM405.7,292.6L408.5,292.1L405.8,290.3ZM405.7,292.7L410.2,295.6L413.2,295.0L408.5,292.1L405.7,292.6ZM410.2,295.6L414.9,298.6L419.7,301.6L424.4,304.4L429.2,307.2L434.0,309.8L438.9,312.3L443.7,314.5L448.6,316.5L453.6,318.2L458.5,319.6L463.5,320.7L468.6,321.3L473.7,321.5L478.9,321.2L484.1,320.5L489.3,319.5L492.3,315.5L487.0,317.0L481.8,318.1L476.6,318.8L471.5,319.0L466.5,318.6L461.5,317.8L456.5,316.6L451.6,315.0L446.7,313.2L441.8,311.1L437.0,308.8L432.2,306.3L427.4,303.6L422.6,300.8L417.9,297.9L413.2,295.0Z" class="cf"/><path d="M222.6,238.7L225.9,237.8M234.3,252.2L237.6,251.1M246.0,254.9L249.3,253.2M257.9,260.6L261.2,258.3M270.0,263.6L273.2,261.3M282.2,263.4L285.4,261.2M294.6,261.6L297.8,259.5M307.2,259.9L310.4,258.0M320.0,259.3L323.2,257.7M333.0,260.3L336.2,259.1M346.2,263.3L349.4,262.3M359.6,268.1L362.7,267.3M373.2,274.4L376.3,273.7M386.9,281.6L390.0,281.0M400.8,289.7L403.9,289.2M414.9,298.6L417.9,297.9M429.2,307.2L432.2,306.3M443.7,314.5L446.7,313.2M458.5,319.6L461.5,317.8M473.7,321.5L476.6,318.8M489.3,319.5L492.3,315.5" class="m"/><path d="M228.5,247.4L231.4,246.0M289.3,260.9L289.4,260.8M287.9,262.6L289.3,260.9M405.7,292.6L405.8,290.3M405.7,292.7L405.7,292.6" class="y"/><path d="M219.2,239.5L223.1,246.0L226.5,245.2L222.6,238.7ZM223.1,246.0L225.6,248.9L228.5,247.4L226.5,245.2ZM286.4,264.5L287.1,264.4L290.4,262.2L287.9,262.6ZM287.1,264.4L291.3,263.7L295.5,263.1L299.7,262.5L303.9,261.9L308.2,261.4L312.5,261.1L316.8,260.9L321.1,261.0L325.4,261.2L329.8,261.7L334.2,262.3L338.6,263.2L343.0,264.3L347.5,265.7L352.0,267.2L356.5,269.0L361.0,270.9L365.5,272.9L370.1,275.1L374.6,277.4L379.2,279.7L383.9,282.2L388.5,284.8L393.1,287.5L397.8,290.3L402.5,293.3L405.5,292.6L400.8,289.7L396.2,286.9L391.6,284.2L386.9,281.6L382.3,279.1L377.8,276.7L373.2,274.4L368.7,272.2L364.1,270.1L359.6,268.1L355.1,266.3L350.7,264.7L346.2,263.3L341.8,262.1L337.4,261.1L333.0,260.3L328.6,259.8L324.3,259.4L320.0,259.3L315.7,259.3L311.4,259.6L307.2,259.9L302.9,260.4L298.7,261.0L294.6,261.6L290.4,262.2ZM402.5,293.3L405.2,295.0L405.7,292.7L405.5,292.6Z" class="rf"/><path d="M225.6,248.9L227.1,250.6L230.4,249.7L228.5,247.4ZM227.1,250.6L231.0,253.3L234.9,254.6L238.8,255.4L242.7,256.7L246.7,258.8L250.7,261.1L254.7,263.2L258.7,264.7L262.7,265.6L266.7,266.0L270.7,266.1L274.8,265.9L278.9,265.5L283.0,265.0L286.3,262.9L282.2,263.4L278.1,263.7L274.0,263.8L270.0,263.6L266.0,263.0L261.9,262.1L257.9,260.6L254.0,258.7L250.0,256.7L246.0,254.9L242.1,253.9L238.2,253.3L234.3,252.2L230.4,249.7ZM283.0,265.0L286.4,264.5L287.9,262.6L286.3,262.9ZM405.2,295.0L407.2,296.3L410.2,295.6L405.7,292.7ZM407.2,296.3L411.9,299.3L416.7,302.3L421.4,305.3L426.2,308.1L431.0,310.9L435.9,313.4L440.8,315.8L445.7,317.9L450.6,319.8L455.6,321.4L460.6,322.7L465.7,323.6L470.8,324.0L475.9,324.1L481.1,323.9L486.4,323.4L489.3,319.5L484.1,320.5L478.9,321.2L473.7,321.5L468.6,321.3L463.5,320.7L458.5,319.6L453.6,318.2L448.6,316.5L443.7,314.5L438.9,312.3L434.0,309.8L429.2,307.2L424.4,304.4L419.7,301.6L414.9,298.6L410.2,295.6Z" class="cf"/><path d="M219.2,239.5L222.6,238.7M231.0,253.3L234.3,252.2M242.7,256.7L246.0,254.9M254.7,263.2L257.9,260.6M266.7,266.0L270.0,263.6M278.9,265.5L282.2,263.4M291.3,263.7L294.6,261.6M303.9,261.9L307.2,259.9M316.8,260.9L320.0,259.3M329.8,261.7L333.0,260.3M343.0,264.3L346.2,263.3M356.5,269.0L359.6,268.1M370.1,275.1L373.2,274.4M383.9,282.2L386.9,281.6M397.8,290.3L400.8,289.7M411.9,299.3L414.9,298.6M426.2,308.1L429.2,307.2M440.8,315.8L443.7,314.5M455.6,321.4L458.5,319.6M470.8,324.0L473.7,321.5M486.4,323.4L489.3,319.5M222.6,238.7L226.5,245.2L230.4,249.7L234.3,252.2L238.2,253.3L242.1,253.9L246.0,254.9L250.0,256.7L254.0,258.7L257.9,260.6L261.9,262.1L266.0,263.0L270.0,263.6L274.0,263.8L278.1,263.7L282.2,263.4L286.3,262.9L290.4,262.2L294.6,261.6L298.7,261.0L302.9,260.4L307.2,259.9L311.4,259.6L315.7,259.3L320.0,259.3L324.3,259.4L328.6,259.8L333.0,260.3L337.4,261.1L341.8,262.1L346.2,263.3L350.7,264.7L355.1,266.3L359.6,268.1L364.1,270.1L368.7,272.2L373.2,274.4L377.8,276.7L382.3,279.1L386.9,281.6L391.6,284.2L396.2,286.9L400.8,289.7L405.5,292.6L410.2,295.6L414.9,298.6L419.7,301.6L424.4,304.4L429.2,307.2L434.0,309.8L438.9,312.3L443.7,314.5L448.6,316.5L453.6,318.2L458.5,319.6L463.5,320.7L468.6,321.3L473.7,321.5L478.9,321.2L484.1,320.5L489.3,319.5" class="m"/><path d="M225.6,248.9L228.5,247.4M286.4,264.5L287.9,262.6M405.2,295.0L405.7,292.7" class="y"/><path d="M215.8,240.1L219.8,246.7L223.1,246.0L219.2,239.5ZM219.8,246.7L222.8,250.3L225.6,248.9L223.1,246.0ZM285.9,265.2L287.1,264.4L286.4,264.5ZM285.0,266.4L288.0,265.9L291.3,263.7L287.1,264.4L285.9,265.2ZM288.0,265.9L292.2,265.2L296.4,264.5L300.7,263.9L304.9,263.4L309.2,262.9L313.5,262.7L317.8,262.6L322.2,262.8L326.6,263.1L331.0,263.7L335.4,264.5L339.8,265.5L344.3,266.7L348.8,268.2L353.3,269.9L357.8,271.7L362.4,273.7L366.9,275.9L371.5,278.1L376.1,280.5L380.7,282.9L385.4,285.5L390.0,288.2L394.7,291.1L399.4,294.0L402.5,293.3L397.8,290.3L393.1,287.5L388.5,284.8L383.9,282.2L379.2,279.7L374.6,277.4L370.1,275.1L365.5,272.9L361.0,270.9L356.5,269.0L352.0,267.2L347.5,265.7L343.0,264.3L338.6,263.2L334.2,262.3L329.8,261.7L325.4,261.2L321.1,261.0L316.8,260.9L312.5,261.1L308.2,261.4L303.9,261.9L299.7,262.5L295.5,263.1L291.3,263.7ZM399.4,294.0L404.1,297.0L404.7,296.9L405.2,295.0L402.5,293.3ZM404.1,297.0L404.5,297.3L404.7,296.9Z" class="rf"/><path d="M222.8,250.3L223.7,251.5L227.1,250.6L225.6,248.9ZM223.7,251.5L227.6,254.4L231.5,255.9L235.4,257.0L239.4,258.7L243.4,261.1L247.3,263.7L251.3,265.9L255.4,267.5L259.4,268.3L263.4,268.6L267.5,268.5L271.5,268.2L275.6,267.7L279.7,267.2L283.0,265.0L278.9,265.5L274.8,265.9L270.7,266.1L266.7,266.0L262.7,265.6L258.7,264.7L254.7,263.2L250.7,261.1L246.7,258.8L242.7,256.7L238.8,255.4L234.9,254.6L231.0,253.3L227.1,250.6ZM279.7,267.2L283.9,266.6L285.9,265.2L286.4,264.5L283.0,265.0ZM283.9,266.6L285.0,266.4L285.9,265.2ZM404.7,296.9L407.2,296.3L405.2,295.0ZM404.5,297.3L408.9,300.1L411.9,299.3L407.2,296.3L404.7,296.9ZM408.9,300.1L413.6,303.1L418.4,306.1L423.2,309.1L428.0,311.9L432.9,314.5L437.8,317.0L442.7,319.3L447.6,321.3L452.6,323.1L457.6,324.6L462.7,325.7L467.8,326.5L473.0,326.9L478.1,327.1L483.4,327.1L486.4,323.4L481.1,323.9L475.9,324.1L470.8,324.0L465.7,323.6L460.6,322.7L455.6,321.4L450.6,319.8L445.7,317.9L440.8,315.8L435.9,313.4L431.0,310.9L426.2,308.1L421.4,305.3L416.7,302.3L411.9,299.3Z" class="cf"/><path d="M215.8,240.1L219.2,239.5M227.6,254.4L231.0,253.3M239.4,258.7L242.7,256.7M251.3,265.9L254.7,263.2M263.4,268.6L266.7,266.0M275.6,267.7L278.9,265.5M288.0,265.9L291.3,263.7M300.7,263.9L303.9,261.9M313.5,262.7L316.8,260.9M326.6,263.1L329.8,261.7M339.8,265.5L343.0,264.3M353.3,269.9L356.5,269.0M366.9,275.9L370.1,275.1M380.7,282.9L383.9,282.2M394.7,291.1L397.8,290.3M408.9,300.1L411.9,299.3M423.2,309.1L426.2,308.1M437.8,317.0L440.8,315.8M452.6,323.1L455.6,321.4M467.8,326.5L470.8,324.0M483.4,327.1L486.4,323.4" class="m"/><path d="M222.8,250.3L225.6,248.9M285.9,265.2L286.4,264.5M285.0,266.4L285.9,265.2M404.7,296.9L405.2,295.0M404.5,297.3L404.7,296.9" class="y"/><path d="M212.4,240.6L216.3,247.3L219.8,246.7L215.8,240.1ZM216.3,247.3L219.9,251.8L222.8,250.3L219.8,246.7ZM283.6,268.3L284.7,268.1L288.0,265.9L285.0,266.4ZM284.7,268.1L288.9,267.4L293.1,266.7L297.4,266.0L301.6,265.4L305.9,264.9L310.2,264.5L314.6,264.3L318.9,264.4L323.3,264.6L327.7,265.1L332.2,265.8L336.6,266.7L341.1,267.9L345.6,269.3L350.1,270.9L354.6,272.7L359.2,274.6L363.8,276.7L368.4,278.9L373.0,281.3L377.6,283.7L382.3,286.3L386.9,289.0L391.6,291.8L396.3,294.8L401.1,297.8L404.1,297.0L399.4,294.0L394.7,291.1L390.0,288.2L385.4,285.5L380.7,282.9L376.1,280.5L371.5,278.1L366.9,275.9L362.4,273.7L357.8,271.7L353.3,269.9L348.8,268.2L344.3,266.7L339.8,265.5L335.4,264.5L331.0,263.7L326.6,263.1L322.2,262.8L317.8,262.6L313.5,262.7L309.2,262.9L304.9,263.4L300.7,263.9L296.4,264.5L292.2,265.2L288.0,265.9ZM401.1,297.8L403.7,299.5L404.5,297.3L404.1,297.0Z" class="rf"/><path d="M219.9,251.8L220.3,252.4L223.7,251.5L222.8,250.3ZM220.3,252.4L224.2,255.6L228.1,257.3L232.1,258.7L236.0,260.7L240.0,263.5L244.0,266.4L248.0,268.8L252.0,270.4L256.1,271.1L260.1,271.2L264.1,270.9L268.2,270.5L272.3,270.0L276.4,269.5L280.6,268.8L283.9,266.6L279.7,267.2L275.6,267.7L271.5,268.2L267.5,268.5L263.4,268.6L259.4,268.3L255.4,267.5L251.3,265.9L247.3,263.7L243.4,261.1L239.4,258.7L235.4,257.0L231.5,255.9L227.6,254.4L223.7,251.5ZM280.6,268.8L283.6,268.3L285.0,266.4L283.9,266.6ZM403.7,299.5L405.8,300.9L408.9,300.1L404.5,297.3ZM405.8,300.9L410.6,304.0L415.4,307.0L420.2,310.0L425.0,312.9L429.9,315.6L434.8,318.2L439.7,320.6L444.7,322.8L449.6,324.8L454.7,326.4L459.7,327.8L464.8,328.9L470.0,329.6L475.2,330.2L480.4,330.6L483.4,327.1L478.1,327.1L473.0,326.9L467.8,326.5L462.7,325.7L457.6,324.6L452.6,323.1L447.6,321.3L442.7,319.3L437.8,317.0L432.9,314.5L428.0,311.9L423.2,309.1L418.4,306.1L413.6,303.1L408.9,300.1Z" class="cf"/><path d="M212.4,240.6L215.8,240.1M224.2,255.6L227.6,254.4M236.0,260.7L239.4,258.7M248.0,268.8L251.3,265.9M260.1,271.2L263.4,268.6M272.3,270.0L275.6,267.7M284.7,268.1L288.0,265.9M297.4,266.0L300.7,263.9M310.2,264.5L313.5,262.7M323.3,264.6L326.6,263.1M336.6,266.7L339.8,265.5M350.1,270.9L353.3,269.9M363.8,276.7L366.9,275.9M377.6,283.7L380.7,282.9M391.6,291.8L394.7,291.1M405.8,300.9L408.9,300.1M420.2,310.0L423.2,309.1M434.8,318.2L437.8,317.0M449.6,324.8L452.6,323.1M464.8,328.9L467.8,326.5M480.4,330.6L483.4,327.1" class="m"/><path d="M219.9,251.8L222.8,250.3M283.6,268.3L285.0,266.4M403.7,299.5L404.5,297.3" class="y"/><path d="M208.9,240.9L212.9,247.8L216.3,247.3L212.4,240.6ZM212.9,247.8L216.8,253.2L219.9,251.8L216.3,247.3ZM282.7,269.5L284.7,268.1L283.6,268.3ZM282.1,270.3L285.6,269.7L288.9,267.4L284.7,268.1L282.7,269.5ZM285.6,269.7L289.8,268.9L294.1,268.1L298.3,267.4L302.6,266.8L306.9,266.4L311.3,266.1L315.7,266.1L320.0,266.2L324.5,266.6L328.9,267.2L333.4,268.0L337.8,269.1L342.3,270.4L346.9,271.9L351.4,273.7L356.0,275.5L360.6,277.6L365.2,279.8L369.8,282.1L374.4,284.6L379.1,287.1L383.8,289.8L388.5,292.7L393.2,295.6L398.0,298.7L401.1,297.8L396.3,294.8L391.6,291.8L386.9,289.0L382.3,286.3L377.6,283.7L373.0,281.3L368.4,278.9L363.8,276.7L359.2,274.6L354.6,272.7L350.1,270.9L345.6,269.3L341.1,267.9L336.6,266.7L332.2,265.8L327.7,265.1L323.3,264.6L318.9,264.4L314.6,264.3L310.2,264.5L305.9,264.9L301.6,265.4L297.4,266.0L293.1,266.7L288.9,267.4ZM398.0,298.7L402.7,301.8L402.8,301.7L403.7,299.5L401.1,297.8ZM402.7,301.8L402.8,301.8L402.8,301.7Z" class="rf"/><path d="M216.8,253.2L216.9,253.3L220.3,252.4L219.9,251.8ZM216.9,253.3L220.8,256.8L224.7,258.9L228.7,260.6L232.7,262.9L236.6,266.0L240.7,269.2L244.7,271.8L248.7,273.3L252.7,273.9L256.8,273.9L260.8,273.5L264.9,272.9L269.0,272.4L273.1,271.8L277.2,271.1L280.6,268.8L276.4,269.5L272.3,270.0L268.2,270.5L264.1,270.9L260.1,271.2L256.1,271.1L252.0,270.4L248.0,268.8L244.0,266.4L240.0,263.5L236.0,260.7L232.1,258.7L228.1,257.3L224.2,255.6L220.3,252.4ZM277.2,271.1L281.4,270.4L282.7,269.5L283.6,268.3L280.6,268.8ZM281.4,270.4L282.1,270.3L282.7,269.5ZM402.8,301.7L405.8,300.9L403.7,299.5ZM402.8,301.8L407.5,304.9L410.6,304.0L405.8,300.9L402.8,301.7ZM407.5,304.9L412.3,307.9L417.1,311.0L422.0,313.9L426.8,316.8L431.7,319.5L436.7,322.0L441.6,324.3L446.6,326.4L451.7,328.3L456.7,329.8L461.8,331.2L467.0,332.3L472.2,333.2L477.4,334.0L480.4,330.6L475.2,330.2L470.0,329.6L464.8,328.9L459.7,327.8L454.7,326.4L449.6,324.8L444.7,322.8L439.7,320.6L434.8,318.2L429.9,315.6L425.0,312.9L420.2,310.0L415.4,307.0L410.6,304.0Z" class="cf"/><path d="M208.9,240.9L212.4,240.6M220.8,256.8L224.2,255.6M232.7,262.9L236.0,260.7M244.7,271.8L248.0,268.8M256.8,273.9L260.1,271.2M269.0,272.4L272.3,270.0M281.4,270.4L284.7,268.1M294.1,268.1L297.4,266.0M306.9,266.4L310.2,264.5M320.0,266.2L323.3,264.6M333.4,268.0L336.6,266.7M346.9,271.9L350.1,270.9M360.6,277.6L363.8,276.7M374.4,284.6L377.6,283.7M388.5,292.7L391.6,291.8M402.7,301.8L405.8,300.9M417.1,311.0L420.2,310.0M431.7,319.5L434.8,318.2M446.6,326.4L449.6,324.8M461.8,331.2L464.8,328.9M477.4,334.0L480.4,330.6M212.4,240.6L216.3,247.3L220.3,252.4L224.2,255.6L228.1,257.3L232.1,258.7L236.0,260.7L240.0,263.5L244.0,266.4L248.0,268.8L252.0,270.4L256.1,271.1L260.1,271.2L264.1,270.9L268.2,270.5L272.3,270.0L276.4,269.5L280.6,268.8L284.7,268.1L288.9,267.4L293.1,266.7L297.4,266.0L301.6,265.4L305.9,264.9L310.2,264.5L314.6,264.3L318.9,264.4L323.3,264.6L327.7,265.1L332.2,265.8L336.6,266.7L341.1,267.9L345.6,269.3L350.1,270.9L354.6,272.7L359.2,274.6L363.8,276.7L368.4,278.9L373.0,281.3L377.6,283.7L382.3,286.3L386.9,289.0L391.6,291.8L396.3,294.8L401.1,297.8L405.8,300.9L410.6,304.0L415.4,307.0L420.2,310.0L425.0,312.9L429.9,315.6L434.8,318.2L439.7,320.6L444.7,322.8L449.6,324.8L454.7,326.4L459.7,327.8L464.8,328.9L470.0,329.6L475.2,330.2L480.4,330.6" class="m"/><path d="M216.8,253.2L219.9,251.8M282.7,269.5L283.6,268.3M282.1,270.3L282.7,269.5M402.8,301.7L403.7,299.5M402.8,301.8L402.8,301.7" class="y"/><path d="M205.4,241.1L209.4,248.4L212.9,247.8L208.9,240.9ZM209.4,248.4L213.4,254.3L216.5,253.4L216.8,253.2L212.9,247.8ZM213.4,254.3L213.8,254.7L216.5,253.4ZM280.7,272.3L282.3,272.0L285.6,269.7L282.1,270.3ZM282.3,272.0L286.5,271.1L290.7,270.3L295.0,269.6L299.3,268.9L303.6,268.4L308.0,268.0L312.3,267.9L316.7,267.9L321.2,268.2L325.6,268.7L330.1,269.4L334.6,270.4L339.1,271.6L343.6,273.1L348.2,274.7L352.8,276.5L357.3,278.5L362.0,280.7L366.6,283.0L371.3,285.4L375.9,288.0L380.6,290.7L385.3,293.6L390.1,296.5L394.8,299.5L399.6,302.6L402.7,301.8L398.0,298.7L393.2,295.6L388.5,292.7L383.8,289.8L379.1,287.1L374.4,284.6L369.8,282.1L365.2,279.8L360.6,277.6L356.0,275.5L351.4,273.7L346.9,271.9L342.3,270.4L337.8,269.1L333.4,268.0L328.9,267.2L324.5,266.6L320.0,266.2L315.7,266.1L311.3,266.1L306.9,266.4L302.6,266.8L298.3,267.4L294.1,268.1L289.8,268.9L285.6,269.7ZM399.6,302.6L401.8,304.1L402.8,301.8L402.7,301.8Z" class="rf"/><path d="M216.5,253.4L216.9,253.3L216.8,253.2ZM213.8,254.7L217.4,258.3L220.8,256.8L216.9,253.3L216.5,253.4ZM217.4,258.3L221.3,260.7L225.3,262.7L229.3,265.3L233.3,268.6L237.3,272.0L241.3,274.7L245.3,276.2L249.4,276.7L253.4,276.5L257.4,276.0L261.5,275.4L265.6,274.7L269.7,274.1L273.9,273.5L278.1,272.7L281.4,270.4L277.2,271.1L273.1,271.8L269.0,272.4L264.9,272.9L260.8,273.5L256.8,273.9L252.7,273.9L248.7,273.3L244.7,271.8L240.7,269.2L236.6,266.0L232.7,262.9L228.7,260.6L224.7,258.9L220.8,256.8ZM278.1,272.7L280.7,272.3L282.1,270.3L281.4,270.4ZM401.8,304.1L404.4,305.7L407.5,304.9L402.8,301.8ZM404.4,305.7L409.2,308.9L414.0,311.9L418.9,315.0L423.8,317.9L428.7,320.7L433.6,323.3L438.6,325.8L443.6,328.0L448.6,330.1L453.7,331.9L458.8,333.4L464.0,334.8L469.1,336.0L474.4,337.1L477.4,334.0L472.2,333.2L467.0,332.3L461.8,331.2L456.7,329.8L451.7,328.3L446.6,326.4L441.6,324.3L436.7,322.0L431.7,319.5L426.8,316.8L422.0,313.9L417.1,311.0L412.3,307.9L407.5,304.9Z" class="cf"/><path d="M205.4,241.1L208.9,240.9M217.4,258.3L220.8,256.8M229.3,265.3L232.7,262.9M241.3,274.7L244.7,271.8M253.4,276.5L256.8,273.9M265.6,274.7L269.0,272.4M278.1,272.7L281.4,270.4M290.7,270.3L294.1,268.1M303.6,268.4L306.9,266.4M316.7,267.9L320.0,266.2M330.1,269.4L333.4,268.0M343.6,273.1L346.9,271.9M357.3,278.5L360.6,277.6M371.3,285.4L374.4,284.6M385.3,293.6L388.5,292.7M399.6,302.6L402.7,301.8M414.0,311.9L417.1,311.0M428.7,320.7L431.7,319.5M443.6,328.0L446.6,326.4M458.8,333.4L461.8,331.2M474.4,337.1L477.4,334.0" class="m"/><path d="M216.5,253.4L216.8,253.2M213.8,254.7L216.5,253.4M280.7,272.3L282.1,270.3M401.8,304.1L402.8,301.8" class="y"/><path d="M201.9,241.3L205.9,249.0L210.0,255.5L213.4,254.3L209.4,248.4L205.4,241.1ZM210.0,255.5L210.5,256.1L213.8,254.7L213.4,254.3ZM279.5,273.9L282.3,272.0L280.7,272.3ZM279.2,274.2L283.1,273.5L286.5,271.1L282.3,272.0L279.5,273.9ZM283.1,273.5L287.4,272.6L291.7,271.8L296.0,271.0L300.3,270.4L304.6,270.0L309.0,269.7L313.4,269.7L317.9,269.9L322.3,270.3L326.8,270.9L331.3,271.8L335.8,272.9L340.3,274.3L344.9,275.8L349.5,277.6L354.1,279.5L358.7,281.6L363.4,283.9L368.0,286.3L372.7,288.9L377.4,291.6L382.2,294.4L386.9,297.4L391.7,300.4L396.5,303.5L399.6,302.6L394.8,299.5L390.1,296.5L385.3,293.6L380.6,290.7L375.9,288.0L371.3,285.4L366.6,283.0L362.0,280.7L357.3,278.5L352.8,276.5L348.2,274.7L343.6,273.1L339.1,271.6L334.6,270.4L330.1,269.4L325.6,268.7L321.2,268.2L316.7,267.9L312.3,267.9L308.0,268.0L303.6,268.4L299.3,268.9L295.0,269.6L290.7,270.3L286.5,271.1ZM396.5,303.5L400.8,306.4L401.8,304.1L399.6,302.6Z" class="rf"/><path d="M210.5,256.1L213.9,259.9L217.4,258.3L213.8,254.7ZM213.9,259.9L217.9,262.8L221.9,265.1L225.8,267.9L229.9,271.4L233.9,274.8L237.9,277.5L241.9,279.0L246.0,279.5L250.0,279.2L254.1,278.5L258.1,277.8L262.3,277.2L266.4,276.5L270.5,275.9L274.7,275.1L278.1,272.7L273.9,273.5L269.7,274.1L265.6,274.7L261.5,275.4L257.4,276.0L253.4,276.5L249.4,276.7L245.3,276.2L241.3,274.7L237.3,272.0L233.3,268.6L229.3,265.3L225.3,262.7L221.3,260.7L217.4,258.3ZM274.7,275.1L278.9,274.3L279.5,273.9L280.7,272.3L278.1,272.7ZM278.9,274.3L279.2,274.2L279.5,273.9ZM400.8,306.4L401.3,306.6L404.4,305.7L401.8,304.1ZM401.3,306.6L406.1,309.8L410.9,312.9L415.8,316.0L420.7,319.0L425.6,321.9L430.6,324.7L435.6,327.3L440.6,329.7L445.6,331.9L450.7,333.9L455.8,335.6L460.9,337.2L466.1,338.6L471.3,340.0L474.4,337.1L469.1,336.0L464.0,334.8L458.8,333.4L453.7,331.9L448.6,330.1L443.6,328.0L438.6,325.8L433.6,323.3L428.7,320.7L423.8,317.9L418.9,315.0L414.0,311.9L409.2,308.9L404.4,305.7Z" class="cf"/><path d="M201.9,241.3L205.4,241.1M213.9,259.9L217.4,258.3M225.8,267.9L229.3,265.3M237.9,277.5L241.3,274.7M250.0,279.2L253.4,276.5M262.3,277.2L265.6,274.7M274.7,275.1L278.1,272.7M287.4,272.6L290.7,270.3M300.3,270.4L303.6,268.4M313.4,269.7L316.7,267.9M326.8,270.9L330.1,269.4M340.3,274.3L343.6,273.1M354.1,279.5L357.3,278.5M368.0,286.3L371.3,285.4M382.2,294.4L385.3,293.6M396.5,303.5L399.6,302.6M410.9,312.9L414.0,311.9M425.6,321.9L428.7,320.7M440.6,329.7L443.6,328.0M455.8,335.6L458.8,333.4M471.3,340.0L474.4,337.1" class="m"/><path d="M210.5,256.1L213.8,254.7M241.3,278.8L242.1,278.9M242.3,279.1L242.1,278.9M279.5,273.9L280.7,272.3M279.2,274.2L279.5,273.9M400.8,306.4L401.8,304.1" class="y"/><path d="M198.4,241.4L202.4,249.7L206.5,256.8L210.0,255.5L205.9,249.0L201.9,241.3ZM206.5,256.8L207.0,257.5L210.5,256.1L210.0,255.5ZM277.8,276.3L279.8,275.8L283.1,273.5L279.2,274.2ZM279.8,275.8L284.0,274.9L288.3,274.0L292.6,273.2L296.9,272.5L301.3,272.0L305.7,271.7L310.1,271.6L314.5,271.7L319.0,272.0L323.5,272.5L328.0,273.3L332.5,274.3L337.0,275.5L341.6,277.0L346.2,278.7L350.8,280.5L355.5,282.6L360.1,284.8L364.8,287.2L369.5,289.8L374.2,292.5L379.0,295.3L383.7,298.2L388.5,301.3L393.3,304.4L396.5,303.5L391.7,300.4L386.9,297.4L382.2,294.4L377.4,291.6L372.7,288.9L368.0,286.3L363.4,283.9L358.7,281.6L354.1,279.5L349.5,277.6L344.9,275.8L340.3,274.3L335.8,272.9L331.3,271.8L326.8,270.9L322.3,270.3L317.9,269.9L313.4,269.7L309.0,269.7L304.6,270.0L300.3,270.4L296.0,271.0L291.7,271.8L287.4,272.6L283.1,273.5ZM393.3,304.4L398.1,307.5L400.7,306.8L400.8,306.4L396.5,303.5ZM398.1,307.5L399.9,308.7L400.7,306.8Z" class="rf"/><path d="M207.0,257.5L210.5,261.8L213.9,259.9L210.5,256.1ZM210.5,261.8L214.5,265.1L218.4,267.7L222.4,270.7L226.4,274.2L230.5,277.6L234.5,280.2L238.5,281.7L242.6,282.0L246.6,281.7L250.7,281.0L254.8,280.3L258.9,279.7L263.0,279.0L267.1,278.3L271.3,277.6L275.5,276.7L278.9,274.3L274.7,275.1L270.5,275.9L266.4,276.5L262.3,277.2L258.1,277.8L254.1,278.5L250.0,279.2L246.0,279.5L241.9,279.0L237.9,277.5L233.9,274.8L229.9,271.4L225.8,267.9L221.9,265.1L217.9,262.8L213.9,259.9ZM275.5,276.7L277.8,276.3L279.2,274.2L278.9,274.3ZM400.7,306.8L401.3,306.6L400.8,306.4ZM399.9,308.7L402.9,310.7L406.1,309.8L401.3,306.6L400.7,306.8ZM402.9,310.7L407.8,313.9L412.7,317.0L417.6,320.1L422.5,323.1L427.5,326.0L432.5,328.8L437.5,331.3L442.5,333.7L447.6,335.9L452.7,337.8L457.9,339.5L463.1,341.1L468.3,342.6L471.3,340.0L466.1,338.6L460.9,337.2L455.8,335.6L450.7,333.9L445.6,331.9L440.6,329.7L435.6,327.3L430.6,324.7L425.6,321.9L420.7,319.0L415.8,316.0L410.9,312.9L406.1,309.8Z" class="cf"/><path d="M198.4,241.4L201.9,241.3M210.5,261.8L213.9,259.9M222.4,270.7L225.8,267.9M234.5,280.2L237.9,277.5M246.6,281.7L250.0,279.2M258.9,279.7L262.3,277.2M271.3,277.6L274.7,275.1M284.0,274.9L287.4,272.6M296.9,272.5L300.3,270.4M310.1,271.6L313.4,269.7M323.5,272.5L326.8,270.9M337.0,275.5L340.3,274.3M350.8,280.5L354.1,279.5M364.8,287.2L368.0,286.3M379.0,295.3L382.2,294.4M393.3,304.4L396.5,303.5M407.8,313.9L410.9,312.9M422.5,323.1L425.6,321.9M437.5,331.3L440.6,329.7M452.7,337.8L455.8,335.6M468.3,342.6L471.3,340.0M201.9,241.3L205.9,249.0L210.0,255.5L213.9,259.9L217.9,262.8L221.9,265.1L225.8,267.9L229.9,271.4L233.9,274.8L237.9,277.5L241.9,279.0L246.0,279.5L250.0,279.2L254.1,278.5L258.1,277.8L262.3,277.2L266.4,276.5L270.5,275.9L274.7,275.1L278.9,274.3L283.1,273.5L287.4,272.6L291.7,271.8L296.0,271.0L300.3,270.4L304.6,270.0L309.0,269.7L313.4,269.7L317.9,269.9L322.3,270.3L326.8,270.9L331.3,271.8L335.8,272.9L340.3,274.3L344.9,275.8L349.5,277.6L354.1,279.5L358.7,281.6L363.4,283.9L368.0,286.3L372.7,288.9L377.4,291.6L382.2,294.4L386.9,297.4L391.7,300.4L396.5,303.5L401.3,306.6L406.1,309.8L410.9,312.9L415.8,316.0L420.7,319.0L425.6,321.9L430.6,324.7L435.6,327.3L440.6,329.7L445.6,331.9L450.7,333.9L455.8,335.6L460.9,337.2L466.1,338.6L471.3,340.0" class="m"/><path d="M207.0,257.5L210.5,256.1M232.1,278.7L237.0,278.2M241.3,278.8L237.0,278.2M244.0,280.9L242.3,279.1M243.9,281.9L244.0,280.9M277.8,276.3L279.2,274.2M400.7,306.8L400.8,306.4M399.9,308.7L400.7,306.8" class="y"/><path d="M194.8,241.5L198.9,250.5L203.0,258.2L206.5,256.8L202.4,249.7L198.4,241.4ZM203.0,258.2L203.4,258.8L207.0,257.5L206.5,256.8ZM276.3,278.3L276.4,278.3L279.8,275.8L277.8,276.3ZM276.4,278.3L280.6,277.3L284.9,276.4L289.2,275.5L293.5,274.7L297.9,274.2L302.3,273.7L306.7,273.5L311.1,273.5L315.6,273.7L320.1,274.1L324.6,274.8L329.2,275.7L333.7,276.9L338.3,278.2L342.9,279.8L347.5,281.6L352.2,283.6L356.9,285.8L361.5,288.2L366.3,290.7L371.0,293.4L375.7,296.2L380.5,299.1L385.3,302.1L390.1,305.2L394.9,308.4L398.1,307.5L393.3,304.4L388.5,301.3L383.7,298.2L379.0,295.3L374.2,292.5L369.5,289.8L364.8,287.2L360.1,284.8L355.5,282.6L350.8,280.5L346.2,278.7L341.6,277.0L337.0,275.5L332.5,274.3L328.0,273.3L323.5,272.5L319.0,272.0L314.5,271.7L310.1,271.6L305.7,271.7L301.3,272.0L296.9,272.5L292.6,273.2L288.3,274.0L284.0,274.9L279.8,275.8ZM394.9,308.4L399.0,311.0L399.9,308.7L398.1,307.5Z" class="rf"/><path d="M203.4,258.8L207.0,263.8L210.5,261.8L207.0,257.5ZM207.0,263.8L211.0,267.6L215.0,270.5L219.0,273.7L223.0,277.1L227.0,280.3L231.1,282.8L235.1,284.1L239.1,284.5L243.2,284.2L247.2,283.6L251.3,282.9L255.4,282.2L259.6,281.6L263.7,280.9L267.9,280.1L272.1,279.2L275.5,276.7L271.3,277.6L267.1,278.3L263.0,279.0L258.9,279.7L254.8,280.3L250.7,281.0L246.6,281.7L242.6,282.0L238.5,281.7L234.5,280.2L230.5,277.6L226.4,274.2L222.4,270.7L218.4,267.7L214.5,265.1L210.5,261.8ZM272.1,279.2L276.3,278.3L277.8,276.3L275.5,276.7ZM399.0,311.0L399.8,311.6L402.9,310.7L399.9,308.7ZM399.8,311.6L404.6,314.8L409.5,318.0L414.5,321.2L419.4,324.4L424.4,327.4L429.4,330.3L434.4,333.0L439.4,335.5L444.5,337.8L449.7,339.9L454.8,341.8L460.0,343.5L465.2,345.1L468.3,342.6L463.1,341.1L457.9,339.5L452.7,337.8L447.6,335.9L442.5,333.7L437.5,331.3L432.5,328.8L427.5,326.0L422.5,323.1L417.6,320.1L412.7,317.0L407.8,313.9L402.9,310.7Z" class="cf"/><path d="M194.8,241.5L198.4,241.4M207.0,263.8L210.5,261.8M219.0,273.7L222.4,270.7M231.1,282.8L234.5,280.2M243.2,284.2L246.6,281.7M255.4,282.2L258.9,279.7M267.9,280.1L271.3,277.6M280.6,277.3L284.0,274.9M293.5,274.7L296.9,272.5M306.7,273.5L310.1,271.6M320.1,274.1L323.5,272.5M333.7,276.9L337.0,275.5M347.5,281.6L350.8,280.5M361.5,288.2L364.8,287.2M375.7,296.2L379.0,295.3M390.1,305.2L393.3,304.4M404.6,314.8L407.8,313.9M419.4,324.4L422.5,323.1M434.4,333.0L437.5,331.3M449.7,339.9L452.7,337.8M465.2,345.1L468.3,342.6" class="m"/><path d="M203.4,258.8L207.0,257.5M225.9,279.4L228.7,279.0M232.1,278.7L228.7,279.0M243.2,284.2L243.9,281.9M243.2,284.2L243.2,284.2M276.3,278.3L277.8,276.3M399.0,311.0L399.9,308.7" class="y"/><path d="M191.2,241.4L195.3,251.2L199.4,259.6L203.0,258.2L198.9,250.5L194.8,241.5ZM199.4,259.6L199.9,260.2L203.4,258.8L203.0,258.2ZM276.2,278.4L276.4,278.3L276.3,278.3ZM274.7,280.3L277.2,279.7L280.6,277.3L276.4,278.3L276.2,278.4ZM277.2,279.7L281.5,278.7L285.8,277.8L290.1,277.0L294.5,276.3L298.9,275.8L303.3,275.5L307.8,275.4L312.2,275.5L316.7,275.8L321.3,276.4L325.8,277.2L330.4,278.2L335.0,279.5L339.6,281.0L344.2,282.7L348.9,284.7L353.6,286.8L358.3,289.1L363.0,291.6L367.7,294.3L372.5,297.1L377.3,300.0L382.1,303.0L386.9,306.1L391.7,309.2L394.9,308.4L390.1,305.2L385.3,302.1L380.5,299.1L375.7,296.2L371.0,293.4L366.3,290.7L361.5,288.2L356.9,285.8L352.2,283.6L347.5,281.6L342.9,279.8L338.3,278.2L333.7,276.9L329.2,275.7L324.6,274.8L320.1,274.1L315.6,273.7L311.1,273.5L306.7,273.5L302.3,273.7L297.9,274.2L293.5,274.7L289.2,275.5L284.9,276.4L280.6,277.3ZM391.7,309.2L396.6,312.5L398.6,311.9L399.0,311.0L394.9,308.4ZM396.6,312.5L398.0,313.4L398.6,311.9Z" class="rf"/><path d="M199.9,260.2L203.5,265.8L207.0,263.8L203.4,258.8ZM203.5,265.8L207.5,270.1L211.5,273.4L215.5,276.6L219.5,279.9L223.6,283.0L227.6,285.3L231.6,286.6L235.7,287.0L239.7,286.7L243.8,286.2L247.9,285.5L252.0,284.9L256.1,284.2L260.3,283.5L264.5,282.6L268.7,281.7L272.1,279.2L267.9,280.1L263.7,280.9L259.6,281.6L255.4,282.2L251.3,282.9L247.2,283.6L243.2,284.2L239.1,284.5L235.1,284.1L231.1,282.8L227.0,280.3L223.0,277.1L219.0,273.7L215.0,270.5L211.0,267.6L207.0,263.8ZM268.7,281.7L272.9,280.7L276.2,278.4L276.3,278.3L272.1,279.2ZM272.9,280.7L274.7,280.3L276.2,278.4ZM398.6,311.9L399.8,311.6L399.0,311.0ZM398.0,313.4L401.5,315.8L404.6,314.8L399.8,311.6L398.6,311.9ZM401.5,315.8L406.4,319.1L411.3,322.4L416.3,325.6L421.2,328.8L426.2,331.8L431.3,334.7L436.3,337.4L441.4,339.8L446.6,342.0L451.7,344.0L456.9,345.7L462.2,347.4L465.2,345.1L460.0,343.5L454.8,341.8L449.7,339.9L444.5,337.8L439.4,335.5L434.4,333.0L429.4,330.3L424.4,327.4L419.4,324.4L414.5,321.2L409.5,318.0L404.6,314.8Z" class="cf"/><path d="M191.2,241.4L194.8,241.5M203.5,265.8L207.0,263.8M215.5,276.6L219.0,273.7M227.6,285.3L231.1,282.8M239.7,286.7L243.2,284.2M252.0,284.9L255.4,282.2M264.5,282.6L267.9,280.1M277.2,279.7L280.6,277.3M290.1,277.0L293.5,274.7M303.3,275.5L306.7,273.5M316.7,275.8L320.1,274.1M330.4,278.2L333.7,276.9M344.2,282.7L347.5,281.6M358.3,289.1L361.5,288.2M372.5,297.1L375.7,296.2M386.9,306.1L390.1,305.2M401.5,315.8L404.6,314.8M416.3,325.6L419.4,324.4M431.3,334.7L434.4,333.0M446.6,342.0L449.7,339.9M462.2,347.4L465.2,345.1" class="m"/><path d="M199.9,260.2L203.4,258.8M219.8,280.1L225.9,279.4M242.2,286.4L243.2,284.2M276.2,278.4L276.3,278.3M274.7,280.3L276.2,278.4M398.6,311.9L399.0,311.0M398.0,313.4L398.6,311.9" class="y"/><path d="M187.6,241.2L191.8,251.7L195.9,260.7L199.4,259.6L195.3,251.2L191.2,241.4ZM195.9,260.7L196.4,261.6L199.9,260.2L199.4,259.6ZM273.1,282.3L273.7,282.2L277.2,279.7L274.7,280.3ZM273.7,282.2L278.0,281.2L282.4,280.2L286.7,279.3L291.1,278.6L295.5,278.0L299.9,277.6L304.3,277.4L308.8,277.4L313.3,277.6L317.9,278.1L322.4,278.8L327.0,279.7L331.6,280.9L336.2,282.3L340.9,283.9L345.5,285.8L350.2,287.9L354.9,290.1L359.7,292.6L364.4,295.2L369.2,298.0L374.0,300.8L378.8,303.8L383.6,306.9L388.5,310.1L393.4,313.4L396.6,312.5L391.7,309.2L386.9,306.1L382.1,303.0L377.3,300.0L372.5,297.1L367.7,294.3L363.0,291.6L358.3,289.1L353.6,286.8L348.9,284.7L344.2,282.7L339.6,281.0L335.0,279.5L330.4,278.2L325.8,277.2L321.3,276.4L316.7,275.8L312.2,275.5L307.8,275.4L303.3,275.5L298.9,275.8L294.5,276.3L290.1,277.0L285.8,277.8L281.5,278.7L277.2,279.7ZM393.4,313.4L396.9,315.8L398.0,313.4L396.6,312.5Z" class="rf"/><path d="M196.4,261.6L200.0,267.6L203.5,265.8L199.9,260.2ZM200.0,267.6L204.0,272.4L208.0,276.1L212.0,279.5L216.1,282.7L220.1,285.6L224.1,287.8L228.2,289.0L232.2,289.5L236.3,289.4L240.3,288.9L244.4,288.3L248.5,287.7L252.7,287.0L256.8,286.2L261.0,285.3L265.2,284.3L269.5,283.2L272.9,280.7L268.7,281.7L264.5,282.6L260.3,283.5L256.1,284.2L252.0,284.9L247.9,285.5L243.8,286.2L239.7,286.7L235.7,287.0L231.6,286.6L227.6,285.3L223.6,283.0L219.5,279.9L215.5,276.6L211.5,273.4L207.5,270.1L203.5,265.8ZM269.5,283.2L273.1,282.3L274.7,280.3L272.9,280.7ZM396.9,315.8L398.3,316.7L401.5,315.8L398.0,313.4ZM398.3,316.7L403.2,320.1L408.1,323.5L413.1,326.8L418.1,330.1L423.1,333.3L428.1,336.4L433.2,339.2L438.3,341.8L443.4,344.1L448.6,346.1L453.8,347.9L459.1,349.6L462.2,347.4L456.9,345.7L451.7,344.0L446.6,342.0L441.4,339.8L436.3,337.4L431.3,334.7L426.2,331.8L421.2,328.8L416.3,325.6L411.3,322.4L406.4,319.1L401.5,315.8Z" class="cf"/><path d="M187.6,241.2L191.2,241.4M200.0,267.6L203.5,265.8M212.0,279.5L215.5,276.6M224.1,287.8L227.6,285.3M236.3,289.4L239.7,286.7M248.5,287.7L252.0,284.9M261.0,285.3L264.5,282.6M273.7,282.2L277.2,279.7M286.7,279.3L290.1,277.0M299.9,277.6L303.3,275.5M313.3,277.6L316.7,275.8M327.0,279.7L330.4,278.2M340.9,283.9L344.2,282.7M354.9,290.1L358.3,289.1M369.2,298.0L372.5,297.1M383.6,306.9L386.9,306.1M398.3,316.7L401.5,315.8M413.1,326.8L416.3,325.6M428.1,336.4L431.3,334.7M443.4,344.1L446.6,342.0M459.1,349.6L462.2,347.4M191.2,241.4L195.3,251.2L199.4,259.6L203.5,265.8L207.5,270.1L211.5,273.4L215.5,276.6L219.5,279.9L223.6,283.0L227.6,285.3L231.6,286.6L235.7,287.0L239.7,286.7L243.8,286.2L247.9,285.5L252.0,284.9L256.1,284.2L260.3,283.5L264.5,282.6L268.7,281.7L272.9,280.7L277.2,279.7L281.5,278.7L285.8,277.8L290.1,277.0L294.5,276.3L298.9,275.8L303.3,275.5L307.8,275.4L312.2,275.5L316.7,275.8L321.3,276.4L325.8,277.2L330.4,278.2L335.0,279.5L339.6,281.0L344.2,282.7L348.9,284.7L353.6,286.8L358.3,289.1L363.0,291.6L367.7,294.3L372.5,297.1L377.3,300.0L382.1,303.0L386.9,306.1L391.7,309.2L396.6,312.5L401.5,315.8L406.4,319.1L411.3,322.4L416.3,325.6L421.2,328.8L426.2,331.8L431.3,334.7L436.3,337.4L441.4,339.8L446.6,342.0L451.7,344.0L456.9,345.7L462.2,347.4" class="m"/><path d="M196.4,261.6L199.9,260.2M213.8,280.9L219.2,280.2M219.8,280.1L219.2,280.2M241.8,287.7L242.2,286.4M241.6,288.7L241.8,287.7M273.1,282.3L274.7,280.3M396.9,315.8L398.0,313.4" class="y"/><path d="M183.9,240.7L188.1,251.9L192.3,261.6L195.9,260.7L191.8,251.7L187.6,241.2ZM192.3,261.6L193.1,263.1L196.4,261.6L195.9,260.7ZM272.5,283.1L273.7,282.2L273.1,282.3ZM271.4,284.4L274.6,283.6L278.0,281.2L273.7,282.2L272.5,283.1ZM274.6,283.6L278.9,282.6L283.2,281.6L287.6,280.8L292.0,280.2L296.5,279.7L300.9,279.4L305.4,279.3L309.9,279.4L314.4,279.8L319.0,280.4L323.6,281.2L328.2,282.3L332.8,283.6L337.5,285.2L342.2,287.0L346.9,289.0L351.6,291.2L356.3,293.6L361.1,296.2L365.9,298.9L370.7,301.7L375.5,304.7L380.4,307.8L385.2,311.0L390.1,314.3L393.4,313.4L388.5,310.1L383.6,306.9L378.8,303.8L374.0,300.8L369.2,298.0L364.4,295.2L359.7,292.6L354.9,290.1L350.2,287.9L345.5,285.8L340.9,283.9L336.2,282.3L331.6,280.9L327.0,279.7L322.4,278.8L317.9,278.1L313.3,277.6L308.8,277.4L304.3,277.4L299.9,277.6L295.5,278.0L291.1,278.6L286.7,279.3L282.4,280.2L278.0,281.2ZM390.1,314.3L395.0,317.6L396.2,317.3L396.9,315.8L393.4,313.4ZM395.0,317.6L395.8,318.2L396.2,317.3Z" class="rf"/><path d="M193.1,263.1L196.4,269.1L200.0,267.6L196.4,261.6ZM196.4,269.1L200.4,274.5L204.5,278.6L208.5,282.1L212.5,285.4L216.6,288.2L220.6,290.3L224.7,291.6L228.7,292.2L232.8,292.2L236.9,291.8L241.0,291.3L245.1,290.6L249.2,289.8L253.4,288.9L257.6,287.9L261.8,286.9L266.0,285.8L269.5,283.2L265.2,284.3L261.0,285.3L256.8,286.2L252.7,287.0L248.5,287.7L244.4,288.3L240.3,288.9L236.3,289.4L232.2,289.5L228.2,289.0L224.1,287.8L220.1,285.6L216.1,282.7L212.0,279.5L208.0,276.1L204.0,272.4L200.0,267.6ZM266.0,285.8L270.3,284.7L272.5,283.1L273.1,282.3L269.5,283.2ZM270.3,284.7L271.4,284.4L272.5,283.1ZM396.2,317.3L398.3,316.7L396.9,315.8ZM395.8,318.2L400.0,321.1L403.2,320.1L398.3,316.7L396.2,317.3ZM400.0,321.1L404.9,324.6L409.9,328.0L414.9,331.4L419.9,334.8L424.9,338.0L430.0,341.0L435.1,343.8L440.3,346.2L445.5,348.3L450.7,350.1L456.0,351.7L459.1,349.6L453.8,347.9L448.6,346.1L443.4,344.1L438.3,341.8L433.2,339.2L428.1,336.4L423.1,333.3L418.1,330.1L413.1,326.8L408.1,323.5L403.2,320.1Z" class="cf"/><path d="M183.9,240.7L187.6,241.2M196.4,269.1L200.0,267.6M208.5,282.1L212.0,279.5M220.6,290.3L224.1,287.8M232.8,292.2L236.3,289.4M245.1,290.6L248.5,287.7M257.6,287.9L261.0,285.3M270.3,284.7L273.7,282.2M283.2,281.6L286.7,279.3M296.5,279.7L299.9,277.6M309.9,279.4L313.3,277.6M323.6,281.2L327.0,279.7M337.5,285.2L340.9,283.9M351.6,291.2L354.9,290.1M365.9,298.9L369.2,298.0M380.4,307.8L383.6,306.9M395.0,317.6L398.3,316.7M409.9,328.0L413.1,326.8M424.9,338.0L428.1,336.4M440.3,346.2L443.4,344.1M456.0,351.7L459.1,349.6" class="m"/><path d="M193.1,263.1L196.4,261.6M208.1,281.8L209.2,281.6M213.8,280.9L209.2,281.6M241.4,290.9L241.6,288.7M241.3,291.2L241.4,290.9M272.5,283.1L273.1,282.3M271.4,284.4L272.5,283.1M396.2,317.3L396.9,315.8M395.8,318.2L396.2,317.3" class="y"/><path d="M180.2,240.0L184.5,251.7L188.7,262.0L192.3,261.6L188.1,251.9L183.9,240.7ZM188.7,262.0L190.0,264.7L193.1,263.1L192.3,261.6ZM269.6,286.4L271.1,286.0L274.6,283.6L271.4,284.4ZM271.1,286.0L275.4,285.0L279.8,284.0L284.1,283.1L288.6,282.4L293.0,281.8L297.5,281.4L301.9,281.2L306.5,281.3L311.0,281.5L315.6,282.1L320.2,282.8L324.8,283.8L329.4,285.0L334.1,286.5L338.8,288.2L343.5,290.2L348.2,292.3L353.0,294.7L357.8,297.2L362.6,299.8L367.4,302.7L372.2,305.6L377.1,308.7L382.0,311.9L386.9,315.2L391.8,318.6L395.0,317.6L390.1,314.3L385.2,311.0L380.4,307.8L375.5,304.7L370.7,301.7L365.9,298.9L361.1,296.2L356.3,293.6L351.6,291.2L346.9,289.0L342.2,287.0L337.5,285.2L332.8,283.6L328.2,282.3L323.6,281.2L319.0,280.4L314.4,279.8L309.9,279.4L305.4,279.3L300.9,279.4L296.5,279.7L292.0,280.2L287.6,280.8L283.2,281.6L278.9,282.6L274.6,283.6ZM391.8,318.6L394.6,320.6L395.8,318.2L395.0,317.6Z" class="rf"/><path d="M190.0,264.7L192.8,270.1L196.4,269.1L193.1,263.1ZM192.8,270.1L196.9,276.1L200.9,280.7L205.0,284.5L209.0,287.9L213.1,290.8L217.1,293.0L221.2,294.3L225.2,295.0L229.3,295.2L233.4,295.0L237.5,294.4L241.6,293.7L245.7,292.8L249.9,291.8L254.1,290.7L258.3,289.5L262.5,288.4L266.8,287.2L270.3,284.7L266.0,285.8L261.8,286.9L257.6,287.9L253.4,288.9L249.2,289.8L245.1,290.6L241.0,291.3L236.9,291.8L232.8,292.2L228.7,292.2L224.7,291.6L220.6,290.3L216.6,288.2L212.5,285.4L208.5,282.1L204.5,278.6L200.4,274.5L196.4,269.1ZM266.8,287.2L269.6,286.4L271.4,284.4L270.3,284.7ZM394.6,320.6L396.7,322.1L400.0,321.1L395.8,318.2ZM396.7,322.1L401.7,325.6L406.7,329.2L411.7,332.7L416.7,336.2L421.8,339.6L426.8,342.8L432.0,345.7L437.1,348.3L442.3,350.4L447.5,352.2L452.8,353.8L456.0,351.7L450.7,350.1L445.5,348.3L440.3,346.2L435.1,343.8L430.0,341.0L424.9,338.0L419.9,334.8L414.9,331.4L409.9,328.0L404.9,324.6L400.0,321.1Z" class="cf"/><path d="M180.2,240.0L183.9,240.7M192.8,270.1L196.4,269.1M205.0,284.5L208.5,282.1M217.1,293.0L220.6,290.3M229.3,295.2L232.8,292.2M241.6,293.7L245.1,290.6M254.1,290.7L257.6,287.9M266.8,287.2L270.3,284.7M279.8,284.0L283.2,281.6M293.0,281.8L296.5,279.7M306.5,281.3L309.9,279.4M320.2,282.8L323.6,281.2M334.1,286.5L337.5,285.2M348.2,292.3L351.6,291.2M362.6,299.8L365.9,298.9M377.1,308.7L380.4,307.8M391.8,318.6L395.0,317.6M406.7,329.2L409.9,328.0M421.8,339.6L424.9,338.0M437.1,348.3L440.3,346.2M452.8,353.8L456.0,351.7" class="m"/><path d="M190.0,264.7L193.1,263.1M203.3,283.0L208.1,281.8M241.3,293.8L241.3,291.2M269.6,286.4L271.4,284.4M394.6,320.6L395.8,318.2" class="y"/><path d="M176.5,239.0L180.7,251.1L185.0,261.9L188.7,262.0L184.5,251.7L180.2,240.0ZM185.0,261.9L187.1,266.3L190.0,264.7L188.7,262.0ZM267.9,288.3L271.1,286.0L269.6,286.4ZM267.7,288.5L271.9,287.4L275.4,285.0L271.1,286.0L267.9,288.3ZM271.9,287.4L276.3,286.3L280.6,285.4L285.1,284.6L289.5,284.0L294.0,283.5L298.5,283.2L303.0,283.2L307.5,283.4L312.1,283.8L316.7,284.5L321.3,285.4L326.0,286.5L330.7,287.9L335.4,289.6L340.1,291.4L344.8,293.5L349.6,295.8L354.4,298.2L359.2,300.9L364.0,303.6L368.9,306.6L373.8,309.6L378.6,312.8L383.6,316.1L388.5,319.5L391.8,318.6L386.9,315.2L382.0,311.9L377.1,308.7L372.2,305.6L367.4,302.7L362.6,299.8L357.8,297.2L353.0,294.7L348.2,292.3L343.5,290.2L338.8,288.2L334.1,286.5L329.4,285.0L324.8,283.8L320.2,282.8L315.6,282.1L311.0,281.5L306.5,281.3L301.9,281.2L297.5,281.4L293.0,281.8L288.6,282.4L284.1,283.1L279.8,284.0L275.4,285.0ZM388.5,319.5L393.3,323.0L394.6,320.6L391.8,318.6Z" class="rf"/><path d="M187.1,266.3L189.1,270.5L192.8,270.1L190.0,264.7ZM189.1,270.5L193.2,277.1L197.3,282.2L201.4,286.5L205.4,290.3L209.5,293.3L213.6,295.7L217.6,297.3L221.7,298.2L225.8,298.5L229.8,298.3L233.9,297.8L238.1,297.0L242.2,296.0L246.4,294.8L250.6,293.5L254.8,292.2L259.0,291.0L263.3,289.7L266.8,287.2L262.5,288.4L258.3,289.5L254.1,290.7L249.9,291.8L245.7,292.8L241.6,293.7L237.5,294.4L233.4,295.0L229.3,295.2L225.2,295.0L221.2,294.3L217.1,293.0L213.1,290.8L209.0,287.9L205.0,284.5L200.9,280.7L196.9,276.1L192.8,270.1ZM263.3,289.7L267.6,288.5L267.9,288.3L269.6,286.4L266.8,287.2ZM267.6,288.5L267.7,288.5L267.9,288.3ZM393.3,323.0L393.4,323.1L396.7,322.1L394.6,320.6ZM393.4,323.1L398.4,326.7L403.4,330.3L408.4,334.0L413.5,337.6L418.5,341.2L423.6,344.6L428.8,347.7L433.9,350.3L439.1,352.5L444.4,354.4L449.7,355.9L452.8,353.8L447.5,352.2L442.3,350.4L437.1,348.3L432.0,345.7L426.8,342.8L421.8,339.6L416.7,336.2L411.7,332.7L406.7,329.2L401.7,325.6L396.7,322.1Z" class="cf"/><path d="M176.5,239.0L180.2,240.0M189.1,270.5L192.8,270.1M201.4,286.5L205.0,284.5M213.6,295.7L217.1,293.0M225.8,298.5L229.3,295.2M238.1,297.0L241.6,293.7M250.6,293.5L254.1,290.7M263.3,289.7L266.8,287.2M276.3,286.3L279.8,284.0M289.5,284.0L293.0,281.8M303.0,283.2L306.5,281.3M316.7,284.5L320.2,282.8M330.7,287.9L334.1,286.5M344.8,293.5L348.2,292.3M359.2,300.9L362.6,299.8M373.8,309.6L377.1,308.7M388.5,319.5L391.8,318.6M403.4,330.3L406.7,329.2M418.5,341.2L421.8,339.6M433.9,350.3L437.1,348.3M449.7,355.9L452.8,353.8M180.2,240.0L184.5,251.7L188.7,262.0L192.8,270.1L196.9,276.1L200.9,280.7L205.0,284.5L209.0,287.9L213.1,290.8L217.1,293.0L221.2,294.3L225.2,295.0L229.3,295.2L233.4,295.0L237.5,294.4L241.6,293.7L245.7,292.8L249.9,291.8L254.1,290.7L258.3,289.5L262.5,288.4L266.8,287.2L271.1,286.0L275.4,285.0L279.8,284.0L284.1,283.1L288.6,282.4L293.0,281.8L297.5,281.4L301.9,281.2L306.5,281.3L311.0,281.5L315.6,282.1L320.2,282.8L324.8,283.8L329.4,285.0L334.1,286.5L338.8,288.2L343.5,290.2L348.2,292.3L353.0,294.7L357.8,297.2L362.6,299.8L367.4,302.7L372.2,305.6L377.1,308.7L382.0,311.9L386.9,315.2L391.8,318.6L396.7,322.1L401.7,325.6L406.7,329.2L411.7,332.7L416.7,336.2L421.8,339.6L426.8,342.8L432.0,345.7L437.1,348.3L442.3,350.4L447.5,352.2L452.8,353.8" class="m"/><path d="M187.1,266.3L190.0,264.7M199.3,284.4L203.3,283.0M241.3,294.0L241.3,293.8M241.0,296.3L241.3,294.0M267.9,288.3L269.6,286.4M267.7,288.5L267.9,288.3M393.3,323.0L394.6,320.6" class="y"/><path d="M172.7,237.6L177.0,250.0L181.3,261.2L185.0,261.9L180.7,251.1L176.5,239.0ZM181.3,261.2L184.3,268.0L187.1,266.3L185.0,261.9ZM265.8,290.5L268.4,289.8L271.9,287.4L267.7,288.5ZM268.4,289.8L272.7,288.7L277.1,287.7L281.5,286.8L286.0,286.1L290.5,285.6L295.0,285.3L299.5,285.1L304.0,285.3L308.6,285.6L313.2,286.2L317.9,287.0L322.5,288.1L327.2,289.4L331.9,291.0L336.7,292.8L341.4,294.8L346.2,297.0L351.0,299.3L355.8,301.9L360.7,304.6L365.5,307.5L370.4,310.6L375.3,313.7L380.2,317.0L385.2,320.5L388.5,319.5L383.6,316.1L378.6,312.8L373.8,309.6L368.9,306.6L364.0,303.6L359.2,300.9L354.4,298.2L349.6,295.8L344.8,293.5L340.1,291.4L335.4,289.6L330.7,287.9L326.0,286.5L321.3,285.4L316.7,284.5L312.1,283.8L307.5,283.4L303.0,283.2L298.5,283.2L294.0,283.5L289.5,284.0L285.1,284.6L280.6,285.4L276.3,286.3L271.9,287.4ZM385.2,320.5L390.1,324.0L393.2,323.1L393.3,323.0L388.5,319.5ZM390.1,324.0L392.0,325.4L393.2,323.1Z" class="rf"/><path d="M184.3,268.0L185.4,270.4L189.1,270.5L187.1,266.3ZM185.4,270.4L189.6,277.6L193.7,283.3L197.8,288.2L201.8,292.4L205.9,295.9L210.0,298.6L214.1,300.5L218.1,301.6L222.2,302.0L226.3,302.0L230.4,301.4L234.5,300.5L238.7,299.3L242.8,297.9L247.0,296.5L251.2,295.0L255.5,293.6L259.7,292.3L264.0,291.0L267.6,288.5L263.3,289.7L259.0,291.0L254.8,292.2L250.6,293.5L246.4,294.8L242.2,296.0L238.1,297.0L233.9,297.8L229.8,298.3L225.8,298.5L221.7,298.2L217.6,297.3L213.6,295.7L209.5,293.3L205.4,290.3L201.4,286.5L197.3,282.2L193.2,277.1L189.1,270.5ZM264.0,291.0L265.8,290.5L267.7,288.5L267.6,288.5ZM393.2,323.1L393.4,323.1L393.3,323.0ZM392.0,325.4L395.1,327.7L398.4,326.7L393.4,323.1L393.2,323.1ZM395.1,327.7L400.1,331.4L405.2,335.2L410.2,339.0L415.3,342.8L420.4,346.3L425.5,349.6L430.7,352.3L435.9,354.6L441.2,356.5L446.5,358.1L449.7,355.9L444.4,354.4L439.1,352.5L433.9,350.3L428.8,347.7L423.6,344.6L418.5,341.2L413.5,337.6L408.4,334.0L403.4,330.3L398.4,326.7Z" class="cf"/><path d="M172.7,237.6L176.5,239.0M185.4,270.4L189.1,270.5M197.8,288.2L201.4,286.5M210.0,298.6L213.6,295.7M222.2,302.0L225.8,298.5M234.5,300.5L238.1,297.0M247.0,296.5L250.6,293.5M259.7,292.3L263.3,289.7M272.7,288.7L276.3,286.3M286.0,286.1L289.5,284.0M299.5,285.1L303.0,283.2M313.2,286.2L316.7,284.5M327.2,289.4L330.7,287.9M341.4,294.8L344.8,293.5M355.8,301.9L359.2,300.9M370.4,310.6L373.8,309.6M385.2,320.5L388.5,319.5M400.1,331.4L403.4,330.3M415.3,342.8L418.5,341.2M430.7,352.3L433.9,350.3M446.5,358.1L449.7,355.9" class="m"/><path d="M184.3,268.0L187.1,266.3M195.9,285.9L199.3,284.4M240.8,297.3L241.0,296.3M240.3,298.7L240.8,297.3M265.8,290.5L267.7,288.5M393.2,323.1L393.3,323.0M392.0,325.4L393.2,323.1" class="y"/><path d="M168.9,236.1L173.2,248.7L177.5,260.2L181.3,261.2L177.0,250.0L172.7,237.6ZM177.5,260.2L181.6,269.7L184.3,268.0L181.3,261.2ZM263.9,292.6L264.8,292.3L268.4,289.8L265.8,290.5ZM264.8,292.3L269.2,291.1L273.6,290.1L278.0,289.2L282.4,288.4L286.9,287.8L291.4,287.4L296.0,287.2L300.5,287.2L305.1,287.5L309.7,288.0L314.4,288.8L319.1,289.8L323.7,291.0L328.5,292.5L333.2,294.2L338.0,296.1L342.8,298.2L347.6,300.5L352.4,303.0L357.3,305.7L362.1,308.5L367.0,311.5L371.9,314.7L376.9,318.0L381.8,321.5L386.8,325.0L390.1,324.0L385.2,320.5L380.2,317.0L375.3,313.7L370.4,310.6L365.5,307.5L360.7,304.6L355.8,301.9L351.0,299.3L346.2,297.0L341.4,294.8L336.7,292.8L331.9,291.0L327.2,289.4L322.5,288.1L317.9,287.0L313.2,286.2L308.6,285.6L304.0,285.3L299.5,285.1L295.0,285.3L290.5,285.6L286.0,286.1L281.5,286.8L277.1,287.7L272.7,288.7L268.4,289.8ZM386.8,325.0L390.5,327.8L392.0,325.4L390.1,324.0Z" class="rf"/><path d="M181.6,269.7L181.7,269.9L185.4,270.4L184.3,268.0ZM181.7,269.9L185.9,277.7L190.0,284.0L194.1,289.5L198.2,294.3L202.3,298.4L206.4,301.5L210.5,303.8L214.6,305.1L218.7,305.8L222.7,305.7L226.8,305.1L231.0,304.1L235.1,302.7L239.3,301.1L243.5,299.5L247.7,297.9L251.9,296.4L256.2,294.9L260.5,293.6L264.0,291.0L259.7,292.3L255.5,293.6L251.2,295.0L247.0,296.5L242.8,297.9L238.7,299.3L234.5,300.5L230.4,301.4L226.3,302.0L222.2,302.0L218.1,301.6L214.1,300.5L210.0,298.6L205.9,295.9L201.8,292.4L197.8,288.2L193.7,283.3L189.6,277.6L185.4,270.4ZM260.5,293.6L263.9,292.6L265.8,290.5L264.0,291.0ZM390.5,327.8L391.8,328.7L395.1,327.7L392.0,325.4ZM391.8,328.7L396.8,332.5L401.9,336.4L406.9,340.3L412.0,344.2L417.1,348.0L422.3,351.4L427.5,354.3L432.7,356.7L438.0,358.7L443.3,360.3L446.5,358.1L441.2,356.5L435.9,354.6L430.7,352.3L425.5,349.6L420.4,346.3L415.3,342.8L410.2,339.0L405.2,335.2L400.1,331.4L395.1,327.7Z" class="cf"/><path d="M168.9,236.1L172.7,237.6M181.7,269.9L185.4,270.4M194.1,289.5L197.8,288.2M206.4,301.5L210.0,298.6M218.7,305.8L222.2,302.0M231.0,304.1L234.5,300.5M243.5,299.5L247.0,296.5M256.2,294.9L259.7,292.3M269.2,291.1L272.7,288.7M282.4,288.4L286.0,286.1M296.0,287.2L299.5,285.1M309.7,288.0L313.2,286.2M323.7,291.0L327.2,289.4M338.0,296.1L341.4,294.8M352.4,303.0L355.8,301.9M367.0,311.5L370.4,310.6M381.8,321.5L385.2,320.5M396.8,332.5L400.1,331.4M412.0,344.2L415.3,342.8M427.5,354.3L430.7,352.3M443.3,360.3L446.5,358.1" class="m"/><path d="M181.6,269.7L184.3,268.0M192.6,287.6L195.9,285.9M239.4,301.0L240.3,298.7M239.3,301.1L239.4,301.0M263.9,292.6L265.8,290.5M390.5,327.8L392.0,325.4" class="y"/><path d="M165.0,234.2L169.4,247.0L173.7,258.9L177.5,260.2L173.2,248.7L168.9,236.1ZM173.7,258.9L177.9,269.0L181.4,269.8L181.6,269.7L177.5,260.2ZM177.9,269.0L179.2,271.5L181.4,269.8ZM262.9,293.7L264.8,292.3L263.9,292.6ZM262.1,294.7L265.6,293.7L269.2,291.1L264.8,292.3L262.9,293.7ZM265.6,293.7L270.0,292.6L274.4,291.6L278.9,290.7L283.4,290.0L287.9,289.6L292.4,289.3L297.0,289.3L301.6,289.5L306.2,289.9L310.9,290.6L315.5,291.5L320.2,292.7L325.0,294.0L329.7,295.7L334.5,297.5L339.3,299.5L344.1,301.7L349.0,304.2L353.8,306.8L358.7,309.6L363.6,312.6L368.6,315.7L373.5,319.0L378.5,322.5L383.5,326.1L386.8,325.0L381.8,321.5L376.9,318.0L371.9,314.7L367.0,311.5L362.1,308.5L357.3,305.7L352.4,303.0L347.6,300.5L342.8,298.2L338.0,296.1L333.2,294.2L328.5,292.5L323.7,291.0L319.1,289.8L314.4,288.8L309.7,288.0L305.1,287.5L300.5,287.2L296.0,287.2L291.4,287.4L286.9,287.8L282.4,288.4L278.0,289.2L273.6,290.1L269.2,291.1ZM383.5,326.1L388.5,329.8L389.5,329.5L390.5,327.8L386.8,325.0ZM388.5,329.8L389.0,330.2L389.5,329.5Z" class="rf"/><path d="M181.4,269.8L181.7,269.9L181.6,269.7ZM179.2,271.5L182.1,277.4L185.9,277.7L181.7,269.9L181.4,269.8ZM182.1,277.4L186.3,284.4L190.4,290.6L194.6,296.1L198.7,300.8L202.8,304.5L206.9,307.2L211.0,308.8L215.1,309.5L219.2,309.5L223.3,308.9L227.4,307.7L231.5,306.2L235.7,304.5L239.9,302.7L244.1,300.9L248.3,299.3L252.6,297.7L256.9,296.3L260.5,293.6L256.2,294.9L251.9,296.4L247.7,297.9L243.5,299.5L239.3,301.1L235.1,302.7L231.0,304.1L226.8,305.1L222.7,305.7L218.7,305.8L214.6,305.1L210.5,303.8L206.4,301.5L202.3,298.4L198.2,294.3L194.1,289.5L190.0,284.0L185.9,277.7ZM256.9,296.3L261.2,294.9L262.9,293.7L263.9,292.6L260.5,293.6ZM261.2,294.9L262.1,294.7L262.9,293.7ZM389.5,329.5L391.8,328.7L390.5,327.8ZM389.0,330.2L393.5,333.6L396.8,332.5L391.8,328.7L389.5,329.5ZM393.5,333.6L398.6,337.6L403.6,341.6L408.7,345.7L413.8,349.6L419.0,353.2L424.2,356.3L429.4,358.8L434.7,360.8L440.0,362.6L443.3,360.3L438.0,358.7L432.7,356.7L427.5,354.3L422.3,351.4L417.1,348.0L412.0,344.2L406.9,340.3L401.9,336.4L396.8,332.5Z" class="cf"/><path d="M165.0,234.2L168.9,236.1M177.9,269.0L181.7,269.9M190.4,290.6L194.1,289.5M202.8,304.5L206.4,301.5M215.1,309.5L218.7,305.8M227.4,307.7L231.0,304.1M239.9,302.7L243.5,299.5M252.6,297.7L256.2,294.9M265.6,293.7L269.2,291.1M278.9,290.7L282.4,288.4M292.4,289.3L296.0,287.2M306.2,289.9L309.7,288.0M320.2,292.7L323.7,291.0M334.5,297.5L338.0,296.1M349.0,304.2L352.4,303.0M363.6,312.6L367.0,311.5M378.5,322.5L381.8,321.5M393.5,333.6L396.8,332.5M408.7,345.7L412.0,344.2M424.2,356.3L427.5,354.3M440.0,362.6L443.3,360.3M168.9,236.1L173.2,248.7L177.5,260.2L181.7,269.9L185.9,277.7L190.0,284.0L194.1,289.5L198.2,294.3L202.3,298.4L206.4,301.5L210.5,303.8L214.6,305.1L218.7,305.8L222.7,305.7L226.8,305.1L231.0,304.1L235.1,302.7L239.3,301.1L243.5,299.5L247.7,297.9L251.9,296.4L256.2,294.9L260.5,293.6L264.8,292.3L269.2,291.1L273.6,290.1L278.0,289.2L282.4,288.4L286.9,287.8L291.4,287.4L296.0,287.2L300.5,287.2L305.1,287.5L309.7,288.0L314.4,288.8L319.1,289.8L323.7,291.0L328.5,292.5L333.2,294.2L338.0,296.1L342.8,298.2L347.6,300.5L352.4,303.0L357.3,305.7L362.1,308.5L367.0,311.5L371.9,314.7L376.9,318.0L381.8,321.5L386.8,325.0L391.8,328.7L396.8,332.5L401.9,336.4L406.9,340.3L412.0,344.2L417.1,348.0L422.3,351.4L427.5,354.3L432.7,356.7L438.0,358.7L443.3,360.3" class="m"/><path d="M181.4,269.8L181.6,269.7M179.2,271.5L181.4,269.8M189.5,289.3L192.6,287.6M238.1,303.4L239.3,301.1M262.9,293.7L263.9,292.6M262.1,294.7L262.9,293.7M389.5,329.5L390.5,327.8M389.0,330.2L389.5,329.5" class="y"/><path d="M161.1,232.1L165.5,245.1L169.8,257.3L174.1,267.9L177.9,269.0L173.7,258.9L169.4,247.0L165.0,234.2ZM174.1,267.9L176.7,273.3L179.2,271.5L177.9,269.0ZM260.4,296.9L262.0,296.4L265.6,293.7L262.1,294.7ZM262.0,296.4L266.4,295.2L270.8,294.1L275.3,293.2L279.8,292.4L284.3,291.9L288.8,291.5L293.4,291.4L298.0,291.6L302.7,291.9L307.3,292.5L312.0,293.3L316.7,294.4L321.4,295.7L326.2,297.2L331.0,298.9L335.8,300.9L340.6,303.0L345.5,305.4L350.4,307.9L355.3,310.7L360.2,313.6L365.1,316.8L370.1,320.1L375.1,323.5L380.1,327.1L385.1,330.9L388.5,329.8L383.5,326.1L378.5,322.5L373.5,319.0L368.6,315.7L363.6,312.6L358.7,309.6L353.8,306.8L349.0,304.2L344.1,301.7L339.3,299.5L334.5,297.5L329.7,295.7L325.0,294.0L320.2,292.7L315.5,291.5L310.9,290.6L306.2,289.9L301.6,289.5L297.0,289.3L292.4,289.3L287.9,289.6L283.4,290.0L278.9,290.7L274.4,291.6L270.0,292.6L265.6,293.7ZM385.1,330.9L387.4,332.6L389.0,330.2L388.5,329.8Z" class="rf"/><path d="M176.7,273.3L178.3,276.8L182.1,277.4L179.2,271.5ZM178.3,276.8L182.5,284.5L186.7,291.5L190.9,297.8L195.0,303.3L199.2,307.6L203.3,310.6L207.4,312.5L211.5,313.4L215.6,313.3L219.7,312.6L223.8,311.4L227.9,309.8L232.1,307.9L236.3,306.0L240.5,304.2L244.7,302.4L249.0,300.7L253.3,299.2L257.7,297.7L261.2,294.9L256.9,296.3L252.6,297.7L248.3,299.3L244.1,300.9L239.9,302.7L235.7,304.5L231.5,306.2L227.4,307.7L223.3,308.9L219.2,309.5L215.1,309.5L211.0,308.8L206.9,307.2L202.8,304.5L198.7,300.8L194.6,296.1L190.4,290.6L186.3,284.4L182.1,277.4ZM257.7,297.7L260.4,296.9L262.1,294.7L261.2,294.9ZM387.4,332.6L390.2,334.8L393.5,333.6L389.0,330.2ZM390.2,334.8L395.2,338.8L400.3,342.9L405.4,347.1L410.5,351.2L415.7,354.9L420.9,358.1L426.1,360.8L431.4,363.0L436.8,364.9L440.0,362.6L434.7,360.8L429.4,358.8L424.2,356.3L419.0,353.2L413.8,349.6L408.7,345.7L403.6,341.6L398.6,337.6L393.5,333.6Z" class="cf"/><path d="M161.1,232.1L165.0,234.2M174.1,267.9L177.9,269.0M186.7,291.5L190.4,290.6M199.2,307.6L202.8,304.5M211.5,313.4L215.1,309.5M223.8,311.4L227.4,307.7M236.3,306.0L239.9,302.7M249.0,300.7L252.6,297.7M262.0,296.4L265.6,293.7M275.3,293.2L278.9,290.7M288.8,291.5L292.4,289.3M302.7,291.9L306.2,289.9M316.7,294.4L320.2,292.7M331.0,298.9L334.5,297.5M345.5,305.4L349.0,304.2M360.2,313.6L363.6,312.6M375.1,323.5L378.5,322.5M390.2,334.8L393.5,333.6M405.4,347.1L408.7,345.7M420.9,358.1L424.2,356.3M436.8,364.9L440.0,362.6" class="m"/><path d="M176.7,273.3L179.2,271.5M186.4,291.0L189.5,289.3M237.2,305.2L238.1,303.4M236.9,305.8L237.2,305.2M260.4,296.9L262.1,294.7M387.4,332.6L389.0,330.2" class="y"/><path d="M157.2,229.9L161.6,243.1L166.0,255.6L170.3,266.6L174.1,267.9L169.8,257.3L165.5,245.1L161.1,232.1ZM170.3,266.6L174.1,275.2L176.7,273.3L174.1,267.9ZM259.1,298.7L262.0,296.4L260.4,296.9ZM258.8,299.1L262.8,297.9L266.4,295.2L262.0,296.4L259.1,298.7ZM262.8,297.9L267.2,296.7L271.7,295.7L276.2,294.9L280.7,294.3L285.2,293.9L289.8,293.7L294.4,293.7L299.1,294.0L303.7,294.5L308.4,295.2L313.1,296.2L317.9,297.4L322.7,298.8L327.5,300.4L332.3,302.3L337.1,304.3L342.0,306.6L346.9,309.1L351.8,311.8L356.7,314.8L361.7,317.9L366.7,321.1L371.7,324.6L376.7,328.2L381.7,332.0L385.1,330.9L380.1,327.1L375.1,323.5L370.1,320.1L365.1,316.8L360.2,313.6L355.3,310.7L350.4,307.9L345.5,305.4L340.6,303.0L335.8,300.9L331.0,298.9L326.2,297.2L321.4,295.7L316.7,294.4L312.0,293.3L307.3,292.5L302.7,291.9L298.0,291.6L293.4,291.4L288.8,291.5L284.3,291.9L279.8,292.4L275.3,293.2L270.8,294.1L266.4,295.2ZM381.7,332.0L385.7,335.0L387.4,332.6L385.1,330.9Z" class="rf"/><path d="M174.1,275.2L174.5,276.1L178.3,276.8L176.7,273.3ZM174.5,276.1L178.8,284.5L183.0,292.2L187.2,299.4L191.4,305.7L195.5,310.7L199.7,314.1L203.8,316.2L207.9,317.1L212.0,317.1L216.1,316.4L220.2,315.1L224.3,313.4L228.5,311.6L232.7,309.6L236.9,307.6L241.1,305.8L245.4,304.0L249.7,302.3L254.0,300.7L257.7,297.7L253.3,299.2L249.0,300.7L244.7,302.4L240.5,304.2L236.3,306.0L232.1,307.9L227.9,309.8L223.8,311.4L219.7,312.6L215.6,313.3L211.5,313.4L207.4,312.5L203.3,310.6L199.2,307.6L195.0,303.3L190.9,297.8L186.7,291.5L182.5,284.5L178.3,276.8ZM254.0,300.7L258.4,299.2L259.1,298.7L260.4,296.9L257.7,297.7ZM258.4,299.2L258.8,299.1L259.1,298.7ZM385.7,335.0L386.8,335.9L390.2,334.8L387.4,332.6ZM386.8,335.9L391.8,340.0L396.9,344.2L402.1,348.5L407.2,352.6L412.4,356.5L417.6,359.9L422.8,362.7L428.1,365.1L433.5,367.2L436.8,364.9L431.4,363.0L426.1,360.8L420.9,358.1L415.7,354.9L410.5,351.2L405.4,347.1L400.3,342.9L395.2,338.8L390.2,334.8Z" class="cf"/><path d="M157.2,229.9L161.1,232.1M170.3,266.6L174.1,267.9M183.0,292.2L186.7,291.5M195.5,310.7L199.2,307.6M207.9,317.1L211.5,313.4M220.2,315.1L223.8,311.4M232.7,309.6L236.3,306.0M245.4,304.0L249.0,300.7M258.4,299.2L262.0,296.4M271.7,295.7L275.3,293.2M285.2,293.9L288.8,291.5M299.1,294.0L302.7,291.9M313.1,296.2L316.7,294.4M327.5,300.4L331.0,298.9M342.0,306.6L345.5,305.4M356.7,314.8L360.2,313.6M371.7,324.6L375.1,323.5M386.8,335.9L390.2,334.8M402.1,348.5L405.4,347.1M417.6,359.9L420.9,358.1M433.5,367.2L436.8,364.9" class="m"/><path d="M174.1,275.2L176.7,273.3M184.8,291.9L186.4,291.0M183.3,292.7L184.8,291.9M235.7,308.2L236.9,305.8M259.1,298.7L260.4,296.9M258.8,299.1L259.1,298.7M385.7,335.0L387.4,332.6" class="y"/><path d="M153.2,227.4L157.6,241.0L162.0,253.8L166.4,265.3L170.3,266.6L166.0,255.6L161.6,243.1L157.2,229.9ZM166.4,265.3L170.7,275.2L173.2,275.8L174.1,275.2L170.3,266.6ZM170.7,275.2L171.5,277.0L173.2,275.8ZM257.4,301.4L259.2,300.9L262.8,297.9L258.8,299.1ZM259.2,300.9L263.6,299.6L268.0,298.5L272.5,297.6L277.1,296.8L281.6,296.3L286.2,296.0L290.8,296.0L295.5,296.2L300.1,296.6L304.8,297.2L309.6,298.0L314.3,299.1L319.1,300.4L323.9,301.9L328.7,303.7L333.6,305.7L338.5,307.9L343.4,310.4L348.3,313.0L353.2,315.9L358.2,319.0L363.2,322.3L368.2,325.7L373.2,329.4L378.3,333.2L381.7,332.0L376.7,328.2L371.7,324.6L366.7,321.1L361.7,317.9L356.7,314.8L351.8,311.8L346.9,309.1L342.0,306.6L337.1,304.3L332.3,302.3L327.5,300.4L322.7,298.8L317.9,297.4L313.1,296.2L308.4,295.2L303.7,294.5L299.1,294.0L294.4,293.7L289.8,293.7L285.2,293.9L280.7,294.3L276.2,294.9L271.7,295.7L267.2,296.7L262.8,297.9ZM378.3,333.2L383.4,337.1L384.3,336.8L385.7,335.0L381.7,332.0ZM383.4,337.1L383.8,337.4L384.3,336.8Z" class="rf"/><path d="M173.2,275.8L174.5,276.1L174.1,275.2ZM171.5,277.0L174.9,284.3L178.8,284.5L174.5,276.1L173.2,275.8ZM174.9,284.3L179.2,292.9L183.4,300.9L187.7,308.0L191.8,313.7L196.0,317.5L200.1,319.8L204.2,320.7L208.3,320.7L212.4,320.0L216.5,318.7L220.7,317.1L224.8,315.3L229.0,313.3L233.2,311.3L237.5,309.4L241.7,307.5L246.0,305.6L250.4,303.9L254.8,302.3L258.4,299.2L254.0,300.7L249.7,302.3L245.4,304.0L241.1,305.8L236.9,307.6L232.7,309.6L228.5,311.6L224.3,313.4L220.2,315.1L216.1,316.4L212.0,317.1L207.9,317.1L203.8,316.2L199.7,314.1L195.5,310.7L191.4,305.7L187.2,299.4L183.0,292.2L178.8,284.5ZM254.8,302.3L257.4,301.4L258.8,299.1L258.4,299.2ZM384.3,336.8L386.8,335.9L385.7,335.0ZM383.8,337.4L388.4,341.2L391.8,340.0L386.8,335.9L384.3,336.8ZM388.4,341.2L393.6,345.4L398.7,349.8L403.8,354.0L409.0,358.0L414.3,361.5L419.5,364.5L424.8,367.2L430.2,369.6L433.5,367.2L428.1,365.1L422.8,362.7L417.6,359.9L412.4,356.5L407.2,352.6L402.1,348.5L396.9,344.2L391.8,340.0Z" class="cf"/><path d="M153.2,227.4L157.2,229.9M166.4,265.3L170.3,266.6M179.2,292.9L183.0,292.2M191.8,313.7L195.5,310.7M204.2,320.7L207.9,317.1M216.5,318.7L220.2,315.1M229.0,313.3L232.7,309.6M241.7,307.5L245.4,304.0M254.8,302.3L258.4,299.2M268.0,298.5L271.7,295.7M281.6,296.3L285.2,293.9M295.5,296.2L299.1,294.0M309.6,298.0L313.1,296.2M323.9,301.9L327.5,300.4M338.5,307.9L342.0,306.6M353.2,315.9L356.7,314.8M368.2,325.7L371.7,324.6M383.4,337.1L386.8,335.9M398.7,349.8L402.1,348.5M414.3,361.5L417.6,359.9M430.2,369.6L433.5,367.2M157.2,229.9L161.6,243.1L166.0,255.6L170.3,266.6L174.5,276.1L178.8,284.5L183.0,292.2L187.2,299.4L191.4,305.7L195.5,310.7L199.7,314.1L203.8,316.2L207.9,317.1L212.0,317.1L216.1,316.4L220.2,315.1L224.3,313.4L228.5,311.6L232.7,309.6L236.9,307.6L241.1,305.8L245.4,304.0L249.7,302.3L254.0,300.7L258.4,299.2L262.8,297.9L267.2,296.7L271.7,295.7L276.2,294.9L280.7,294.3L285.2,293.9L289.8,293.7L294.4,293.7L299.1,294.0L303.7,294.5L308.4,295.2L313.1,296.2L317.9,297.4L322.7,298.8L327.5,300.4L332.3,302.3L337.1,304.3L342.0,306.6L346.9,309.1L351.8,311.8L356.7,314.8L361.7,317.9L366.7,321.1L371.7,324.6L376.7,328.2L381.7,332.0L386.8,335.9L391.8,340.0L396.9,344.2L402.1,348.5L407.2,352.6L412.4,356.5L417.6,359.9L422.8,362.7L428.1,365.1L433.5,367.2" class="m"/><path d="M173.2,275.8L174.1,275.2M171.5,277.0L173.2,275.8M180.0,294.5L183.3,292.7M235.2,309.3L235.7,308.2M234.7,310.7L235.2,309.3M257.4,301.4L258.8,299.1M384.3,336.8L385.7,335.0M383.8,337.4L384.3,336.8" class="y"/><path d="M149.2,224.7L153.6,238.7L158.1,252.0L162.5,263.9L166.8,274.3L170.7,275.2L166.4,265.3L162.0,253.8L157.6,241.0L153.2,227.4ZM166.8,274.3L168.8,278.8L171.5,277.0L170.7,275.2ZM256.3,303.3L259.2,300.9L257.4,301.4ZM256.0,303.8L259.9,302.6L263.6,299.6L259.2,300.9L256.3,303.3ZM259.9,302.6L264.4,301.4L268.9,300.3L273.4,299.5L278.0,298.9L282.6,298.5L287.2,298.4L291.8,298.4L296.5,298.7L301.2,299.2L305.9,300.0L310.7,300.9L315.5,302.1L320.3,303.6L325.1,305.2L330.0,307.1L334.9,309.3L339.8,311.7L344.7,314.3L349.7,317.2L354.7,320.2L359.7,323.5L364.7,327.0L369.8,330.6L374.8,334.4L379.9,338.3L383.4,337.1L378.3,333.2L373.2,329.4L368.2,325.7L363.2,322.3L358.2,319.0L353.2,315.9L348.3,313.0L343.4,310.4L338.5,307.9L333.6,305.7L328.7,303.7L323.9,301.9L319.1,300.4L314.3,299.1L309.6,298.0L304.8,297.2L300.1,296.6L295.5,296.2L290.8,296.0L286.2,296.0L281.6,296.3L277.1,296.8L272.5,297.6L268.0,298.5L263.6,299.6ZM379.9,338.3L381.8,339.8L383.8,337.4L383.4,337.1Z" class="rf"/><path d="M168.8,278.8L171.1,284.0L174.9,284.3L171.5,277.0ZM171.1,284.0L175.4,293.3L179.7,302.2L183.9,310.1L188.1,316.4L192.3,320.7L196.4,323.1L200.5,324.1L204.6,324.1L208.7,323.4L212.9,322.3L217.0,320.8L221.2,319.1L225.4,317.2L229.6,315.2L233.8,313.2L238.1,311.2L242.4,309.2L246.7,307.3L251.1,305.6L254.8,302.3L250.4,303.9L246.0,305.6L241.7,307.5L237.5,309.4L233.2,311.3L229.0,313.3L224.8,315.3L220.7,317.1L216.5,318.7L212.4,320.0L208.3,320.7L204.2,320.7L200.1,319.8L196.0,317.5L191.8,313.7L187.7,308.0L183.4,300.9L179.2,292.9L174.9,284.3ZM251.1,305.6L255.5,304.0L256.3,303.3L257.4,301.4L254.8,302.3ZM255.5,304.0L256.0,303.8L256.3,303.3ZM381.8,339.8L385.0,342.4L388.4,341.2L383.8,337.4ZM385.0,342.4L390.1,346.7L395.3,351.0L400.5,355.3L405.7,359.4L410.9,363.0L416.2,366.3L421.5,369.3L426.8,372.0L430.2,369.6L424.8,367.2L419.5,364.5L414.3,361.5L409.0,358.0L403.8,354.0L398.7,349.8L393.6,345.4L388.4,341.2Z" class="cf"/><path d="M149.2,224.7L153.2,227.4M162.5,263.9L166.4,265.3M175.4,293.3L179.2,292.9M188.1,316.4L191.8,313.7M200.5,324.1L204.2,320.7M212.9,322.3L216.5,318.7M225.4,317.2L229.0,313.3M238.1,311.2L241.7,307.5M251.1,305.6L254.8,302.3M264.4,301.4L268.0,298.5M278.0,298.9L281.6,296.3M291.8,298.4L295.5,296.2M305.9,300.0L309.6,298.0M320.3,303.6L323.9,301.9M334.9,309.3L338.5,307.9M349.7,317.2L353.2,315.9M364.7,327.0L368.2,325.7M379.9,338.3L383.4,337.1M395.3,351.0L398.7,349.8M410.9,363.0L414.3,361.5M426.8,372.0L430.2,369.6" class="m"/><path d="M168.8,278.8L171.5,277.0M176.8,296.2L180.0,294.5M233.8,313.2L234.7,310.7M256.3,303.3L257.4,301.4M256.0,303.8L256.3,303.3M381.8,339.8L383.8,337.4" class="y"/><path d="M145.1,221.8L149.6,236.4L154.1,250.1L158.5,262.4L162.9,273.3L166.8,274.3L162.5,263.9L158.1,252.0L153.6,238.7L149.2,224.7ZM162.9,273.3L166.0,280.6L168.8,278.8L166.8,274.3ZM254.7,306.2L256.2,305.7L259.9,302.6L256.0,303.8ZM256.2,305.7L260.7,304.4L265.2,303.2L269.7,302.3L274.3,301.6L278.9,301.1L283.5,300.8L288.2,300.8L292.8,300.9L297.6,301.3L302.3,302.0L307.1,302.8L311.9,303.9L316.7,305.3L321.5,306.8L326.4,308.7L331.3,310.8L336.2,313.1L341.2,315.7L346.2,318.5L351.1,321.6L356.2,324.8L361.2,328.3L366.3,331.9L371.3,335.7L376.4,339.6L379.9,338.3L374.8,334.4L369.8,330.6L364.7,327.0L359.7,323.5L354.7,320.2L349.7,317.2L344.7,314.3L339.8,311.7L334.9,309.3L330.0,307.1L325.1,305.2L320.3,303.6L315.5,302.1L310.7,300.9L305.9,300.0L301.2,299.2L296.5,298.7L291.8,298.4L287.2,298.4L282.6,298.5L278.0,298.9L273.4,299.5L268.9,300.3L264.4,301.4L259.9,302.6ZM376.4,339.6L379.7,342.2L381.8,339.8L379.9,338.3Z" class="rf"/><path d="M166.0,280.6L167.2,283.5L171.1,284.0L168.8,278.8ZM167.2,283.5L171.5,293.5L175.9,303.2L180.1,311.9L184.4,318.7L188.6,323.4L192.7,326.0L196.8,327.1L200.9,327.2L205.0,326.6L209.2,325.7L213.3,324.4L217.5,322.9L221.7,321.1L225.9,319.1L230.1,317.1L234.4,315.0L238.7,312.9L243.0,310.9L247.4,309.0L251.8,307.2L255.5,304.0L251.1,305.6L246.7,307.3L242.4,309.2L238.1,311.2L233.8,313.2L229.6,315.2L225.4,317.2L221.2,319.1L217.0,320.8L212.9,322.3L208.7,323.4L204.6,324.1L200.5,324.1L196.4,323.1L192.3,320.7L188.1,316.4L183.9,310.1L179.7,302.2L175.4,293.3L171.1,284.0ZM251.8,307.2L254.7,306.2L256.0,303.8L255.5,304.0ZM379.7,342.2L381.6,343.7L385.0,342.4L381.8,339.8ZM381.6,343.7L386.7,348.0L391.9,352.3L397.0,356.6L402.3,360.7L407.5,364.5L412.8,368.0L418.1,371.3L423.4,374.3L426.8,372.0L421.5,369.3L416.2,366.3L410.9,363.0L405.7,359.4L400.5,355.3L395.3,351.0L390.1,346.7L385.0,342.4Z" class="cf"/><path d="M145.1,221.8L149.2,224.7M158.5,262.4L162.5,263.9M171.5,293.5L175.4,293.3M184.4,318.7L188.1,316.4M196.8,327.1L200.5,324.1M209.2,325.7L212.9,322.3M221.7,321.1L225.4,317.2M234.4,315.0L238.1,311.2M247.4,309.0L251.1,305.6M260.7,304.4L264.4,301.4M274.3,301.6L278.0,298.9M288.2,300.8L291.8,298.4M302.3,302.0L305.9,300.0M316.7,305.3L320.3,303.6M331.3,310.8L334.9,309.3M346.2,318.5L349.7,317.2M361.2,328.3L364.7,327.0M376.4,339.6L379.9,338.3M391.9,352.3L395.3,351.0M407.5,364.5L410.9,363.0M423.4,374.3L426.8,372.0" class="m"/><path d="M166.0,280.6L168.8,278.8M173.5,298.0L176.8,296.2M233.8,313.2L233.8,313.2M232.8,315.7L233.8,313.2M254.7,306.2L256.0,303.8M379.7,342.2L381.8,339.8" class="y"/><path d="M141.0,218.7L145.5,233.8L150.1,248.1L154.5,260.8L158.9,272.3L162.9,273.3L158.5,262.4L154.1,250.1L149.6,236.4L145.1,221.8ZM158.9,272.3L163.1,282.5L166.0,280.6L162.9,273.3ZM253.9,307.8L256.2,305.7L254.7,306.2ZM253.4,308.7L257.0,307.5L260.7,304.4L256.2,305.7L253.9,307.8ZM257.0,307.5L261.5,306.2L266.0,305.2L270.6,304.4L275.2,303.8L279.8,303.4L284.5,303.2L289.2,303.3L293.9,303.6L298.6,304.1L303.4,304.8L308.2,305.8L313.0,307.1L317.9,308.6L322.8,310.3L327.7,312.3L332.6,314.6L337.6,317.2L342.6,320.0L347.6,323.0L352.6,326.2L357.7,329.6L362.7,333.2L367.8,337.0L372.9,341.0L376.4,339.6L371.3,335.7L366.3,331.9L361.2,328.3L356.2,324.8L351.1,321.6L346.2,318.5L341.2,315.7L336.2,313.1L331.3,310.8L326.4,308.7L321.5,306.8L316.7,305.3L311.9,303.9L307.1,302.8L302.3,302.0L297.6,301.3L292.8,300.9L288.2,300.8L283.5,300.8L278.9,301.1L274.3,301.6L269.7,302.3L265.2,303.2L260.7,304.4ZM372.9,341.0L377.5,344.6L379.7,342.2L376.4,339.6Z" class="rf"/><path d="M163.1,282.5L163.3,283.0L167.2,283.5L166.0,280.6ZM163.3,283.0L167.6,293.5L172.0,303.8L176.3,313.0L180.6,320.3L184.8,325.4L188.9,328.3L193.1,329.6L197.2,330.0L201.3,329.7L205.4,329.0L209.6,327.9L213.8,326.6L218.0,324.9L222.2,323.0L226.4,321.0L230.7,318.8L235.0,316.6L239.3,314.5L243.7,312.5L248.1,310.6L251.8,307.2L247.4,309.0L243.0,310.9L238.7,312.9L234.4,315.0L230.1,317.1L225.9,319.1L221.7,321.1L217.5,322.9L213.3,324.4L209.2,325.7L205.0,326.6L200.9,327.2L196.8,327.1L192.7,326.0L188.6,323.4L184.4,318.7L180.1,311.9L175.9,303.2L171.5,293.5L167.2,283.5ZM248.1,310.6L252.5,309.0L253.9,307.8L254.7,306.2L251.8,307.2ZM252.5,309.0L253.4,308.7L253.9,307.8ZM377.5,344.6L378.1,345.1L381.6,343.7L379.7,342.2ZM378.1,345.1L383.2,349.3L388.4,353.6L393.6,357.9L398.8,362.0L404.1,366.0L409.4,369.7L414.7,373.2L420.0,376.5L423.4,374.3L418.1,371.3L412.8,368.0L407.5,364.5L402.3,360.7L397.0,356.6L391.9,352.3L386.7,348.0L381.6,343.7Z" class="cf"/><path d="M141.0,218.7L145.1,221.8M154.5,260.8L158.5,262.4M167.6,293.5L171.5,293.5M180.6,320.3L184.4,318.7M193.1,329.6L196.8,327.1M205.4,329.0L209.2,325.7M218.0,324.9L221.7,321.1M230.7,318.8L234.4,315.0M243.7,312.5L247.4,309.0M257.0,307.5L260.7,304.4M270.6,304.4L274.3,301.6M284.5,303.2L288.2,300.8M298.6,304.1L302.3,302.0M313.0,307.1L316.7,305.3M327.7,312.3L331.3,310.8M342.6,320.0L346.2,318.5M357.7,329.6L361.2,328.3M372.9,341.0L376.4,339.6M388.4,353.6L391.9,352.3M404.1,366.0L407.5,364.5M420.0,376.5L423.4,374.3M145.1,221.8L149.6,236.4L154.1,250.1L158.5,262.4L162.9,273.3L167.2,283.5L171.5,293.5L175.9,303.2L180.1,311.9L184.4,318.7L188.6,323.4L192.7,326.0L196.8,327.1L200.9,327.2L205.0,326.6L209.2,325.7L213.3,324.4L217.5,322.9L221.7,321.1L225.9,319.1L230.1,317.1L234.4,315.0L238.7,312.9L243.0,310.9L247.4,309.0L251.8,307.2L256.2,305.7L260.7,304.4L265.2,303.2L269.7,302.3L274.3,301.6L278.9,301.1L283.5,300.8L288.2,300.8L292.8,300.9L297.6,301.3L302.3,302.0L307.1,302.8L311.9,303.9L316.7,305.3L321.5,306.8L326.4,308.7L331.3,310.8L336.2,313.1L341.2,315.7L346.2,318.5L351.1,321.6L356.2,324.8L361.2,328.3L366.3,331.9L371.3,335.7L376.4,339.6L381.6,343.7L386.7,348.0L391.9,352.3L397.0,356.6L402.3,360.7L407.5,364.5L412.8,368.0L418.1,371.3L423.4,374.3" class="m"/><path d="M163.1,282.5L166.0,280.6M170.3,299.8L173.5,298.0M232.2,317.3L232.8,315.7M231.7,318.3L232.2,317.3M253.9,307.8L254.7,306.2M253.4,308.7L253.9,307.8M377.5,344.6L379.7,342.2" class="y"/><path d="M136.8,215.3L141.4,231.1L146.0,245.9L150.5,259.2L154.9,271.1L158.9,272.3L154.5,260.8L150.1,248.1L145.5,233.8L141.0,218.7ZM154.9,271.1L159.3,282.2L162.5,282.8L163.1,282.5L158.9,272.3ZM159.3,282.2L160.1,284.3L162.5,282.8ZM252.1,311.1L253.3,310.7L257.0,307.5L253.4,308.7ZM253.3,310.7L257.8,309.3L262.3,308.2L266.9,307.2L271.5,306.5L276.1,306.0L280.8,305.7L285.4,305.7L290.2,305.9L294.9,306.3L299.7,307.0L304.5,307.9L309.4,309.0L314.2,310.4L319.1,312.1L324.0,314.1L329.0,316.3L334.0,318.8L339.0,321.5L344.0,324.5L349.0,327.7L354.1,331.1L359.2,334.7L364.3,338.5L369.4,342.4L372.9,341.0L367.8,337.0L362.7,333.2L357.7,329.6L352.6,326.2L347.6,323.0L342.6,320.0L337.6,317.2L332.6,314.6L327.7,312.3L322.8,310.3L317.9,308.6L313.0,307.1L308.2,305.8L303.4,304.8L298.6,304.1L293.9,303.6L289.2,303.3L284.5,303.2L279.8,303.4L275.2,303.8L270.6,304.4L266.0,305.2L261.5,306.2L257.0,307.5ZM369.4,342.4L374.5,346.5L376.6,345.6L377.5,344.6L372.9,341.0ZM374.5,346.5L375.3,347.1L376.6,345.6Z" class="rf"/><path d="M162.5,282.8L163.3,283.0L163.1,282.5ZM160.1,284.3L163.7,293.2L167.6,293.5L163.3,283.0L162.5,282.8ZM163.7,293.2L168.1,303.8L172.4,313.3L176.7,321.0L181.0,326.4L185.1,329.8L189.3,331.6L193.4,332.4L197.5,332.4L201.7,332.1L205.8,331.3L210.0,330.1L214.2,328.6L218.4,326.8L222.7,324.7L227.0,322.6L231.3,320.3L235.6,318.1L240.0,316.0L244.4,314.1L248.8,312.3L252.5,309.0L248.1,310.6L243.7,312.5L239.3,314.5L235.0,316.6L230.7,318.8L226.4,321.0L222.2,323.0L218.0,324.9L213.8,326.6L209.6,327.9L205.4,329.0L201.3,329.7L197.2,330.0L193.1,329.6L188.9,328.3L184.8,325.4L180.6,320.3L176.3,313.0L172.0,303.8L167.6,293.5ZM248.8,312.3L252.1,311.1L253.4,308.7L252.5,309.0ZM376.6,345.6L378.1,345.1L377.5,344.6ZM375.3,347.1L379.7,350.6L383.2,349.3L378.1,345.1L376.6,345.6ZM379.7,350.6L384.9,354.9L390.1,359.2L395.4,363.3L400.6,367.4L405.9,371.2L411.3,374.9L416.6,378.5L420.0,376.5L414.7,373.2L409.4,369.7L404.1,366.0L398.8,362.0L393.6,357.9L388.4,353.6L383.2,349.3Z" class="cf"/><path d="M136.8,215.3L141.0,218.7M150.5,259.2L154.5,260.8M163.7,293.2L167.6,293.5M176.7,321.0L180.6,320.3M189.3,331.6L193.1,329.6M201.7,332.1L205.4,329.0M214.2,328.6L218.0,324.9M227.0,322.6L230.7,318.8M240.0,316.0L243.7,312.5M253.3,310.7L257.0,307.5M266.9,307.2L270.6,304.4M280.8,305.7L284.5,303.2M294.9,306.3L298.6,304.1M309.4,309.0L313.0,307.1M324.0,314.1L327.7,312.3M339.0,321.5L342.6,320.0M354.1,331.1L357.7,329.6M369.4,342.4L372.9,341.0M384.9,354.9L388.4,353.6M400.6,367.4L404.1,366.0M416.6,378.5L420.0,376.5" class="m"/><path d="M162.5,282.8L163.1,282.5M160.1,284.3L162.5,282.8M167.2,301.6L170.3,299.8M230.4,320.8L231.7,318.3M252.1,311.1L253.4,308.7M376.6,345.6L377.5,344.6M375.3,347.1L376.6,345.6" class="y"/><path d="M132.6,211.6L137.3,228.0L141.9,243.5L146.4,257.4L150.9,269.8L155.3,281.3L159.3,282.2L154.9,271.1L150.5,259.2L146.0,245.9L141.4,231.1L136.8,215.3ZM155.3,281.3L157.2,286.2L160.1,284.3L159.3,282.2ZM251.4,312.3L253.3,310.7L252.1,311.1ZM250.8,313.6L254.0,312.5L257.8,309.3L253.3,310.7L251.4,312.3ZM254.0,312.5L258.5,311.2L263.1,310.2L267.7,309.3L272.3,308.7L277.0,308.4L281.7,308.2L286.4,308.3L291.2,308.7L296.0,309.3L300.8,310.1L305.7,311.1L310.5,312.4L315.4,314.0L320.4,315.9L325.3,318.1L330.3,320.5L335.3,323.2L340.3,326.1L345.4,329.3L350.5,332.7L355.6,336.2L360.7,340.0L365.8,343.9L371.0,347.9L374.5,346.5L369.4,342.4L364.3,338.5L359.2,334.7L354.1,331.1L349.0,327.7L344.0,324.5L339.0,321.5L334.0,318.8L329.0,316.3L324.0,314.1L319.1,312.1L314.2,310.4L309.4,309.0L304.5,307.9L299.7,307.0L294.9,306.3L290.2,305.9L285.4,305.7L280.8,305.7L276.1,306.0L271.5,306.5L266.9,307.2L262.3,308.2L257.8,309.3ZM371.0,347.9L373.0,349.5L375.3,347.1L374.5,346.5Z" class="rf"/><path d="M157.2,286.2L159.7,292.5L163.7,293.2L160.1,284.3ZM159.7,292.5L164.1,303.1L168.5,312.8L172.8,320.7L177.1,326.6L181.3,330.5L185.4,333.0L189.6,334.4L193.7,334.9L197.9,334.9L202.1,334.4L206.3,333.4L210.5,332.0L214.7,330.3L218.9,328.3L223.2,326.2L227.5,324.0L231.8,321.8L236.2,319.6L240.6,317.6L245.0,315.7L248.8,312.3L244.4,314.1L240.0,316.0L235.6,318.1L231.3,320.3L227.0,322.6L222.7,324.7L218.4,326.8L214.2,328.6L210.0,330.1L205.8,331.3L201.7,332.1L197.5,332.4L193.4,332.4L189.3,331.6L185.1,329.8L181.0,326.4L176.7,321.0L172.4,313.3L168.1,303.8L163.7,293.2ZM245.0,315.7L249.5,314.0L251.4,312.3L252.1,311.1L248.8,312.3ZM249.5,314.0L250.8,313.6L251.4,312.3ZM373.0,349.5L376.2,352.0L379.7,350.6L375.3,347.1ZM376.2,352.0L381.4,356.3L386.6,360.5L391.9,364.7L397.2,368.8L402.5,372.8L407.8,376.6L413.2,380.4L416.6,378.5L411.3,374.9L405.9,371.2L400.6,367.4L395.4,363.3L390.1,359.2L384.9,354.9L379.7,350.6Z" class="cf"/><path d="M132.6,211.6L136.8,215.3M146.4,257.4L150.5,259.2M159.7,292.5L163.7,293.2M172.8,320.7L176.7,321.0M185.4,333.0L189.3,331.6M197.9,334.9L201.7,332.1M210.5,332.0L214.2,328.6M223.2,326.2L227.0,322.6M236.2,319.6L240.0,316.0M249.5,314.0L253.3,310.7M263.1,310.2L266.9,307.2M277.0,308.4L280.8,305.7M291.2,308.7L294.9,306.3M305.7,311.1L309.4,309.0M320.4,315.9L324.0,314.1M335.3,323.2L339.0,321.5M350.5,332.7L354.1,331.1M365.8,343.9L369.4,342.4M381.4,356.3L384.9,354.9M397.2,368.8L400.6,367.4M413.2,380.4L416.6,378.5" class="m"/><path d="M157.2,286.2L160.1,284.3M164.8,303.2L167.2,301.6M164.3,303.6L164.8,303.2M229.8,321.7L230.4,320.8M228.9,323.3L229.8,321.7M251.4,312.3L252.1,311.1M250.8,313.6L251.4,312.3M373.0,349.5L375.3,347.1" class="y"/><path d="M128.3,207.3L133.0,224.5L137.7,240.8L142.3,255.4L146.8,268.4L151.3,280.3L155.3,281.3L150.9,269.8L146.4,257.4L141.9,243.5L137.3,228.0L132.6,211.6ZM151.3,280.3L154.3,288.0L157.2,286.2L155.3,281.3ZM249.3,316.1L250.2,315.8L254.0,312.5L250.8,313.6ZM250.2,315.8L254.8,314.4L259.3,313.2L263.9,312.2L268.6,311.5L273.2,311.1L277.9,310.9L282.7,310.9L287.4,311.2L292.2,311.7L297.1,312.4L301.9,313.4L306.8,314.6L311.7,316.1L316.7,317.9L321.6,320.0L326.6,322.4L331.6,325.0L336.7,327.9L341.8,331.0L346.8,334.3L352.0,337.8L357.1,341.5L362.2,345.4L367.4,349.4L371.0,347.9L365.8,343.9L360.7,340.0L355.6,336.2L350.5,332.7L345.4,329.3L340.3,326.1L335.3,323.2L330.3,320.5L325.3,318.1L320.4,315.9L315.4,314.0L310.5,312.4L305.7,311.1L300.8,310.1L296.0,309.3L291.2,308.7L286.4,308.3L281.7,308.2L277.0,308.4L272.3,308.7L267.7,309.3L263.1,310.2L258.5,311.2L254.0,312.5ZM367.4,349.4L370.6,351.9L373.0,349.5L371.0,347.9Z" class="rf"/><path d="M154.3,288.0L155.7,291.6L159.7,292.5L157.2,286.2ZM155.7,291.6L160.1,302.2L164.5,311.7L168.8,319.8L173.1,326.1L177.3,330.7L181.5,333.9L185.7,336.0L189.9,337.2L194.1,337.6L198.3,337.3L202.5,336.5L206.7,335.2L210.9,333.6L215.1,331.8L219.4,329.7L223.7,327.6L228.0,325.4L232.4,323.2L236.8,321.1L241.2,319.2L245.7,317.4L249.5,314.0L245.0,315.7L240.6,317.6L236.2,319.6L231.8,321.8L227.5,324.0L223.2,326.2L218.9,328.3L214.7,330.3L210.5,332.0L206.3,333.4L202.1,334.4L197.9,334.9L193.7,334.9L189.6,334.4L185.4,333.0L181.3,330.5L177.1,326.6L172.8,320.7L168.5,312.8L164.1,303.1L159.7,292.5ZM245.7,317.4L249.3,316.1L250.8,313.6L249.5,314.0ZM370.6,351.9L372.6,353.5L376.2,352.0L373.0,349.5ZM372.6,353.5L377.8,357.7L383.1,361.9L388.4,366.2L393.7,370.3L399.0,374.3L404.3,378.3L409.7,382.2L413.2,380.4L407.8,376.6L402.5,372.8L397.2,368.8L391.9,364.7L386.6,360.5L381.4,356.3L376.2,352.0Z" class="cf"/><path d="M128.3,207.3L132.6,211.6M142.3,255.4L146.4,257.4M155.7,291.6L159.7,292.5M168.8,319.8L172.8,320.7M181.5,333.9L185.4,333.0M194.1,337.6L197.9,334.9M206.7,335.2L210.5,332.0M219.4,329.7L223.2,326.2M232.4,323.2L236.2,319.6M245.7,317.4L249.5,314.0M259.3,313.2L263.1,310.2M273.2,311.1L277.0,308.4M287.4,311.2L291.2,308.7M301.9,313.4L305.7,311.1M316.7,317.9L320.4,315.9M331.6,325.0L335.3,323.2M346.8,334.3L350.5,332.7M362.2,345.4L365.8,343.9M377.8,357.7L381.4,356.3M393.7,370.3L397.2,368.8M409.7,382.2L413.2,380.4M132.6,211.6L137.3,228.0L141.9,243.5L146.4,257.4L150.9,269.8L155.3,281.3L159.7,292.5L164.1,303.1L168.5,312.8L172.8,320.7L177.1,326.6L181.3,330.5L185.4,333.0L189.6,334.4L193.7,334.9L197.9,334.9L202.1,334.4L206.3,333.4L210.5,332.0L214.7,330.3L218.9,328.3L223.2,326.2L227.5,324.0L231.8,321.8L236.2,319.6L240.6,317.6L245.0,315.7L249.5,314.0L254.0,312.5L258.5,311.2L263.1,310.2L267.7,309.3L272.3,308.7L277.0,308.4L281.7,308.2L286.4,308.3L291.2,308.7L296.0,309.3L300.8,310.1L305.7,311.1L310.5,312.4L315.4,314.0L320.4,315.9L325.3,318.1L330.3,320.5L335.3,323.2L340.3,326.1L345.4,329.3L350.5,332.7L355.6,336.2L360.7,340.0L365.8,343.9L371.0,347.9L376.2,352.0L381.4,356.3L386.6,360.5L391.9,364.7L397.2,368.8L402.5,372.8L407.8,376.6L413.2,380.4" class="m"/><path d="M154.3,288.0L157.2,286.2M161.7,305.6L164.3,303.6M227.3,325.8L228.9,323.3M249.3,316.1L250.8,313.6M370.6,351.9L373.0,349.5" class="y"/><path d="M124.0,202.1L128.7,220.4L133.5,237.7L138.1,253.2L142.7,266.9L147.2,279.2L151.3,280.3L146.8,268.4L142.3,255.4L137.7,240.8L133.0,224.5L128.3,207.3ZM147.2,279.2L151.4,289.9L154.3,288.0L151.3,280.3ZM248.8,317.0L250.2,315.8L249.3,316.1ZM247.9,318.6L250.9,317.6L254.8,314.4L250.2,315.8L248.8,317.0ZM250.9,317.6L255.5,316.3L260.1,315.3L264.8,314.5L269.4,313.9L274.2,313.6L278.9,313.6L283.7,313.8L288.5,314.2L293.3,314.8L298.2,315.7L303.1,316.9L308.0,318.3L312.9,320.0L317.9,322.0L322.9,324.3L327.9,326.9L333.0,329.7L338.1,332.8L343.2,336.0L348.3,339.5L353.4,343.1L358.6,347.0L363.8,350.9L367.4,349.4L362.2,345.4L357.1,341.5L352.0,337.8L346.8,334.3L341.8,331.0L336.7,327.9L331.6,325.0L326.6,322.4L321.6,320.0L316.7,317.9L311.7,316.1L306.8,314.6L301.9,313.4L297.1,312.4L292.2,311.7L287.4,311.2L282.7,310.9L277.9,310.9L273.2,311.1L268.6,311.5L263.9,312.2L259.3,313.2L254.8,314.4ZM363.8,350.9L368.3,354.4L370.6,351.9L367.4,349.4Z" class="rf"/><path d="M151.4,289.9L151.6,290.6L155.7,291.6L154.3,288.0ZM151.6,290.6L156.1,301.1L160.5,310.5L164.8,318.7L169.1,325.4L173.4,330.6L177.6,334.6L181.8,337.4L186.0,339.2L190.2,340.0L194.4,340.0L198.6,339.4L202.8,338.2L207.1,336.8L211.3,335.1L215.6,333.2L219.9,331.1L224.2,329.0L228.6,326.9L233.0,324.8L237.4,322.8L241.9,320.9L245.7,317.4L241.2,319.2L236.8,321.1L232.4,323.2L228.0,325.4L223.7,327.6L219.4,329.7L215.1,331.8L210.9,333.6L206.7,335.2L202.5,336.5L198.3,337.3L194.1,337.6L189.9,337.2L185.7,336.0L181.5,333.9L177.3,330.7L173.1,326.1L168.8,319.8L164.5,311.7L160.1,302.2L155.7,291.6ZM241.9,320.9L246.4,319.1L248.8,317.0L249.3,316.1L245.7,317.4ZM246.4,319.1L247.9,318.6L248.8,317.0ZM368.3,354.4L369.0,355.0L372.6,353.5L370.6,351.9ZM369.0,355.0L374.3,359.2L379.5,363.4L384.8,367.6L390.1,371.8L395.5,375.9L400.8,380.0L406.2,384.1L409.7,382.2L404.3,378.3L399.0,374.3L393.7,370.3L388.4,366.2L383.1,361.9L377.8,357.7L372.6,353.5Z" class="cf"/><path d="M124.0,202.1L128.3,207.3M138.1,253.2L142.3,255.4M151.6,290.6L155.7,291.6M164.8,318.7L168.8,319.8M177.6,334.6L181.5,333.9M190.2,340.0L194.1,337.6M202.8,338.2L206.7,335.2M215.6,333.2L219.4,329.7M228.6,326.9L232.4,323.2M241.9,320.9L245.7,317.4M255.5,316.3L259.3,313.2M269.4,313.9L273.2,311.1M283.7,313.8L287.4,311.2M298.2,315.7L301.9,313.4M312.9,320.0L316.7,317.9M327.9,326.9L331.6,325.0M343.2,336.0L346.8,334.3M358.6,347.0L362.2,345.4M374.3,359.2L377.8,357.7M390.1,371.8L393.7,370.3M406.2,384.1L409.7,382.2" class="m"/><path d="M151.4,289.9L154.3,288.0M159.2,307.7L161.7,305.6M226.8,326.6L227.3,325.8M225.7,328.3L226.8,326.6M248.8,317.0L249.3,316.1M247.9,318.6L248.8,317.0M368.3,354.4L370.6,351.9" class="y"/><path d="M119.5,195.9L124.4,215.5L129.2,234.1L133.9,250.7L138.5,265.2L143.1,278.0L147.2,279.2L142.7,266.9L138.1,253.2L133.5,237.7L128.7,220.4L124.0,202.1ZM143.1,278.0L147.6,289.6L150.8,290.4L151.4,289.9L147.2,279.2ZM147.6,289.6L148.5,291.9L150.8,290.4ZM246.5,321.2L247.1,321.0L250.9,317.6L247.9,318.6ZM247.1,321.0L251.7,319.6L256.3,318.4L260.9,317.5L265.6,316.9L270.3,316.5L275.1,316.4L279.9,316.5L284.7,316.8L289.5,317.4L294.4,318.2L299.3,319.2L304.2,320.6L309.2,322.2L314.2,324.2L319.2,326.4L324.2,328.9L329.3,331.7L334.4,334.6L339.5,337.8L344.6,341.2L349.8,344.8L355.0,348.6L360.2,352.5L363.8,350.9L358.6,347.0L353.4,343.1L348.3,339.5L343.2,336.0L338.1,332.8L333.0,329.7L327.9,326.9L322.9,324.3L317.9,322.0L312.9,320.0L308.0,318.3L303.1,316.9L298.2,315.7L293.3,314.8L288.5,314.2L283.7,313.8L278.9,313.6L274.2,313.6L269.4,313.9L264.8,314.5L260.1,315.3L255.5,316.3L250.9,317.6ZM360.2,352.5L365.4,356.5L366.8,355.9L368.3,354.4L363.8,350.9ZM365.4,356.5L365.9,356.9L366.8,355.9Z" class="rf"/><path d="M150.8,290.4L151.6,290.6L151.4,289.9ZM148.5,291.9L152.0,300.1L156.1,301.1L151.6,290.6L150.8,290.4ZM152.0,300.1L156.4,309.5L160.8,317.8L165.1,324.8L169.4,330.6L173.7,335.3L177.9,338.7L182.1,340.9L186.3,342.1L190.5,342.5L194.7,342.1L199.0,341.2L203.2,339.9L207.5,338.4L211.8,336.6L216.1,334.7L220.4,332.6L224.8,330.5L229.2,328.4L233.6,326.4L238.1,324.4L242.6,322.6L246.4,319.1L241.9,320.9L237.4,322.8L233.0,324.8L228.6,326.9L224.2,329.0L219.9,331.1L215.6,333.2L211.3,335.1L207.1,336.8L202.8,338.2L198.6,339.4L194.4,340.0L190.2,340.0L186.0,339.2L181.8,337.4L177.6,334.6L173.4,330.6L169.1,325.4L164.8,318.7L160.5,310.5L156.1,301.1ZM242.6,322.6L246.5,321.2L247.9,318.6L246.4,319.1ZM366.8,355.9L369.0,355.0L368.3,354.4ZM365.9,356.9L370.6,360.7L374.3,359.2L369.0,355.0L366.8,355.9ZM370.6,360.7L375.9,364.9L381.2,369.2L386.5,373.4L391.9,377.7L397.3,381.9L402.7,386.2L406.2,384.1L400.8,380.0L395.5,375.9L390.1,371.8L384.8,367.6L379.5,363.4L374.3,359.2Z" class="cf"/><path d="M119.5,195.9L124.0,202.1M133.9,250.7L138.1,253.2M147.6,289.6L151.6,290.6M160.8,317.8L164.8,318.7M173.7,335.3L177.6,334.6M186.3,342.1L190.2,340.0M199.0,341.2L202.8,338.2M211.8,336.6L215.6,333.2M224.8,330.5L228.6,326.9M238.1,324.4L241.9,320.9M251.7,319.6L255.5,316.3M265.6,316.9L269.4,313.9M279.9,316.5L283.7,313.8M294.4,318.2L298.2,315.7M309.2,322.2L312.9,320.0M324.2,328.9L327.9,326.9M339.5,337.8L343.2,336.0M355.0,348.6L358.6,347.0M370.6,360.7L374.3,359.2M386.5,373.4L390.1,371.8M402.7,386.2L406.2,384.1" class="m"/><path d="M150.8,290.4L151.4,289.9M148.5,291.9L150.8,290.4M156.8,309.6L159.2,307.7M156.6,309.8L156.8,309.6M224.1,330.8L225.7,328.3M246.5,321.2L247.9,318.6M366.8,355.9L368.3,354.4M365.9,356.9L366.8,355.9" class="y"/><path d="M114.9,188.3L119.9,209.6L124.8,229.8L129.6,247.8L134.3,263.3L138.9,276.8L143.4,288.8L147.6,289.6L143.1,278.0L138.5,265.2L133.9,250.7L129.2,234.1L124.4,215.5L119.5,195.9ZM143.4,288.8L145.5,293.8L148.5,291.9L147.6,289.6ZM246.2,321.8L247.1,321.0L246.5,321.2ZM245.2,323.8L247.8,323.0L251.7,319.6L247.1,321.0L246.2,321.8ZM247.8,323.0L252.4,321.7L257.1,320.7L261.8,320.0L266.5,319.5L271.2,319.3L276.0,319.3L280.8,319.5L285.7,320.0L290.6,320.7L295.5,321.7L300.4,323.0L305.4,324.6L310.4,326.4L315.4,328.6L320.4,331.0L325.5,333.7L330.6,336.6L335.7,339.7L340.9,343.0L346.1,346.5L351.3,350.2L356.5,354.1L361.7,358.1L365.4,356.5L360.2,352.5L355.0,348.6L349.8,344.8L344.6,341.2L339.5,337.8L334.4,334.6L329.3,331.7L324.2,328.9L319.2,326.4L314.2,324.2L309.2,322.2L304.2,320.6L299.3,319.2L294.4,318.2L289.5,317.4L284.7,316.8L279.9,316.5L275.1,316.4L270.3,316.5L265.6,316.9L260.9,317.5L256.3,318.4L251.7,319.6ZM361.7,358.1L363.4,359.4L365.9,356.9L365.4,356.5Z" class="rf"/><path d="M145.5,293.8L147.9,299.5L152.0,300.1L148.5,291.9ZM147.9,299.5L152.3,309.0L156.7,317.4L161.1,324.7L165.4,330.9L169.7,336.0L173.9,339.9L178.2,342.5L182.4,344.1L186.6,344.7L190.9,344.6L195.1,344.0L199.3,343.0L203.6,341.6L207.9,340.0L212.2,338.2L216.5,336.2L220.9,334.2L225.3,332.1L229.7,330.0L234.2,328.1L238.7,326.2L242.6,322.6L238.1,324.4L233.6,326.4L229.2,328.4L224.8,330.5L220.4,332.6L216.1,334.7L211.8,336.6L207.5,338.4L203.2,339.9L199.0,341.2L194.7,342.1L190.5,342.5L186.3,342.1L182.1,340.9L177.9,338.7L173.7,335.3L169.4,330.6L165.1,324.8L160.8,317.8L156.4,309.5L152.0,300.1ZM238.7,326.2L243.3,324.5L246.2,321.8L246.5,321.2L242.6,322.6ZM243.3,324.5L245.2,323.8L246.2,321.8ZM363.4,359.4L367.0,362.2L370.6,360.7L365.9,356.9ZM367.0,362.2L372.3,366.5L377.6,370.8L382.9,375.2L388.3,379.6L393.7,384.1L399.1,388.6L402.7,386.2L397.3,381.9L391.9,377.7L386.5,373.4L381.2,369.2L375.9,364.9L370.6,360.7Z" class="cf"/><path d="M114.9,188.3L119.5,195.9M129.6,247.8L133.9,250.7M143.4,288.8L147.6,289.6M156.7,317.4L160.8,317.8M169.7,336.0L173.7,335.3M182.4,344.1L186.3,342.1M195.1,344.0L199.0,341.2M207.9,340.0L211.8,336.6M220.9,334.2L224.8,330.5M234.2,328.1L238.1,324.4M247.8,323.0L251.7,319.6M261.8,320.0L265.6,316.9M276.0,319.3L279.9,316.5M290.6,320.7L294.4,318.2M305.4,324.6L309.2,322.2M320.4,331.0L324.2,328.9M335.7,339.7L339.5,337.8M351.3,350.2L355.0,348.6M367.0,362.2L370.6,360.7M382.9,375.2L386.5,373.4M399.1,388.6L402.7,386.2M119.5,195.9L124.4,215.5L129.2,234.1L133.9,250.7L138.5,265.2L143.1,278.0L147.6,289.6L152.0,300.1L156.4,309.5L160.8,317.8L165.1,324.8L169.4,330.6L173.7,335.3L177.9,338.7L182.1,340.9L186.3,342.1L190.5,342.5L194.7,342.1L199.0,341.2L203.2,339.9L207.5,338.4L211.8,336.6L216.1,334.7L220.4,332.6L224.8,330.5L229.2,328.4L233.6,326.4L238.1,324.4L242.6,322.6L247.1,321.0L251.7,319.6L256.3,318.4L260.9,317.5L265.6,316.9L270.3,316.5L275.1,316.4L279.9,316.5L284.7,316.8L289.5,317.4L294.4,318.2L299.3,319.2L304.2,320.6L309.2,322.2L314.2,324.2L319.2,326.4L324.2,328.9L329.3,331.7L334.4,334.6L339.5,337.8L344.6,341.2L349.8,344.8L355.0,348.6L360.2,352.5L365.4,356.5L370.6,360.7L375.9,364.9L381.2,369.2L386.5,373.4L391.9,377.7L397.3,381.9L402.7,386.2" class="m"/><path d="M145.5,293.8L148.5,291.9M153.8,311.9L156.6,309.8M223.7,331.6L224.1,330.8M222.6,333.4L223.7,331.6M246.2,321.8L246.5,321.2M245.2,323.8L246.2,321.8M363.4,359.4L365.9,356.9" class="y"/><path d="M110.3,179.8L115.4,203.0L120.4,224.9L125.3,244.3L130.1,260.9L134.7,275.2L139.3,287.8L143.4,288.8L138.9,276.8L134.3,263.3L129.6,247.8L124.8,229.8L119.9,209.6L114.9,188.3ZM139.3,287.8L142.5,295.8L145.5,293.8L143.4,288.8ZM243.9,326.5L243.9,326.5L247.8,323.0L245.2,323.8ZM243.9,326.5L248.6,325.1L253.2,324.1L257.9,323.2L262.6,322.6L267.4,322.3L272.1,322.2L277.0,322.3L281.8,322.7L286.7,323.3L291.6,324.3L296.6,325.5L301.5,327.0L306.5,328.8L311.6,330.8L316.6,333.2L321.7,335.8L326.8,338.7L332.0,341.7L337.1,344.9L342.3,348.3L347.5,351.9L352.8,355.7L358.0,359.7L361.7,358.1L356.5,354.1L351.3,350.2L346.1,346.5L340.9,343.0L335.7,339.7L330.6,336.6L325.5,333.7L320.4,331.0L315.4,328.6L310.4,326.4L305.4,324.6L300.4,323.0L295.5,321.7L290.6,320.7L285.7,320.0L280.8,319.5L276.0,319.3L271.2,319.3L266.5,319.5L261.8,320.0L257.1,320.7L252.4,321.7L247.8,323.0ZM358.0,359.7L360.9,361.9L363.4,359.4L361.7,358.1Z" class="rf"/><path d="M142.5,295.8L143.8,298.9L147.9,299.5L145.5,293.8ZM143.8,298.9L148.2,308.8L152.6,317.4L157.0,325.0L161.4,331.5L165.7,336.8L170.0,341.0L174.2,344.0L178.5,345.9L182.7,346.9L186.9,347.1L191.2,346.7L195.4,345.9L199.7,344.8L204.0,343.4L208.3,341.7L212.6,339.8L217.0,337.9L221.4,335.8L225.9,333.8L230.3,331.8L234.8,329.8L239.4,328.1L243.3,324.5L238.7,326.2L234.2,328.1L229.7,330.0L225.3,332.1L220.9,334.2L216.5,336.2L212.2,338.2L207.9,340.0L203.6,341.6L199.3,343.0L195.1,344.0L190.9,344.6L186.6,344.7L182.4,344.1L178.2,342.5L173.9,339.9L169.7,336.0L165.4,330.9L161.1,324.7L156.7,317.4L152.3,309.0L147.9,299.5ZM239.4,328.1L243.9,326.5L245.2,323.8L243.3,324.5ZM360.9,361.9L363.3,363.8L367.0,362.2L363.4,359.4ZM363.3,363.8L368.6,368.1L374.0,372.5L379.3,377.0L384.7,381.7L390.1,386.4L395.5,391.1L399.1,388.6L393.7,384.1L388.3,379.6L382.9,375.2L377.6,370.8L372.3,366.5L367.0,362.2Z" class="cf"/><path d="M110.3,179.8L114.9,188.3M125.3,244.3L129.6,247.8M139.3,287.8L143.4,288.8M152.6,317.4L156.7,317.4M165.7,336.8L169.7,336.0M178.5,345.9L182.4,344.1M191.2,346.7L195.1,344.0M204.0,343.4L207.9,340.0M217.0,337.9L220.9,334.2M230.3,331.8L234.2,328.1M243.9,326.5L247.8,323.0M257.9,323.2L261.8,320.0M272.1,322.2L276.0,319.3M286.7,323.3L290.6,320.7M301.5,327.0L305.4,324.6M316.6,333.2L320.4,331.0M332.0,341.7L335.7,339.7M347.5,351.9L351.3,350.2M363.3,363.8L367.0,362.2M379.3,377.0L382.9,375.2M395.5,391.1L399.1,388.6" class="m"/><path d="M142.5,295.8L145.5,293.8M150.9,314.0L153.8,311.9M221.0,336.0L222.6,333.4M243.9,326.5L245.2,323.8M360.9,361.9L363.4,359.4" class="y"/><path d="M105.5,171.0L110.8,195.9L115.9,219.4L120.9,240.2L125.7,257.9L130.4,273.2L135.1,286.5L139.3,287.8L134.7,275.2L130.1,260.9L125.3,244.3L120.4,224.9L115.4,203.0L110.3,179.8ZM135.1,286.5L139.4,297.7L142.5,295.8L139.3,287.8ZM243.9,326.5L243.9,326.5L243.9,326.5ZM242.8,329.2L244.7,328.7L248.6,325.1L243.9,326.5L243.9,326.5ZM244.7,328.7L249.3,327.5L254.0,326.5L258.7,325.8L263.5,325.4L268.3,325.2L273.1,325.2L277.9,325.5L282.8,326.0L287.7,326.9L292.7,328.0L297.7,329.4L302.7,331.2L307.7,333.2L312.8,335.5L317.9,338.0L323.0,340.8L328.2,343.8L333.4,346.9L338.6,350.2L343.8,353.7L349.0,357.5L354.3,361.3L358.0,359.7L352.8,355.7L347.5,351.9L342.3,348.3L337.1,344.9L332.0,341.7L326.8,338.7L321.7,335.8L316.6,333.2L311.6,330.8L306.5,328.8L301.5,327.0L296.6,325.5L291.6,324.3L286.7,323.3L281.8,322.7L277.0,322.3L272.1,322.2L267.4,322.3L262.6,322.6L257.9,323.2L253.2,324.1L248.6,325.1ZM354.3,361.3L358.3,364.4L360.9,361.9L358.0,359.7Z" class="rf"/><path d="M139.4,297.7L139.6,298.2L143.8,298.9L142.5,295.8ZM139.6,298.2L144.1,308.4L148.5,317.4L152.9,325.3L157.3,332.0L161.6,337.7L165.9,342.1L170.2,345.4L174.5,347.6L178.7,348.9L183.0,349.4L187.2,349.3L191.5,348.8L195.8,347.9L200.1,346.7L204.4,345.2L208.7,343.4L213.1,341.6L217.5,339.6L221.9,337.6L226.4,335.5L230.9,333.6L235.5,331.8L239.4,328.1L234.8,329.8L230.3,331.8L225.9,333.8L221.4,335.8L217.0,337.9L212.6,339.8L208.3,341.7L204.0,343.4L199.7,344.8L195.4,345.9L191.2,346.7L186.9,347.1L182.7,346.9L178.5,345.9L174.2,344.0L170.0,341.0L165.7,336.8L161.4,331.5L157.0,325.0L152.6,317.4L148.2,308.8L143.8,298.9ZM235.5,331.8L240.0,330.1L243.9,326.5L243.9,326.5L239.4,328.1ZM240.0,330.1L242.8,329.2L243.9,326.5ZM358.3,364.4L359.6,365.4L363.3,363.8L360.9,361.9ZM359.6,365.4L364.9,369.7L370.3,374.2L375.6,378.9L381.0,383.7L386.4,388.6L391.9,393.5L395.5,391.1L390.1,386.4L384.7,381.7L379.3,377.0L374.0,372.5L368.6,368.1L363.3,363.8Z" class="cf"/><path d="M105.5,171.0L110.3,179.8M120.9,240.2L125.3,244.3M135.1,286.5L139.3,287.8M148.5,317.4L152.6,317.4M161.6,337.7L165.7,336.8M174.5,347.6L178.5,345.9M187.2,349.3L191.2,346.7M200.1,346.7L204.0,343.4M213.1,341.6L217.0,337.9M226.4,335.5L230.3,331.8M240.0,330.1L243.9,326.5M254.0,326.5L257.9,323.2M268.3,325.2L272.1,322.2M282.8,326.0L286.7,323.3M297.7,329.4L301.5,327.0M312.8,335.5L316.6,333.2M328.2,343.8L332.0,341.7M343.8,353.7L347.5,351.9M359.6,365.4L363.3,363.8M375.6,378.9L379.3,377.0M391.9,393.5L395.5,391.1" class="m"/><path d="M139.4,297.7L142.5,295.8M147.8,316.0L150.9,314.0M220.7,336.5L221.0,336.0M219.5,338.7L220.7,336.5M243.9,326.5L243.9,326.5M242.8,329.2L243.9,326.5M358.3,364.4L360.9,361.9" class="y"/><path d="M100.8,162.4L106.1,188.6L111.3,213.3L116.4,235.2L121.3,254.0L126.1,270.3L130.8,284.4L135.1,286.5L130.4,273.2L125.7,257.9L120.9,240.2L115.9,219.4L110.8,195.9L105.5,171.0ZM130.8,284.4L135.4,296.8L139.0,298.0L139.4,297.7L135.1,286.5ZM135.4,296.8L136.6,299.8L139.0,298.0ZM242.0,331.1L244.7,328.7L242.8,329.2ZM241.7,332.0L245.4,331.0L249.3,327.5L244.7,328.7L242.0,331.1ZM245.4,331.0L250.1,329.9L254.8,329.1L259.5,328.6L264.3,328.2L269.2,328.1L274.0,328.3L278.9,328.8L283.8,329.5L288.8,330.6L293.8,331.9L298.8,333.6L303.9,335.6L309.0,337.8L314.1,340.3L319.2,343.0L324.4,345.9L329.5,349.0L334.8,352.3L340.0,355.7L345.3,359.3L350.6,363.2L354.3,361.3L349.0,357.5L343.8,353.7L338.6,350.2L333.4,346.9L328.2,343.8L323.0,340.8L317.9,338.0L312.8,335.5L307.7,333.2L302.7,331.2L297.7,329.4L292.7,328.0L287.7,326.9L282.8,326.0L277.9,325.5L273.1,325.2L268.3,325.2L263.5,325.4L258.7,325.8L254.0,326.5L249.3,327.5ZM350.6,363.2L355.4,366.9L358.3,364.4L354.3,361.3Z" class="rf"/><path d="M139.0,298.0L139.6,298.2L139.4,297.7ZM136.6,299.8L139.9,307.7L144.1,308.4L139.6,298.2L139.0,298.0ZM139.9,307.7L144.4,317.2L148.8,325.5L153.2,332.5L157.5,338.4L161.9,343.2L166.2,346.7L170.4,349.2L174.7,350.8L179.0,351.6L183.2,351.8L187.5,351.6L191.8,350.9L196.1,349.9L200.4,348.6L204.8,347.0L209.2,345.3L213.6,343.4L218.0,341.4L222.5,339.4L227.0,337.4L231.5,335.5L236.1,333.8L240.0,330.1L235.5,331.8L230.9,333.6L226.4,335.5L221.9,337.6L217.5,339.6L213.1,341.6L208.7,343.4L204.4,345.2L200.1,346.7L195.8,347.9L191.5,348.8L187.2,349.3L183.0,349.4L178.7,348.9L174.5,347.6L170.2,345.4L165.9,342.1L161.6,337.7L157.3,332.0L152.9,325.3L148.5,317.4L144.1,308.4ZM236.1,333.8L240.7,332.3L242.0,331.1L242.8,329.2L240.0,330.1ZM240.7,332.3L241.7,332.0L242.0,331.1ZM355.4,366.9L355.9,367.2L359.6,365.4L358.3,364.4ZM355.9,367.2L361.2,371.5L366.6,376.0L371.9,380.7L377.3,385.6L382.8,390.6L388.2,395.7L391.9,393.5L386.4,388.6L381.0,383.7L375.6,378.9L370.3,374.2L364.9,369.7L359.6,365.4Z" class="cf"/><path d="M100.8,162.4L105.5,171.0M116.4,235.2L120.9,240.2M130.8,284.4L135.1,286.5M144.4,317.2L148.5,317.4M157.5,338.4L161.6,337.7M170.4,349.2L174.5,347.6M183.2,351.8L187.2,349.3M196.1,349.9L200.1,346.7M209.2,345.3L213.1,341.6M222.5,339.4L226.4,335.5M236.1,333.8L240.0,330.1M250.1,329.9L254.0,326.5M264.3,328.2L268.3,325.2M278.9,328.8L282.8,326.0M293.8,331.9L297.7,329.4M309.0,337.8L312.8,335.5M324.4,345.9L328.2,343.8M340.0,355.7L343.8,353.7M355.9,367.2L359.6,365.4M371.9,380.7L375.6,378.9M388.2,395.7L391.9,393.5M105.5,171.0L110.8,195.9L115.9,219.4L120.9,240.2L125.7,257.9L130.4,273.2L135.1,286.5L139.6,298.2L144.1,308.4L148.5,317.4L152.9,325.3L157.3,332.0L161.6,337.7L165.9,342.1L170.2,345.4L174.5,347.6L178.7,348.9L183.0,349.4L187.2,349.3L191.5,348.8L195.8,347.9L200.1,346.7L204.4,345.2L208.7,343.4L213.1,341.6L217.5,339.6L221.9,337.6L226.4,335.5L230.9,333.6L235.5,331.8L240.0,330.1L244.7,328.7L249.3,327.5L254.0,326.5L258.7,325.8L263.5,325.4L268.3,325.2L273.1,325.2L277.9,325.5L282.8,326.0L287.7,326.9L292.7,328.0L297.7,329.4L302.7,331.2L307.7,333.2L312.8,335.5L317.9,338.0L323.0,340.8L328.2,343.8L333.4,346.9L338.6,350.2L343.8,353.7L349.0,357.5L354.3,361.3L359.6,365.4L364.9,369.7L370.3,374.2L375.6,378.9L381.0,383.7L386.4,388.6L391.9,393.5" class="m"/><path d="M139.0,298.0L139.4,297.7M136.6,299.8L139.0,298.0M145.9,317.3L147.8,316.0M144.9,318.1L145.9,317.3M218.0,341.4L219.5,338.7M242.0,331.1L242.8,329.2M241.7,332.0L242.0,331.1M355.4,366.9L358.3,364.4" class="y"/><path d="M95.9,154.0L101.4,181.0L106.7,206.5L111.8,229.4L116.8,249.2L121.7,266.5L126.4,281.6L131.1,294.9L135.4,296.8L130.8,284.4L126.1,270.3L121.3,254.0L116.4,235.2L111.3,213.3L106.1,188.6L100.8,162.4ZM131.1,294.9L133.9,301.9L136.6,299.8L135.4,296.8ZM240.5,334.8L241.4,334.5L245.4,331.0L241.7,332.0ZM241.4,334.5L246.1,333.4L250.8,332.5L255.6,331.8L260.4,331.4L265.2,331.2L270.1,331.3L275.0,331.6L279.9,332.3L284.9,333.2L289.9,334.5L294.9,336.1L300.0,338.0L305.1,340.3L310.2,342.7L315.3,345.4L320.5,348.2L325.7,351.2L330.9,354.4L336.2,357.8L341.5,361.3L346.8,365.1L350.6,363.2L345.3,359.3L340.0,355.7L334.8,352.3L329.5,349.0L324.4,345.9L319.2,343.0L314.1,340.3L309.0,337.8L303.9,335.6L298.8,333.6L293.8,331.9L288.8,330.6L283.8,329.5L278.9,328.8L274.0,328.3L269.2,328.1L264.3,328.2L259.5,328.6L254.8,329.1L250.1,329.9L245.4,331.0ZM346.8,365.1L352.1,369.1L353.5,368.4L355.4,366.9L350.6,363.2ZM352.1,369.1L352.3,369.3L353.5,368.4Z" class="rf"/><path d="M133.9,301.9L135.7,306.4L139.9,307.7L136.6,299.8ZM135.7,306.4L140.2,316.5L144.6,325.3L149.0,332.9L153.4,339.2L157.8,344.2L162.1,348.0L166.4,350.8L170.7,352.6L174.9,353.7L179.2,354.2L183.5,354.2L187.8,353.8L192.1,353.0L196.4,351.9L200.8,350.6L205.2,349.0L209.6,347.2L214.0,345.2L218.5,343.2L223.0,341.2L227.6,339.3L232.1,337.5L236.8,335.9L240.7,332.3L236.1,333.8L231.5,335.5L227.0,337.4L222.5,339.4L218.0,341.4L213.6,343.4L209.2,345.3L204.8,347.0L200.4,348.6L196.1,349.9L191.8,350.9L187.5,351.6L183.2,351.8L179.0,351.6L174.7,350.8L170.4,349.2L166.2,346.7L161.9,343.2L157.5,338.4L153.2,332.5L148.8,325.5L144.4,317.2L139.9,307.7ZM236.8,335.9L240.5,334.8L241.7,332.0L240.7,332.3ZM353.5,368.4L355.9,367.2L355.4,366.9ZM352.3,369.3L357.4,373.4L361.2,371.5L355.9,367.2L353.5,368.4ZM357.4,373.4L362.8,377.9L368.2,382.6L373.6,387.5L379.1,392.5L384.5,397.5L388.2,395.7L382.8,390.6L377.3,385.6L371.9,380.7L366.6,376.0L361.2,371.5Z" class="cf"/><path d="M95.9,154.0L100.8,162.4M111.8,229.4L116.4,235.2M126.4,281.6L130.8,284.4M140.2,316.5L144.4,317.2M153.4,339.2L157.5,338.4M166.4,350.8L170.4,349.2M179.2,354.2L183.2,351.8M192.1,353.0L196.1,349.9M205.2,349.0L209.2,345.3M218.5,343.2L222.5,339.4M232.1,337.5L236.1,333.8M246.1,333.4L250.1,329.9M260.4,331.4L264.3,328.2M275.0,331.6L278.9,328.8M289.9,334.5L293.8,331.9M305.1,340.3L309.0,337.8M320.5,348.2L324.4,345.9M336.2,357.8L340.0,355.7M352.1,369.1L355.9,367.2M368.2,382.6L371.9,380.7M384.5,397.5L388.2,395.7" class="m"/><path d="M133.9,301.9L136.6,299.8M142.1,320.3L144.9,318.1M217.9,341.5L218.0,341.4M216.5,344.1L217.9,341.5M240.5,334.8L241.7,332.0M353.5,368.4L355.4,366.9M352.3,369.3L353.5,368.4" class="y"/><path d="M91.0,144.9L96.5,173.0L101.9,199.4L107.2,223.1L112.2,243.9L117.2,262.1L122.0,278.2L126.7,292.3L131.1,294.9L126.4,281.6L121.7,266.5L116.8,249.2L111.8,229.4L106.7,206.5L101.4,181.0L95.9,154.0ZM126.7,292.3L131.1,304.0L133.9,301.9L131.1,294.9ZM240.0,335.8L241.4,334.5L240.5,334.8ZM239.2,337.6L242.1,336.9L246.1,333.4L241.4,334.5L240.0,335.8ZM242.1,336.9L246.8,335.9L251.6,335.1L256.4,334.6L261.2,334.3L266.1,334.2L271.0,334.5L275.9,335.0L280.9,335.9L285.9,337.1L291.0,338.7L296.0,340.5L301.1,342.7L306.3,345.1L311.4,347.8L316.6,350.6L321.8,353.6L327.1,356.7L332.3,360.1L337.6,363.6L342.9,367.3L348.3,371.2L352.1,369.1L346.8,365.1L341.5,361.3L336.2,357.8L330.9,354.4L325.7,351.2L320.5,348.2L315.3,345.4L310.2,342.7L305.1,340.3L300.0,338.0L294.9,336.1L289.9,334.5L284.9,333.2L279.9,332.3L275.0,331.6L270.1,331.3L265.2,331.2L260.4,331.4L255.6,331.8L250.8,332.5L246.1,333.4ZM348.3,371.2L349.0,371.7L352.3,369.3L352.1,369.1Z" class="rf"/><path d="M131.1,304.0L131.3,304.7L135.7,306.4L133.9,301.9ZM131.3,304.7L135.9,315.6L140.4,325.0L144.9,333.0L149.3,339.8L153.6,345.2L158.0,349.3L162.3,352.3L166.6,354.4L170.9,355.7L175.1,356.4L179.4,356.6L183.8,356.5L188.1,356.0L192.4,355.2L196.8,354.1L201.2,352.7L205.6,351.0L210.1,349.1L214.5,347.1L219.0,345.1L223.6,343.1L228.1,341.2L232.8,339.6L236.8,335.9L232.1,337.5L227.6,339.3L223.0,341.2L218.5,343.2L214.0,345.2L209.6,347.2L205.2,349.0L200.8,350.6L196.4,351.9L192.1,353.0L187.8,353.8L183.5,354.2L179.2,354.2L174.9,353.7L170.7,352.6L166.4,350.8L162.1,348.0L157.8,344.2L153.4,339.2L149.0,332.9L144.6,325.3L140.2,316.5L135.7,306.4ZM232.8,339.6L237.4,338.1L240.0,335.8L240.5,334.8L236.8,335.9ZM237.4,338.1L239.2,337.6L240.0,335.8ZM349.0,371.7L353.6,375.3L357.4,373.4L352.3,369.3ZM353.6,375.3L359.0,379.8L364.4,384.4L369.9,389.3L375.3,394.3L380.8,399.3L384.5,397.5L379.1,392.5L373.6,387.5L368.2,382.6L362.8,377.9L357.4,373.4Z" class="cf"/><path d="M91.0,144.9L95.9,154.0M107.2,223.1L111.8,229.4M122.0,278.2L126.4,281.6M135.9,315.6L140.2,316.5M149.3,339.8L153.4,339.2M162.3,352.3L166.4,350.8M175.1,356.4L179.2,354.2M188.1,356.0L192.1,353.0M201.2,352.7L205.2,349.0M214.5,347.1L218.5,343.2M228.1,341.2L232.1,337.5M242.1,336.9L246.1,333.4M256.4,334.6L260.4,331.4M271.0,334.5L275.0,331.6M285.9,337.1L289.9,334.5M301.1,342.7L305.1,340.3M316.6,350.6L320.5,348.2M332.3,360.1L336.2,357.8M348.3,371.2L352.1,369.1M364.4,384.4L368.2,382.6M380.8,399.3L384.5,397.5" class="m"/><path d="M131.1,304.0L133.9,301.9M139.2,322.5L142.1,320.3M215.2,346.4L216.5,344.1M215.0,346.9L215.2,346.4M240.0,335.8L240.5,334.8M239.2,337.6L240.0,335.8M349.0,371.7L352.3,369.3" class="y"/><path d="M86.0,134.5L91.6,164.3L97.2,191.9L102.5,216.6L107.6,238.3L112.6,257.4L117.5,274.3L122.3,289.4L126.7,292.3L122.0,278.2L117.2,262.1L112.2,243.9L107.2,223.1L101.9,199.4L96.5,173.0L91.0,144.9ZM122.3,289.4L127.0,302.7L130.6,304.4L131.1,304.0L126.7,292.3ZM127.0,302.7L128.4,306.2L130.6,304.4ZM237.8,340.4L238.1,340.4L242.1,336.9L239.2,337.6ZM238.1,340.4L242.8,339.3L247.6,338.4L252.4,337.8L257.2,337.4L262.1,337.3L267.0,337.4L272.0,337.8L276.9,338.6L281.9,339.7L287.0,341.2L292.1,343.1L297.2,345.2L302.3,347.6L307.5,350.3L312.7,353.1L317.9,356.1L323.2,359.2L328.4,362.5L333.7,366.0L339.1,369.6L344.4,373.4L348.3,371.2L342.9,367.3L337.6,363.6L332.3,360.1L327.1,356.7L321.8,353.6L316.6,350.6L311.4,347.8L306.3,345.1L301.1,342.7L296.0,340.5L291.0,338.7L285.9,337.1L280.9,335.9L275.9,335.0L271.0,334.5L266.1,334.2L261.2,334.3L256.4,334.6L251.6,335.1L246.8,335.9L242.1,336.9ZM344.4,373.4L345.4,374.1L349.0,371.7L348.3,371.2Z" class="rf"/><path d="M130.6,304.4L131.3,304.7L131.1,304.0ZM128.4,306.2L131.6,314.3L135.9,315.6L131.3,304.7L130.6,304.4ZM131.6,314.3L136.2,324.4L140.6,333.1L145.1,340.3L149.5,346.1L153.8,350.5L158.2,353.8L162.5,356.0L166.8,357.5L171.1,358.4L175.4,359.0L179.7,359.2L184.0,359.0L188.4,358.5L192.8,357.6L197.2,356.4L201.6,354.8L206.0,353.0L210.5,351.0L215.0,348.9L219.5,346.9L224.1,344.9L228.7,343.2L233.4,341.7L237.4,338.1L232.8,339.6L228.1,341.2L223.6,343.1L219.0,345.1L214.5,347.1L210.1,349.1L205.6,351.0L201.2,352.7L196.8,354.1L192.4,355.2L188.1,356.0L183.8,356.5L179.4,356.6L175.1,356.4L170.9,355.7L166.6,354.4L162.3,352.3L158.0,349.3L153.6,345.2L149.3,339.8L144.9,333.0L140.4,325.0L135.9,315.6ZM233.4,341.7L237.8,340.4L239.2,337.6L237.4,338.1ZM345.4,374.1L349.8,377.4L353.6,375.3L349.0,371.7ZM349.8,377.4L355.2,381.7L360.6,386.4L366.1,391.4L371.6,396.4L377.1,401.3L380.8,399.3L375.3,394.3L369.9,389.3L364.4,384.4L359.0,379.8L353.6,375.3Z" class="cf"/><path d="M86.0,134.5L91.0,144.9M102.5,216.6L107.2,223.1M117.5,274.3L122.0,278.2M131.6,314.3L135.9,315.6M145.1,340.3L149.3,339.8M158.2,353.8L162.3,352.3M171.1,358.4L175.1,356.4M184.0,359.0L188.1,356.0M197.2,356.4L201.2,352.7M210.5,351.0L214.5,347.1M224.1,344.9L228.1,341.2M238.1,340.4L242.1,336.9M252.4,337.8L256.4,334.6M267.0,337.4L271.0,334.5M281.9,339.7L285.9,337.1M297.2,345.2L301.1,342.7M312.7,353.1L316.6,350.6M328.4,362.5L332.3,360.1M344.4,373.4L348.3,371.2M360.6,386.4L364.4,384.4M377.1,401.3L380.8,399.3M91.0,144.9L96.5,173.0L101.9,199.4L107.2,223.1L112.2,243.9L117.2,262.1L122.0,278.2L126.7,292.3L131.3,304.7L135.9,315.6L140.4,325.0L144.9,333.0L149.3,339.8L153.6,345.2L158.0,349.3L162.3,352.3L166.6,354.4L170.9,355.7L175.1,356.4L179.4,356.6L183.8,356.5L188.1,356.0L192.4,355.2L196.8,354.1L201.2,352.7L205.6,351.0L210.1,349.1L214.5,347.1L219.0,345.1L223.6,343.1L228.1,341.2L232.8,339.6L237.4,338.1L242.1,336.9L246.8,335.9L251.6,335.1L256.4,334.6L261.2,334.3L266.1,334.2L271.0,334.5L275.9,335.0L280.9,335.9L285.9,337.1L291.0,338.7L296.0,340.5L301.1,342.7L306.3,345.1L311.4,347.8L316.6,350.6L321.8,353.6L327.1,356.7L332.3,360.1L337.6,363.6L342.9,367.3L348.3,371.2L353.6,375.3L359.0,379.8L364.4,384.4L369.9,389.3L375.3,394.3L380.8,399.3" class="m"/><path d="M130.6,304.4L131.1,304.0M128.4,306.2L130.6,304.4M136.5,324.5L139.2,322.5M136.3,324.7L136.5,324.5M213.3,349.7L215.0,346.9M237.8,340.4L239.2,337.6M345.4,374.1L349.0,371.7" class="y"/><path d="M80.8,122.6L86.7,155.0L92.3,184.2L97.7,210.0L102.9,232.6L108.0,252.5L113.0,270.2L117.8,286.2L122.6,300.4L127.0,302.7L122.3,289.4L117.5,274.3L112.6,257.4L107.6,238.3L102.5,216.6L97.2,191.9L91.6,164.3L86.0,134.5ZM122.6,300.4L125.5,308.4L128.4,306.2L127.0,302.7ZM237.7,340.7L238.1,340.4L237.8,340.4ZM236.4,343.3L238.8,342.7L242.8,339.3L238.1,340.4L237.7,340.7ZM238.8,342.7L243.5,341.8L248.3,341.1L253.2,340.6L258.1,340.3L263.0,340.4L267.9,340.7L272.9,341.4L277.9,342.4L283.0,343.8L288.1,345.6L293.2,347.7L298.3,350.1L303.5,352.8L308.7,355.7L314.0,358.7L319.2,361.9L324.5,365.2L329.8,368.6L335.2,372.1L340.5,375.7L344.4,373.4L339.1,369.6L333.7,366.0L328.4,362.5L323.2,359.2L317.9,356.1L312.7,353.1L307.5,350.3L302.3,347.6L297.2,345.2L292.1,343.1L287.0,341.2L281.9,339.7L276.9,338.6L272.0,337.8L267.0,337.4L262.1,337.3L257.2,337.4L252.4,337.8L247.6,338.4L242.8,339.3ZM340.5,375.7L341.6,376.4L345.4,374.1L344.4,373.4Z" class="rf"/><path d="M125.5,308.4L127.2,312.9L131.6,314.3L128.4,306.2ZM127.2,312.9L131.8,323.8L136.4,333.0L140.9,340.7L145.3,346.9L149.6,351.6L154.0,355.1L158.3,357.6L162.6,359.3L166.9,360.4L171.3,361.3L175.6,361.7L180.0,361.9L184.3,361.7L188.7,361.1L193.1,360.1L197.5,358.6L202.0,356.9L206.5,354.9L211.0,352.7L215.5,350.6L220.1,348.6L224.7,346.8L229.3,345.2L233.4,341.7L228.7,343.2L224.1,344.9L219.5,346.9L215.0,348.9L210.5,351.0L206.0,353.0L201.6,354.8L197.2,356.4L192.8,357.6L188.4,358.5L184.0,359.0L179.7,359.2L175.4,359.0L171.1,358.4L166.8,357.5L162.5,356.0L158.2,353.8L153.8,350.5L149.5,346.1L145.1,340.3L140.6,333.1L136.2,324.4L131.6,314.3ZM229.3,345.2L234.0,343.8L237.7,340.7L237.8,340.4L233.4,341.7ZM234.0,343.8L236.4,343.3L237.7,340.7ZM341.6,376.4L345.9,379.5L349.8,377.4L345.4,374.1ZM345.9,379.5L351.4,383.7L356.8,388.4L362.3,393.6L367.8,398.7L373.3,403.5L377.1,401.3L371.6,396.4L366.1,391.4L360.6,386.4L355.2,381.7L349.8,377.4Z" class="cf"/><path d="M80.8,122.6L86.0,134.5M97.7,210.0L102.5,216.6M113.0,270.2L117.5,274.3M127.2,312.9L131.6,314.3M140.9,340.7L145.1,340.3M154.0,355.1L158.2,353.8M166.9,360.4L171.1,358.4M180.0,361.9L184.0,359.0M193.1,360.1L197.2,356.4M206.5,354.9L210.5,351.0M220.1,348.6L224.1,344.9M234.0,343.8L238.1,340.4M248.3,341.1L252.4,337.8M263.0,340.4L267.0,337.4M277.9,342.4L281.9,339.7M293.2,347.7L297.2,345.2M308.7,355.7L312.7,353.1M324.5,365.2L328.4,362.5M340.5,375.7L344.4,373.4M356.8,388.4L360.6,386.4M373.3,403.5L377.1,401.3" class="m"/><path d="M125.5,308.4L128.4,306.2M133.4,326.9L136.3,324.7M212.0,351.7L213.3,349.7M211.6,352.5L212.0,351.7M237.7,340.7L237.8,340.4M236.4,343.3L237.7,340.7M341.6,376.4L345.4,374.1" class="y"/><path d="M75.6,110.4L81.6,145.3L87.4,176.2L92.9,203.2L98.2,226.7L103.3,247.4L108.4,266.0L113.3,282.9L118.1,298.0L122.6,300.4L117.8,286.2L113.0,270.2L108.0,252.5L102.9,232.6L97.7,210.0L92.3,184.2L86.7,155.0L80.8,122.6ZM118.1,298.0L122.5,310.5L125.5,308.4L122.6,300.4ZM234.9,345.9L238.8,342.7L236.4,343.3ZM234.8,346.1L239.5,345.1L243.5,341.8L238.8,342.7L234.9,345.9ZM239.5,345.1L244.3,344.4L249.1,343.8L254.0,343.4L258.9,343.4L263.9,343.6L268.9,344.2L273.9,345.1L279.0,346.5L284.0,348.2L289.2,350.3L294.3,352.7L299.5,355.4L304.7,358.3L310.0,361.4L315.3,364.6L320.6,367.9L325.9,371.3L331.2,374.6L336.6,378.0L340.5,375.7L335.2,372.1L329.8,368.6L324.5,365.2L319.2,361.9L314.0,358.7L308.7,355.7L303.5,352.8L298.3,350.1L293.2,347.7L288.1,345.6L283.0,343.8L277.9,342.4L272.9,341.4L267.9,340.7L263.0,340.4L258.1,340.3L253.2,340.6L248.3,341.1L243.5,341.8ZM336.6,378.0L337.6,378.7L341.6,376.4L340.5,375.7Z" class="rf"/><path d="M122.5,310.5L122.8,311.4L127.2,312.9L125.5,308.4ZM122.8,311.4L127.5,322.9L132.1,332.8L136.6,341.0L141.0,347.6L145.4,352.7L149.8,356.4L154.1,359.1L158.4,361.0L162.8,362.4L167.1,363.5L171.5,364.3L175.8,364.8L180.2,364.9L184.6,364.6L189.0,363.8L193.5,362.4L197.9,360.7L202.4,358.7L206.9,356.5L211.4,354.4L216.0,352.3L220.6,350.4L225.3,348.7L230.0,347.3L234.0,343.8L229.3,345.2L224.7,346.8L220.1,348.6L215.5,350.6L211.0,352.7L206.5,354.9L202.0,356.9L197.5,358.6L193.1,360.1L188.7,361.1L184.3,361.7L180.0,361.9L175.6,361.7L171.3,361.3L166.9,360.4L162.6,359.3L158.3,357.6L154.0,355.1L149.6,351.6L145.3,346.9L140.9,340.7L136.4,333.0L131.8,323.8L127.2,312.9ZM230.0,347.3L234.7,346.1L234.9,345.9L236.4,343.3L234.0,343.8ZM234.7,346.1L234.8,346.1L234.9,345.9ZM337.6,378.7L342.0,381.6L345.9,379.5L341.6,376.4ZM342.0,381.6L347.5,385.7L352.9,390.6L358.4,395.9L363.9,401.2L369.4,405.8L373.3,403.5L367.8,398.7L362.3,393.6L356.8,388.4L351.4,383.7L345.9,379.5Z" class="cf"/><path d="M75.6,110.4L80.8,122.6M92.9,203.2L97.7,210.0M108.4,266.0L113.0,270.2M122.8,311.4L127.2,312.9M136.6,341.0L140.9,340.7M149.8,356.4L154.0,355.1M162.8,362.4L166.9,360.4M175.8,364.8L180.0,361.9M189.0,363.8L193.1,360.1M202.4,358.7L206.5,354.9M216.0,352.3L220.1,348.6M230.0,347.3L234.0,343.8M244.3,344.4L248.3,341.1M258.9,343.4L263.0,340.4M273.9,345.1L277.9,342.4M289.2,350.3L293.2,347.7M304.7,358.3L308.7,355.7M320.6,367.9L324.5,365.2M336.6,378.0L340.5,375.7M352.9,390.6L356.8,388.4M369.4,405.8L373.3,403.5" class="m"/><path d="M122.5,310.5L125.5,308.4M130.4,329.1L133.4,326.9M209.6,355.2L211.6,352.5M234.9,345.9L236.4,343.3M234.8,346.1L234.9,345.9M337.6,378.7L341.6,376.4" class="y"/><path d="M75.6,110.4L81.6,145.3L87.4,176.2L92.9,203.2L98.2,226.7L103.3,247.4L108.4,266.0L113.3,282.9L118.1,298.0L122.8,311.4L127.5,322.9L132.1,332.8L136.6,341.0L141.0,347.6L145.4,352.7L149.8,356.4L154.1,359.1L158.4,361.0L162.8,362.4L167.1,363.5L171.5,364.3L175.8,364.8L180.2,364.9L184.6,364.6L189.0,363.8L193.5,362.4L197.9,360.7L202.4,358.7L206.9,356.5L211.4,354.4L216.0,352.3L220.6,350.4L225.3,348.7L230.0,347.3L234.7,346.1L239.5,345.1L244.3,344.4L249.1,343.8L254.0,343.4L258.9,343.4L263.9,343.6L268.9,344.2L273.9,345.1L279.0,346.5L284.0,348.2L289.2,350.3L294.3,352.7L299.5,355.4L304.7,358.3L310.0,361.4L315.3,364.6L320.6,367.9L325.9,371.3L331.2,374.6L336.6,378.0L342.0,381.6L347.5,385.7L352.9,390.6L358.4,395.9L363.9,401.2L369.4,405.8" class="m"/><path d="M390.5,395.9L400.4,387.3L409.0,379.3L417.6,371.9L426.2,364.0L431.1,359.7L437.8,357.2L445.8,355.0L447.7,352.3L450.7,349.8L455.0,353.8M429.2,261.6L436.0,268.3L442.7,275.7L449.5,282.5L455.6,288.6L464.8,288.6L464.2,286.2L469.8,284.9L476.5,283.1L479.0,280.0L483.3,275.1" class="y"/></g>
<path d="M75.0,100.5L89.6,361.5L368.8,463.6L549.2,334.9L565.5,70.7" stroke="#1a1a1a" stroke-width="1.45" fill="none" stroke-linecap="butt" stroke-linejoin="miter"/>
<path d="M76.9,134.1L83.2,132.7" stroke="#1a1a1a" stroke-width="1.45" fill="none" stroke-linecap="butt" />
<path d="M78.8,168.0L85.1,166.4" stroke="#1a1a1a" stroke-width="1.45" fill="none" stroke-linecap="butt" />
<path d="M80.7,201.4L86.9,199.6" stroke="#1a1a1a" stroke-width="1.45" fill="none" stroke-linecap="butt" />
<path d="M82.5,234.4L88.7,232.4" stroke="#1a1a1a" stroke-width="1.45" fill="none" stroke-linecap="butt" />
<path d="M84.4,266.9L90.5,264.7" stroke="#1a1a1a" stroke-width="1.45" fill="none" stroke-linecap="butt" />
<path d="M86.2,299.0L92.2,296.6" stroke="#1a1a1a" stroke-width="1.45" fill="none" stroke-linecap="butt" />
<path d="M87.9,330.6L93.9,328.1" stroke="#1a1a1a" stroke-width="1.45" fill="none" stroke-linecap="butt" />
<path d="M138.3,379.6L144.1,376.8" stroke="#1a1a1a" stroke-width="1.45" fill="none" stroke-linecap="butt" />
<path d="M190.1,398.6L195.8,395.5" stroke="#1a1a1a" stroke-width="1.45" fill="none" stroke-linecap="butt" />
<path d="M245.5,418.8L251.1,415.6" stroke="#1a1a1a" stroke-width="1.45" fill="none" stroke-linecap="butt" />
<path d="M304.8,440.5L310.3,437.0" stroke="#1a1a1a" stroke-width="1.45" fill="none" stroke-linecap="butt" />
<path d="M411.8,433.0L405.6,431.0" stroke="#1a1a1a" stroke-width="1.45" fill="none" stroke-linecap="butt" />
<path d="M450.9,405.2L444.7,403.2" stroke="#1a1a1a" stroke-width="1.45" fill="none" stroke-linecap="butt" />
<path d="M486.6,379.8L480.3,377.9" stroke="#1a1a1a" stroke-width="1.45" fill="none" stroke-linecap="butt" />
<path d="M519.1,356.6L512.9,354.8" stroke="#1a1a1a" stroke-width="1.45" fill="none" stroke-linecap="butt" />
<text x="69.5" y="107.2" text-anchor="end" font-family="Liberation Serif, serif" font-size="23.00" fill="#111" >0.6</text>
<text x="71.4" y="141.5" text-anchor="end" font-family="Liberation Serif, serif" font-size="23.00" fill="#111" >0.5</text>
<text x="73.3" y="175.4" text-anchor="end" font-family="Liberation Serif, serif" font-size="23.00" fill="#111" >0.4</text>
<text x="75.2" y="208.8" text-anchor="end" font-family="Liberation Serif, serif" font-size="23.00" fill="#111" >0.3</text>
<text x="77.0" y="241.8" text-anchor="end" font-family="Liberation Serif, serif" font-size="23.00" fill="#111" >0.2</text>
<text x="78.9" y="274.3" text-anchor="end" font-family="Liberation Serif, serif" font-size="23.00" fill="#111" >0.1</text>
<text x="80.7" y="306.4" text-anchor="end" font-family="Liberation Serif, serif" font-size="23.00" fill="#111" >0</text>
<text x="82.4" y="338.0" text-anchor="end" font-family="Liberation Serif, serif" font-size="23.00" fill="#111" >-0.1</text>
<text x="84.2" y="366.0" text-anchor="end" font-family="Liberation Serif, serif" font-size="23.00" fill="#111" >-0.2</text>
<text x="83.9" y="383.6" text-anchor="middle" font-family="Liberation Serif, serif" font-size="23.00" fill="#111" >0</text>
<text x="122.3" y="398.8" text-anchor="middle" font-family="Liberation Serif, serif" font-size="23.00" fill="#111" >40</text>
<text x="172.4" y="415.5" text-anchor="middle" font-family="Liberation Serif, serif" font-size="23.00" fill="#111" >80</text>
<text x="224.0" y="436.4" text-anchor="middle" font-family="Liberation Serif, serif" font-size="23.00" fill="#111" >120</text>
<text x="283.2" y="459.2" text-anchor="middle" font-family="Liberation Serif, serif" font-size="23.00" fill="#111" >160</text>
<text x="343.7" y="480.2" text-anchor="middle" font-family="Liberation Serif, serif" font-size="23.00" fill="#111" >200</text>
<text x="382.0" y="479.6" text-anchor="middle" font-family="Liberation Serif, serif" font-size="23.00" fill="#111" >0</text>
<text x="432.9" y="449.6" text-anchor="middle" font-family="Liberation Serif, serif" font-size="23.00" fill="#111" >20</text>
<text x="473.7" y="421.3" text-anchor="middle" font-family="Liberation Serif, serif" font-size="23.00" fill="#111" >40</text>
<text x="508.2" y="396.2" text-anchor="middle" font-family="Liberation Serif, serif" font-size="23.00" fill="#111" >60</text>
<text x="540.9" y="369.9" text-anchor="middle" font-family="Liberation Serif, serif" font-size="23.00" fill="#111" >80</text>
<text x="573.7" y="346.9" text-anchor="middle" font-family="Liberation Serif, serif" font-size="23.00" fill="#111" >100</text>
<text transform="translate(25.4,237.8) rotate(-90)" text-anchor="middle" font-family="Liberation Serif, serif" font-size="23.3" fill="#111">Error of <tspan font-style="italic">e</tspan><tspan font-size="15" dy="5">5</tspan><tspan dy="-5"> (‰)</tspan></text>
<text transform="translate(187.5,450.5) rotate(20.5)" text-anchor="middle" font-family="Liberation Serif, serif" font-size="23.3" fill="#111"><tspan y="7.5" font-style="italic">P</tspan><tspan font-size="15" dy="5.5">2</tspan><tspan dy="-5.5"> (MW)</tspan></text>
<text transform="translate(514,423.5) rotate(-36)" text-anchor="middle" font-family="Liberation Serif, serif" font-size="23.3" fill="#111"><tspan y="7.5" font-style="italic">P</tspan><tspan font-size="15" dy="4.5" dx="1.5">3</tspan><tspan dy="-4.5" dx="-2.5"> (MW)</tspan></text>
<rect x="587.5" y="75.3" width="25.6" height="55" fill="#de2f20"/>
<rect x="587.5" y="130.3" width="25.6" height="54.1" fill="#8ddce3"/>
<path d="M621.3,75.3H587.5V184.4H621.3M613.1,75.3V184.4M613.1,130.3H621.3" stroke="#1a1a1a" stroke-width="1.45" fill="none" stroke-linecap="butt"/>
<text x="625.2" y="82.7" text-anchor="start" font-family="Liberation Serif, serif" font-size="23.00" fill="#111" >0.6‰</text>
<text x="625.2" y="137.7" text-anchor="start" font-family="Liberation Serif, serif" font-size="23.00" fill="#111" >0‰</text>
<text x="626.5" y="191.8" text-anchor="start" font-family="Liberation Serif, serif" font-size="23.00" fill="#111" >-0.1‰</text>
</svg></body></html>
